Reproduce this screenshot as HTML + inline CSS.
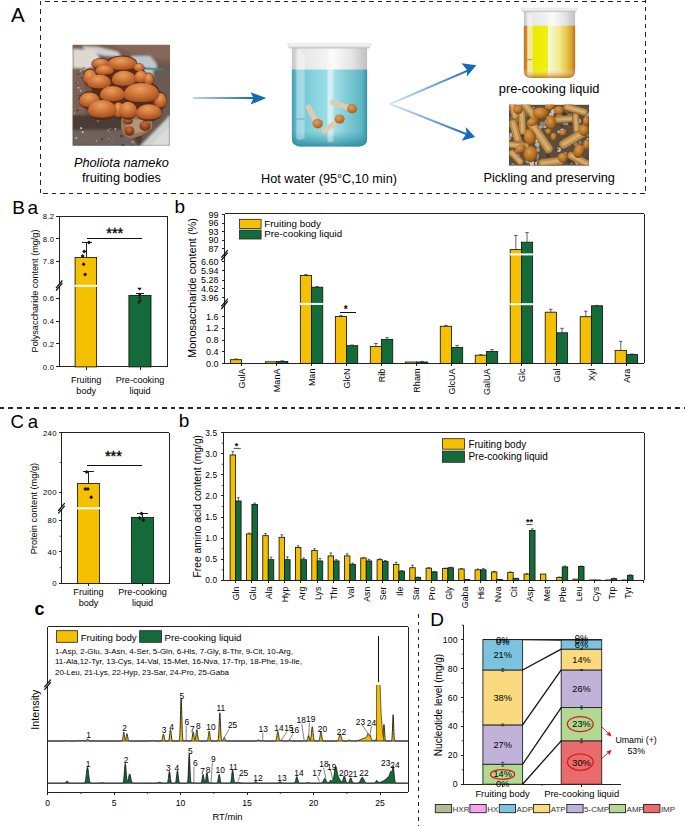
<!DOCTYPE html>
<html><head><meta charset="utf-8"><style>
html,body{margin:0;padding:0;background:#fff;}
svg{display:block;font-family:"Liberation Sans", sans-serif;}
</style></head><body>
<svg width="685" height="826" viewBox="0 0 685 826">
<rect width="685" height="826" fill="#fff"/>
<text x="11.00" y="21.70" font-size="20.5">A</text>
<line x1="45.10" y1="1.50" x2="646.00" y2="1.50" stroke="#222" stroke-width="1.2" stroke-dasharray="4.5 4.03" shape-rendering="crispEdges"/>
<line x1="40.50" y1="0.90" x2="40.50" y2="193.60" stroke="#222" stroke-width="1.2" stroke-dasharray="4.5 4.03" shape-rendering="crispEdges"/>
<line x1="43.30" y1="193.30" x2="646.00" y2="193.30" stroke="#222" stroke-width="1.2" stroke-dasharray="4.5 4.03" shape-rendering="crispEdges"/>
<line x1="645.50" y1="-1.65" x2="645.50" y2="193.60" stroke="#222" stroke-width="1.2" stroke-dasharray="4.5 4.03" shape-rendering="crispEdges"/>
<defs>
<clipPath id="cpM"><rect x="72.5" y="44.8" width="97.5" height="101"/></clipPath>
<clipPath id="cpP"><rect x="509" y="104.6" width="80" height="61.2"/></clipPath>
<linearGradient id="gArr" x1="0" x2="1" y1="0" y2="0"><stop offset="0" stop-color="#b8d6f0"/><stop offset="1" stop-color="#1668b8"/></linearGradient>
<linearGradient id="gArrU" gradientUnits="userSpaceOnUse" x1="390" y1="103" x2="470" y2="68"><stop offset="0" stop-color="#d6e8f7"/><stop offset="1" stop-color="#1668b8"/></linearGradient>
<linearGradient id="gArrD" gradientUnits="userSpaceOnUse" x1="390" y1="103" x2="470" y2="135"><stop offset="0" stop-color="#d6e8f7"/><stop offset="1" stop-color="#1668b8"/></linearGradient>
<linearGradient id="gWater" x1="0" x2="1" y1="0" y2="0"><stop offset="0" stop-color="#3f9cae"/><stop offset="0.07" stop-color="#6cc2d0"/><stop offset="0.3" stop-color="#88d4de"/><stop offset="0.46" stop-color="#98dde6"/><stop offset="0.5" stop-color="#c4ecf2"/><stop offset="0.56" stop-color="#a4e0e8"/><stop offset="0.75" stop-color="#7ccad6"/><stop offset="0.93" stop-color="#5fb6c4"/><stop offset="1" stop-color="#3a92a4"/></linearGradient>
<linearGradient id="gWaterV" x1="0" x2="0" y1="0" y2="1"><stop offset="0" stop-color="#3a98aa" stop-opacity="0"/><stop offset="0.8" stop-color="#3a98aa" stop-opacity="0"/><stop offset="1" stop-color="#24889a" stop-opacity="0.85"/></linearGradient>
<linearGradient id="gGlass" x1="0" x2="1" y1="0" y2="0"><stop offset="0" stop-color="#c4c4c4"/><stop offset="0.1" stop-color="#e6e6e6"/><stop offset="0.45" stop-color="#f2f2f2"/><stop offset="0.55" stop-color="#fbfbfb"/><stop offset="0.8" stop-color="#e4e4e4"/><stop offset="1" stop-color="#c0c0c0"/></linearGradient>
<linearGradient id="gRim" x1="0" x2="0" y1="0" y2="1"><stop offset="0" stop-color="#fafafa"/><stop offset="0.6" stop-color="#e8e8e8"/><stop offset="1" stop-color="#b8b8b8"/></linearGradient>
<linearGradient id="gYel" x1="0" x2="1" y1="0" y2="0"><stop offset="0" stop-color="#c46a1e"/><stop offset="0.05" stop-color="#d88a28"/><stop offset="0.08" stop-color="#efe6a0"/><stop offset="0.16" stop-color="#f2eca8"/><stop offset="0.18" stop-color="#eaea00"/><stop offset="0.46" stop-color="#f2f010"/><stop offset="0.48" stop-color="#ffffe8"/><stop offset="0.52" stop-color="#f8f6c8"/><stop offset="0.68" stop-color="#f2ec90"/><stop offset="0.82" stop-color="#e6cc48"/><stop offset="0.93" stop-color="#d8a030"/><stop offset="1" stop-color="#c46a1e"/></linearGradient>
<linearGradient id="gYelV" x1="0" x2="0" y1="0" y2="1"><stop offset="0" stop-color="#fff" stop-opacity="0"/><stop offset="0.82" stop-color="#fff" stop-opacity="0"/><stop offset="1" stop-color="#b85a10" stop-opacity="0.75"/></linearGradient>
<radialGradient id="gCap" cx="0.45" cy="0.3" r="0.78"><stop offset="0" stop-color="#e8a060"/><stop offset="0.5" stop-color="#cc7036"/><stop offset="0.82" stop-color="#aa5626"/><stop offset="1" stop-color="#7e3a16"/></radialGradient>
<radialGradient id="gCapD" cx="0.45" cy="0.3" r="0.75"><stop offset="0" stop-color="#c07040"/><stop offset="0.5" stop-color="#9a4a22"/><stop offset="1" stop-color="#5a2810"/></radialGradient>
<radialGradient id="gPk" cx="0.4" cy="0.35" r="0.75"><stop offset="0" stop-color="#dc9c4c"/><stop offset="0.6" stop-color="#b06a1e"/><stop offset="1" stop-color="#643810"/></radialGradient>
<linearGradient id="gStem" x1="0" x2="0" y1="0" y2="1"><stop offset="0" stop-color="#f0d8a8"/><stop offset="0.5" stop-color="#dcb878"/><stop offset="1" stop-color="#a8824a"/></linearGradient>
<linearGradient id="gMstem" x1="0" x2="0" y1="0" y2="1"><stop offset="0" stop-color="#f2e6d4"/><stop offset="1" stop-color="#d8c2a2"/></linearGradient>
<radialGradient id="gMcap" cx="0.4" cy="0.35" r="0.7"><stop offset="0" stop-color="#e0a060"/><stop offset="0.7" stop-color="#c07030"/><stop offset="1" stop-color="#9a5420"/></radialGradient>
<filter id="fb" x="-0.1" y="-0.1" width="1.2" height="1.2"><feGaussianBlur stdDeviation="0.55"/></filter>
<filter id="fb2" x="-0.2" y="-0.2" width="1.4" height="1.4"><feGaussianBlur stdDeviation="1.2"/></filter>
</defs>
<g clip-path="url(#cpM)">
<rect x="72.50" y="44.80" width="97.50" height="101.00" fill="#6a5850"/>
<g filter="url(#fb2)">
<path d="M72 44H172V64L150 60 118 52 95 54 72 58Z" fill="#7a5e50"/>
<path d="M110 44H172V60L150 58 125 50Z" fill="#86685a"/>
<path d="M82 46 L98 47 L118 52 L122 57 L104 56 L86 51Z" fill="#cfcfd2"/>
<path d="M73 49 94 50 100 58 95 67 82 70 73 68Z" fill="#ddd8d0"/>
<path d="M131 56 H150 L157 64 L156 78 L131 78Z" fill="#bcc6cc"/>
<path d="M153 70 172 66 172 117 158 117 153 100Z" fill="#6a5a52"/>
<path d="M72 68 83 68 86 100 84 117 72 117Z" fill="#7a6254"/>
<path d="M72 115 H142 L142 146 H72Z" fill="#4c3e36"/>
<path d="M72 130 H130 L138 146 H72Z" fill="#6e625a"/>
<path d="M140 146 L170 115 L170 146Z" fill="#cfd0d0"/>
<path d="M150 146 L170 125 L170 146Z" fill="#dcdcdc"/>
</g>
<circle cx="76.6" cy="106.6" r="0.4" fill="#3e3028" opacity="0.8"/>
<circle cx="112.1" cy="141.8" r="0.9" fill="#8a7a6c" opacity="0.8"/>
<circle cx="100.3" cy="144.1" r="0.4" fill="#c4bab0" opacity="0.8"/>
<circle cx="80.7" cy="90.7" r="1.0" fill="#c4bab0" opacity="0.8"/>
<circle cx="79.7" cy="111.7" r="0.5" fill="#a89888" opacity="0.8"/>
<circle cx="76.7" cy="82.5" r="0.9" fill="#3e3028" opacity="0.8"/>
<circle cx="96.4" cy="140.7" r="0.7" fill="#d8d0c8" opacity="0.8"/>
<circle cx="77.9" cy="110.6" r="1.0" fill="#2e2420" opacity="0.8"/>
<circle cx="107.3" cy="129.8" r="0.4" fill="#a89888" opacity="0.8"/>
<circle cx="121.6" cy="117.8" r="1.1" fill="#3e3028" opacity="0.8"/>
<circle cx="80.7" cy="70.7" r="1.0" fill="#c4bab0" opacity="0.8"/>
<circle cx="121.9" cy="144.9" r="0.9" fill="#3e3028" opacity="0.8"/>
<circle cx="72.8" cy="99.5" r="0.6" fill="#8a7a6c" opacity="0.8"/>
<circle cx="132.6" cy="142.0" r="0.9" fill="#d8d0c8" opacity="0.8"/>
<circle cx="76.3" cy="138.0" r="1.0" fill="#d8d0c8" opacity="0.8"/>
<circle cx="77.2" cy="82.7" r="0.5" fill="#2e2420" opacity="0.8"/>
<circle cx="77.4" cy="82.6" r="0.7" fill="#d8d0c8" opacity="0.8"/>
<circle cx="131.9" cy="145.4" r="0.7" fill="#3e3028" opacity="0.8"/>
<circle cx="125.0" cy="125.2" r="0.7" fill="#d8d0c8" opacity="0.8"/>
<circle cx="83.8" cy="67.8" r="1.1" fill="#8a7a6c" opacity="0.8"/>
<circle cx="97.8" cy="121.2" r="1.1" fill="#8a7a6c" opacity="0.8"/>
<circle cx="93.4" cy="117.4" r="0.4" fill="#2e2420" opacity="0.8"/>
<circle cx="108.8" cy="138.7" r="0.6" fill="#c4bab0" opacity="0.8"/>
<circle cx="109.8" cy="128.3" r="0.6" fill="#c4bab0" opacity="0.8"/>
<circle cx="115.4" cy="129.1" r="1.0" fill="#c4bab0" opacity="0.8"/>
<circle cx="128.9" cy="131.5" r="0.9" fill="#c4bab0" opacity="0.8"/>
<circle cx="123.7" cy="145.2" r="1.0" fill="#3e3028" opacity="0.8"/>
<circle cx="90.6" cy="121.4" r="1.1" fill="#3e3028" opacity="0.8"/>
<circle cx="129.1" cy="123.9" r="0.6" fill="#2e2420" opacity="0.8"/>
<circle cx="78.1" cy="74.2" r="0.7" fill="#2e2420" opacity="0.8"/>
<circle cx="135.5" cy="133.2" r="0.7" fill="#d8d0c8" opacity="0.8"/>
<circle cx="96.6" cy="117.5" r="1.0" fill="#a89888" opacity="0.8"/>
<circle cx="136.2" cy="128.6" r="1.0" fill="#3e3028" opacity="0.8"/>
<circle cx="138.7" cy="123.7" r="0.7" fill="#d8d0c8" opacity="0.8"/>
<circle cx="138.8" cy="124.0" r="0.5" fill="#c4bab0" opacity="0.8"/>
<circle cx="74.4" cy="113.3" r="0.7" fill="#d8d0c8" opacity="0.8"/>
<circle cx="82.7" cy="132.1" r="1.1" fill="#d8d0c8" opacity="0.8"/>
<circle cx="128.5" cy="124.1" r="0.4" fill="#d8d0c8" opacity="0.8"/>
<circle cx="133.5" cy="132.1" r="0.5" fill="#2e2420" opacity="0.8"/>
<circle cx="110.6" cy="132.7" r="0.4" fill="#d8d0c8" opacity="0.8"/>
<circle cx="113.3" cy="138.3" r="0.7" fill="#8a7a6c" opacity="0.8"/>
<circle cx="81.7" cy="78.1" r="0.8" fill="#3e3028" opacity="0.8"/>
<circle cx="82.4" cy="115.5" r="0.4" fill="#a89888" opacity="0.8"/>
<circle cx="111.4" cy="128.7" r="0.4" fill="#8a7a6c" opacity="0.8"/>
<circle cx="76.5" cy="81.3" r="0.4" fill="#a89888" opacity="0.8"/>
<circle cx="125.7" cy="139.0" r="0.7" fill="#8a7a6c" opacity="0.8"/>
<circle cx="108.1" cy="130.6" r="0.8" fill="#c4bab0" opacity="0.8"/>
<circle cx="121.4" cy="136.1" r="1.1" fill="#2e2420" opacity="0.8"/>
<circle cx="137.1" cy="137.4" r="0.5" fill="#3e3028" opacity="0.8"/>
<circle cx="82.1" cy="75.7" r="0.7" fill="#a89888" opacity="0.8"/>
<circle cx="81.1" cy="128.2" r="1.1" fill="#d8d0c8" opacity="0.8"/>
<circle cx="134.3" cy="143.4" r="0.5" fill="#a89888" opacity="0.8"/>
<circle cx="141.8" cy="132.6" r="0.5" fill="#3e3028" opacity="0.8"/>
<circle cx="79.0" cy="95.3" r="0.6" fill="#3e3028" opacity="0.8"/>
<circle cx="141.5" cy="129.1" r="1.1" fill="#a89888" opacity="0.8"/>
<circle cx="78.4" cy="87.8" r="1.1" fill="#c4bab0" opacity="0.8"/>
<circle cx="102.1" cy="138.9" r="1.0" fill="#2e2420" opacity="0.8"/>
<circle cx="73.7" cy="73.1" r="0.6" fill="#8a7a6c" opacity="0.8"/>
<circle cx="81.5" cy="108.2" r="0.5" fill="#a89888" opacity="0.8"/>
<circle cx="85.2" cy="140.6" r="0.9" fill="#8a7a6c" opacity="0.8"/>
<path d="M142 67 164 68.5 164 70.5 142 69.5Z" fill="#3a8a6a" opacity="0.75"/>
<path d="M96 72 Q106 64 124 64 Q144 66 150 80 Q156 96 152 108 Q142 114 130 114 Q112 114 100 108 Q90 98 92 84Z" fill="#5a2e18"/>
<path d="M122 116 Q136 113 152 118 L152 128 Q142 138 128 138 Q120 132 121 124Z" fill="#9c7658"/>
<path d="M126 120 Q136 118 146 121 L144 131 Q134 135 127 131Z" fill="#b4947a"/>
<ellipse cx="129.5" cy="131" rx="5" ry="4.8" fill="url(#gCapD)"/>
<ellipse cx="145" cy="126" rx="5.5" ry="5" fill="url(#gCapD)"/>
<ellipse cx="128" cy="121" rx="5" ry="3.5" fill="url(#gCapD)"/>
<ellipse cx="149" cy="121.3" rx="2.4" ry="1.5" fill="#d08040"/>
<ellipse cx="100.5" cy="64.0" rx="9.192" ry="5.9" fill="#55280f" opacity="0.9"/>
<ellipse cx="122" cy="63.7" rx="15.34" ry="8.276" fill="#55280f" opacity="0.9"/>
<ellipse cx="139" cy="68.2" rx="5.588" ry="5.0360000000000005" fill="#55280f" opacity="0.9"/>
<ellipse cx="104.5" cy="70.7" rx="9.616" ry="6.1160000000000005" fill="#55280f" opacity="0.9"/>
<ellipse cx="90" cy="77.2" rx="7.284000000000001" ry="8.924" fill="#55280f" opacity="0.9"/>
<ellipse cx="124" cy="78.7" rx="12.690000000000001" ry="9.356" fill="#55280f" opacity="0.9"/>
<ellipse cx="141" cy="77.2" rx="7.072000000000001" ry="7.412000000000001" fill="#55280f" opacity="0.9"/>
<ellipse cx="148.8" cy="79.7" rx="5.164000000000001" ry="7.196000000000001" fill="#55280f" opacity="0.9"/>
<ellipse cx="99" cy="82.0" rx="12.372" ry="8.600000000000001" fill="#55280f" opacity="0.9"/>
<ellipse cx="160.5" cy="100.7" rx="6.436" ry="8.924" fill="#55280f" opacity="0.9"/>
<ellipse cx="89.5" cy="100.2" rx="10.888000000000002" ry="8.924" fill="#55280f" opacity="0.9"/>
<ellipse cx="112.4" cy="94.10000000000001" rx="13.008000000000001" ry="9.356" fill="#55280f" opacity="0.9"/>
<ellipse cx="141.5" cy="92.7" rx="18.308000000000003" ry="11.516" fill="#55280f" opacity="0.9"/>
<ellipse cx="118.5" cy="110.2" rx="5.800000000000001" ry="9.14" fill="#55280f" opacity="0.9"/>
<ellipse cx="102.3" cy="109.2" rx="14.916" ry="10.868" fill="#55280f" opacity="0.9"/>
<ellipse cx="128" cy="110.2" rx="9.616" ry="9.788" fill="#55280f" opacity="0.9"/>
<ellipse cx="149" cy="112.2" rx="13.432" ry="9.356" fill="#55280f" opacity="0.9"/>
<path d="M91.8 64.7 C91.8 56.6 109.2 56.6 109.2 64.7 Q108.3 67.9 100.5 67.9 Q92.7 67.9 91.8 64.7Z" fill="url(#gCap)"/>
<path d="M107.2 65.2 C107.2 53.6 136.8 53.6 136.8 65.2 Q135.4 69.9 122.0 69.9 Q108.6 69.9 107.2 65.2Z" fill="url(#gCap)"/>
<path d="M133.9 68.6 C133.9 61.8 144.1 61.8 144.1 68.6 Q143.6 71.3 139.0 71.3 Q134.4 71.3 133.9 68.6Z" fill="url(#gCap)"/>
<path d="M95.4 71.5 C95.4 63.0 113.6 63.0 113.6 71.5 Q112.7 74.8 104.5 74.8 Q96.3 74.8 95.4 71.5Z" fill="url(#gCap)"/>
<path d="M83.2 78.9 C83.2 66.3 96.8 66.3 96.8 78.9 Q96.1 84.0 90.0 84.0 Q83.9 84.0 83.2 78.9Z" fill="url(#gCap)"/>
<path d="M111.8 80.6 C111.8 67.3 136.2 67.3 136.2 80.6 Q135.0 85.9 124.0 85.9 Q113.0 85.9 111.8 80.6Z" fill="url(#gCap)"/>
<path d="M134.4 78.4 C134.4 68.1 147.6 68.1 147.6 78.4 Q146.9 82.6 141.0 82.6 Q135.1 82.6 134.4 78.4Z" fill="url(#gCap)"/>
<path d="M144.1 80.8 C144.1 70.8 153.5 70.8 153.5 80.8 Q153.0 84.9 148.8 84.9 Q144.6 84.9 144.1 80.8Z" fill="url(#gCap)"/>
<path d="M87.1 83.6 C87.1 71.5 110.9 71.5 110.9 83.6 Q109.7 88.5 99.0 88.5 Q88.3 88.5 87.1 83.6Z" fill="url(#gCap)"/>
<path d="M154.6 102.4 C154.6 89.8 166.4 89.8 166.4 102.4 Q165.8 107.5 160.5 107.5 Q155.2 107.5 154.6 102.4Z" fill="url(#gCap)"/>
<path d="M79.1 101.9 C79.1 89.3 99.9 89.3 99.9 101.9 Q98.8 107.0 89.5 107.0 Q80.2 107.0 79.1 101.9Z" fill="url(#gCap)"/>
<path d="M99.9 96.0 C99.9 82.7 124.9 82.7 124.9 96.0 Q123.7 101.3 112.4 101.3 Q101.1 101.3 99.9 96.0Z" fill="url(#gCap)"/>
<path d="M123.7 95.4 C123.7 78.8 159.3 78.8 159.3 95.4 Q157.5 102.0 141.5 102.0 Q125.5 102.0 123.7 95.4Z" fill="url(#gCap)"/>
<path d="M113.2 112.0 C113.2 99.1 123.8 99.1 123.8 112.0 Q123.3 117.2 118.5 117.2 Q113.7 117.2 113.2 112.0Z" fill="url(#gCap)"/>
<path d="M87.9 111.6 C87.9 96.1 116.7 96.1 116.7 111.6 Q115.3 117.8 102.3 117.8 Q89.3 117.8 87.9 111.6Z" fill="url(#gCap)"/>
<path d="M118.9 112.3 C118.9 98.3 137.1 98.3 137.1 112.3 Q136.2 117.8 128.0 117.8 Q119.8 117.8 118.9 112.3Z" fill="url(#gCap)"/>
<path d="M136.1 114.1 C136.1 100.8 161.9 100.8 161.9 114.1 Q160.6 119.4 149.0 119.4 Q137.4 119.4 136.1 114.1Z" fill="url(#gCap)"/>
</g>
<text x="121.40" y="167.30" font-size="12.75" text-anchor="middle" font-style="italic">Pholiota nameko</text>
<text x="121.40" y="182.20" font-size="12.7" text-anchor="middle">fruiting bodies</text>
<path d="M193 97.1H254V98.9H193Z" fill="url(#gArr)"/>
<path d="M250.5 92.2 266.3 98 250.5 104.6 253.6 98Z" fill="#1668b8"/>
<path d="M291.9 48 V138 Q291.9 146.4 300 146.4 H359 Q367.1 146.4 367.1 138 V48Z" fill="url(#gGlass)"/>
<path d="M291.9 69.6 V138 Q291.9 146.4 300 146.4 H359 Q367.1 146.4 367.1 138 V69.6Z" fill="url(#gWater)"/>
<path d="M291.9 69.6 V138 Q291.9 146.4 300 146.4 H359 Q367.1 146.4 367.1 138 V69.6Z" fill="url(#gWaterV)"/>
<path d="M296.4 52 Q296.4 50 300 50 L304.6 56 V138 Q300 142 296.4 138Z" fill="#fff" opacity="0.35"/>
<rect x="296.4" y="118.6" width="8" height="0.8" fill="#5aa8b6"/>
<rect x="327.5" y="50" width="6" height="92" fill="#fff" opacity="0.35"/>
<path d="M287.8 43.5 H370.5 Q371 46 369 48.3 H289.5 Q287.3 46 287.8 43.5Z" fill="url(#gRim)" stroke="#c4c4c4" stroke-width="0.4"/>
<line x1="307.4" y1="105.2" x2="315.5" y2="120.5" stroke="#e6d6bc" stroke-width="5.2" stroke-linecap="butt"/>
<line x1="307.4" y1="105.2" x2="315.5" y2="120.5" stroke="#c8ae8a" stroke-width="5.2" stroke-dasharray="0.8 1.2" opacity="0.6"/>
<ellipse cx="317.7" cy="123.6" rx="5.2" ry="4.784000000000001" fill="url(#gMcap)"/>
<line x1="330.7" y1="101.8" x2="348.5" y2="107.8" stroke="#e6d6bc" stroke-width="5.2" stroke-linecap="butt"/>
<line x1="330.7" y1="101.8" x2="348.5" y2="107.8" stroke="#c8ae8a" stroke-width="5.2" stroke-dasharray="0.8 1.2" opacity="0.6"/>
<ellipse cx="352" cy="108.7" rx="5.0" ry="4.6000000000000005" fill="url(#gMcap)"/>
<line x1="322.5" y1="132.7" x2="337.5" y2="121" stroke="#e6d6bc" stroke-width="5.2" stroke-linecap="butt"/>
<line x1="322.5" y1="132.7" x2="337.5" y2="121" stroke="#c8ae8a" stroke-width="5.2" stroke-dasharray="0.8 1.2" opacity="0.6"/>
<ellipse cx="339.6" cy="119" rx="5.0" ry="4.6000000000000005" fill="url(#gMcap)"/>
<text x="329.00" y="182.50" font-size="12.67" text-anchor="middle">Hot water (95°C,10 min)</text>
<path d="M389.5 103.2 L468.5 69.2 L469.3 71 L390.3 105Z" fill="url(#gArrU)"/>
<path d="M461.5 63.3 476.3 65.3 466.8 76.6 467.3 70.3Z" fill="#1668b8"/>
<path d="M389.7 102.8 L467.8 133.6 L467.1 135.4 L389.1 104.6Z" fill="url(#gArrD)"/>
<path d="M461.6 140.8 475 137.1 465.8 126.9 466.6 133.6Z" fill="#1668b8"/>
<path d="M523.9 11 V70.5 Q523.9 78 531.5 78 H567.5 Q575.1 78 575.1 70.5 V11Z" fill="url(#gGlass)"/>
<path d="M523.9 25.8 V70.5 Q523.9 78 531.5 78 H567.5 Q575.1 78 575.1 70.5 V25.8Z" fill="url(#gYel)"/>
<path d="M523.9 25.8 V70.5 Q523.9 78 531.5 78 H567.5 Q575.1 78 575.1 70.5 V25.8Z" fill="url(#gYelV)"/>
<path d="M527 14 Q528 13 532 14.5 V26 H527Z" fill="#fff" opacity="0.4"/>
<rect x="527" y="59.3" width="5" height="0.8" fill="#c08020"/>
<path d="M521.2 8.2 H577.1 Q577.6 10.2 575.6 11.7 H522.7 Q520.7 10.2 521.2 8.2Z" fill="url(#gRim)" stroke="#c8c8c8" stroke-width="0.4"/>
<text x="549.10" y="93.20" font-size="12.85" text-anchor="middle">pre-cooking liquid</text>
<g clip-path="url(#cpP)">
<rect x="509.00" y="104.60" width="80.00" height="61.20" fill="#5c4c3e"/>
<g filter="url(#fb)">
<circle cx="558.8" cy="149.8" r="2.2" fill="#c8c2ba"/>
<circle cx="568.2" cy="160.9" r="0.9" fill="#8c8278"/>
<circle cx="571.1" cy="119.8" r="0.9" fill="#b8b2aa"/>
<circle cx="518.1" cy="133.2" r="1.2" fill="#3e3024"/>
<circle cx="517.2" cy="119.8" r="2.1" fill="#8c8278"/>
<circle cx="531.4" cy="160.5" r="2.2" fill="#b8b2aa"/>
<circle cx="570.0" cy="109.0" r="1.9" fill="#8c8278"/>
<circle cx="519.1" cy="104.7" r="2.4" fill="#b8b2aa"/>
<circle cx="570.9" cy="163.2" r="1.1" fill="#b8b2aa"/>
<circle cx="532.1" cy="163.3" r="1.8" fill="#968c82"/>
<circle cx="559.1" cy="115.7" r="2.5" fill="#b8b2aa"/>
<circle cx="586.3" cy="159.1" r="1.3" fill="#4a3a2c"/>
<circle cx="542.2" cy="161.7" r="1.3" fill="#4a3a2c"/>
<circle cx="533.1" cy="141.4" r="0.8" fill="#968c82"/>
<circle cx="565.6" cy="108.6" r="1.4" fill="#4a3a2c"/>
<circle cx="547.5" cy="123.9" r="1.7" fill="#968c82"/>
<circle cx="523.1" cy="120.2" r="2.5" fill="#968c82"/>
<circle cx="537.6" cy="129.3" r="1.8" fill="#8c8278"/>
<circle cx="538.3" cy="139.9" r="0.8" fill="#a49c94"/>
<circle cx="565.6" cy="142.6" r="2.5" fill="#a49c94"/>
<circle cx="569.5" cy="161.3" r="2.5" fill="#4a3a2c"/>
<circle cx="550.0" cy="159.1" r="1.3" fill="#8c8278"/>
<circle cx="517.6" cy="150.3" r="2.2" fill="#c8c2ba"/>
<circle cx="532.7" cy="131.0" r="2.6" fill="#b8b2aa"/>
<circle cx="536.3" cy="141.9" r="2.5" fill="#4a3a2c"/>
<circle cx="531.1" cy="147.5" r="1.0" fill="#968c82"/>
<circle cx="534.3" cy="115.4" r="0.9" fill="#b8b2aa"/>
<circle cx="566.7" cy="123.5" r="1.7" fill="#968c82"/>
<circle cx="512.9" cy="164.8" r="1.8" fill="#8c8278"/>
<circle cx="511.5" cy="149.8" r="1.4" fill="#4a3a2c"/>
<circle cx="545.5" cy="130.3" r="0.9" fill="#968c82"/>
<circle cx="511.6" cy="134.7" r="2.3" fill="#b8b2aa"/>
<circle cx="587.5" cy="139.0" r="1.0" fill="#c8c2ba"/>
<circle cx="542.1" cy="114.9" r="1.5" fill="#a49c94"/>
<circle cx="576.6" cy="122.6" r="1.6" fill="#3e3024"/>
<circle cx="577.2" cy="164.1" r="1.6" fill="#8c8278"/>
<circle cx="564.1" cy="124.0" r="1.3" fill="#8c8278"/>
<circle cx="541.3" cy="113.5" r="1.5" fill="#3e3024"/>
<circle cx="585.8" cy="142.8" r="1.7" fill="#4a3a2c"/>
<circle cx="523.4" cy="134.6" r="1.7" fill="#3e3024"/>
<circle cx="578.4" cy="126.6" r="2.2" fill="#c8c2ba"/>
<circle cx="537.5" cy="140.4" r="0.9" fill="#4a3a2c"/>
<circle cx="538.1" cy="147.6" r="1.3" fill="#8c8278"/>
<circle cx="530.2" cy="164.4" r="2.1" fill="#4a3a2c"/>
<circle cx="561.0" cy="140.0" r="0.8" fill="#3e3024"/>
<circle cx="570.9" cy="124.5" r="1.3" fill="#4a3a2c"/>
<circle cx="574.3" cy="144.1" r="2.2" fill="#4a3a2c"/>
<circle cx="530.9" cy="125.7" r="2.5" fill="#8c8278"/>
<circle cx="537.0" cy="156.0" r="2.4" fill="#968c82"/>
<circle cx="545.0" cy="126.8" r="1.4" fill="#b8b2aa"/>
<circle cx="551.3" cy="114.7" r="2.3" fill="#c8c2ba"/>
<circle cx="547.2" cy="146.8" r="2.1" fill="#968c82"/>
<circle cx="542.3" cy="142.2" r="2.5" fill="#3e3024"/>
<circle cx="562.2" cy="130.3" r="1.9" fill="#c8c2ba"/>
<circle cx="578.4" cy="121.1" r="2.6" fill="#b8b2aa"/>
<circle cx="521.8" cy="131.5" r="2.0" fill="#b8b2aa"/>
<circle cx="569.7" cy="115.6" r="2.1" fill="#8c8278"/>
<circle cx="587.4" cy="114.7" r="2.4" fill="#a49c94"/>
<circle cx="534.4" cy="115.7" r="1.1" fill="#a49c94"/>
<circle cx="542.2" cy="126.0" r="2.0" fill="#a49c94"/>
<circle cx="556.2" cy="119.1" r="2.4" fill="#a49c94"/>
<circle cx="537.0" cy="162.7" r="2.3" fill="#c8c2ba"/>
<circle cx="518.2" cy="155.3" r="1.5" fill="#a49c94"/>
<circle cx="553.0" cy="123.0" r="1.3" fill="#3e3024"/>
<circle cx="536.1" cy="140.0" r="2.5" fill="#c8c2ba"/>
<circle cx="519.3" cy="129.6" r="1.8" fill="#3e3024"/>
<circle cx="538.6" cy="113.3" r="1.9" fill="#3e3024"/>
<circle cx="547.2" cy="116.7" r="1.0" fill="#a49c94"/>
<circle cx="537.1" cy="159.1" r="0.8" fill="#a49c94"/>
<circle cx="535.1" cy="160.5" r="1.8" fill="#4a3a2c"/>
<circle cx="559.4" cy="159.0" r="1.5" fill="#8c8278"/>
<circle cx="587.1" cy="134.7" r="1.7" fill="#968c82"/>
<circle cx="539.4" cy="163.2" r="2.4" fill="#3e3024"/>
<circle cx="556.5" cy="149.8" r="1.3" fill="#4a3a2c"/>
<circle cx="542.2" cy="124.1" r="2.6" fill="#8c8278"/>
<circle cx="583.4" cy="113.3" r="0.8" fill="#968c82"/>
<circle cx="558.7" cy="131.7" r="1.3" fill="#c8c2ba"/>
<circle cx="519.9" cy="128.5" r="1.7" fill="#3e3024"/>
<circle cx="530.9" cy="161.7" r="2.2" fill="#b8b2aa"/>
<circle cx="548.2" cy="156.1" r="2.1" fill="#4a3a2c"/>
<circle cx="532.5" cy="141.7" r="1.7" fill="#968c82"/>
<circle cx="578.1" cy="158.3" r="2.4" fill="#a49c94"/>
<circle cx="569.8" cy="122.9" r="1.8" fill="#4a3a2c"/>
<circle cx="558.1" cy="149.2" r="0.8" fill="#4a3a2c"/>
<circle cx="537.9" cy="150.0" r="1.9" fill="#a49c94"/>
<circle cx="509.2" cy="138.3" r="2.0" fill="#a49c94"/>
<circle cx="580.0" cy="137.9" r="0.8" fill="#c8c2ba"/>
<circle cx="573.6" cy="140.9" r="2.0" fill="#968c82"/>
<circle cx="560.9" cy="157.0" r="2.3" fill="#8c8278"/>
<circle cx="540.3" cy="156.6" r="1.2" fill="#4a3a2c"/>
<circle cx="546.2" cy="150.9" r="1.3" fill="#a49c94"/>
<circle cx="564.6" cy="131.0" r="1.3" fill="#c8c2ba"/>
<circle cx="546.8" cy="123.6" r="1.1" fill="#968c82"/>
<circle cx="552.9" cy="135.0" r="1.4" fill="#b8b2aa"/>
<circle cx="543.0" cy="137.6" r="0.9" fill="#968c82"/>
<circle cx="527.4" cy="154.6" r="2.2" fill="#968c82"/>
<circle cx="584.4" cy="124.9" r="1.6" fill="#a49c94"/>
<circle cx="588.9" cy="147.4" r="0.9" fill="#c8c2ba"/>
<circle cx="518.8" cy="142.1" r="2.3" fill="#a49c94"/>
<circle cx="566.0" cy="112.8" r="1.3" fill="#8c8278"/>
<circle cx="521.0" cy="141.8" r="1.5" fill="#b8b2aa"/>
<circle cx="514.4" cy="117.6" r="1.8" fill="#968c82"/>
<circle cx="539.3" cy="109.0" r="0.9" fill="#3e3024"/>
<circle cx="518.5" cy="128.9" r="1.9" fill="#a49c94"/>
<circle cx="543.5" cy="123.8" r="1.9" fill="#8c8278"/>
<circle cx="537.3" cy="144.6" r="2.4" fill="#b8b2aa"/>
<circle cx="564.8" cy="113.8" r="1.9" fill="#3e3024"/>
<circle cx="532.2" cy="162.1" r="1.8" fill="#b8b2aa"/>
<circle cx="530.1" cy="138.3" r="1.3" fill="#c8c2ba"/>
<circle cx="531.7" cy="164.1" r="2.3" fill="#c8c2ba"/>
<circle cx="538.7" cy="149.5" r="1.1" fill="#968c82"/>
<circle cx="510.5" cy="125.4" r="1.8" fill="#a49c94"/>
<circle cx="516.3" cy="112.2" r="1.9" fill="#b8b2aa"/>
<circle cx="540.2" cy="132.8" r="2.5" fill="#a49c94"/>
<circle cx="572.7" cy="106.4" r="2.1" fill="#a49c94"/>
<circle cx="576.9" cy="162.2" r="1.6" fill="#c8c2ba"/>
<circle cx="526.8" cy="111.7" r="2.6" fill="#968c82"/>
<circle cx="548.3" cy="117.5" r="2.1" fill="#8c8278"/>
<circle cx="537.3" cy="118.9" r="1.4" fill="#3e3024"/>
<circle cx="565.4" cy="153.2" r="1.5" fill="#968c82"/>
<circle cx="575.5" cy="144.1" r="2.2" fill="#8c8278"/>
<circle cx="585.9" cy="126.7" r="0.9" fill="#3e3024"/>
<circle cx="526.2" cy="115.6" r="0.9" fill="#a49c94"/>
<circle cx="511.7" cy="116.9" r="0.9" fill="#8c8278"/>
<circle cx="561.9" cy="125.9" r="1.6" fill="#4a3a2c"/>
<circle cx="580.2" cy="142.4" r="1.6" fill="#8c8278"/>
<circle cx="546.0" cy="116.3" r="2.0" fill="#a49c94"/>
<circle cx="539.0" cy="128.1" r="2.4" fill="#b8b2aa"/>
<circle cx="553.2" cy="111.3" r="2.3" fill="#c8c2ba"/>
<circle cx="532.0" cy="118.9" r="1.7" fill="#a49c94"/>
<circle cx="536.5" cy="150.5" r="1.4" fill="#a49c94"/>
<circle cx="564.0" cy="145.7" r="1.6" fill="#b8b2aa"/>
<circle cx="518.4" cy="145.4" r="1.3" fill="#968c82"/>
<circle cx="528.2" cy="165.2" r="0.9" fill="#968c82"/>
<circle cx="511.0" cy="118.7" r="0.9" fill="#8c8278"/>
<circle cx="581.9" cy="147.7" r="2.0" fill="#b8b2aa"/>
<circle cx="546.4" cy="121.9" r="2.1" fill="#968c82"/>
<circle cx="546.4" cy="151.9" r="1.1" fill="#b8b2aa"/>
<circle cx="584.2" cy="144.0" r="1.6" fill="#4a3a2c"/>
<circle cx="509.5" cy="108.3" r="2.2" fill="#8c8278"/>
<circle cx="522.6" cy="106.6" r="2.3" fill="#c8c2ba"/>
<circle cx="550.5" cy="126.0" r="1.0" fill="#a49c94"/>
<circle cx="528.0" cy="153.6" r="1.0" fill="#8c8278"/>
<circle cx="513.3" cy="119.5" r="0.9" fill="#8c8278"/>
<circle cx="571.5" cy="107.5" r="2.3" fill="#8c8278"/>
<circle cx="533.5" cy="107.7" r="0.9" fill="#b8b2aa"/>
<circle cx="523.4" cy="135.6" r="1.5" fill="#3e3024"/>
<circle cx="527.7" cy="161.1" r="2.2" fill="#a49c94"/>
<circle cx="552.4" cy="160.8" r="1.9" fill="#c8c2ba"/>
<circle cx="567.4" cy="142.7" r="1.6" fill="#4a3a2c"/>
<line x1="512" y1="104" x2="515" y2="116" stroke="#8a5a22" stroke-width="7.4" stroke-linecap="round"/>
<line x1="512" y1="104" x2="515" y2="116" stroke="#bc8c4c" stroke-width="6" stroke-linecap="round"/>
<line x1="512" y1="104" x2="515" y2="116" stroke="#d6b276" stroke-width="2.7" stroke-linecap="round" opacity="0.85"/>
<line x1="521.5" y1="112" x2="522.5" y2="131" stroke="#8a5a22" stroke-width="7.9" stroke-linecap="round"/>
<line x1="521.5" y1="112" x2="522.5" y2="131" stroke="#bc8c4c" stroke-width="6.5" stroke-linecap="round"/>
<line x1="521.5" y1="112" x2="522.5" y2="131" stroke="#d6b276" stroke-width="2.9" stroke-linecap="round" opacity="0.85"/>
<line x1="525" y1="105" x2="535" y2="117" stroke="#8a5a22" stroke-width="8.4" stroke-linecap="round"/>
<line x1="525" y1="105" x2="535" y2="117" stroke="#bc8c4c" stroke-width="7" stroke-linecap="round"/>
<line x1="525" y1="105" x2="535" y2="117" stroke="#d6b276" stroke-width="3.1" stroke-linecap="round" opacity="0.85"/>
<line x1="557.6" y1="119.5" x2="573.3" y2="118.5" stroke="#8a5a22" stroke-width="7.4" stroke-linecap="round"/>
<line x1="557.6" y1="119.5" x2="573.3" y2="118.5" stroke="#bc8c4c" stroke-width="6" stroke-linecap="round"/>
<line x1="557.6" y1="119.5" x2="573.3" y2="118.5" stroke="#d6b276" stroke-width="2.7" stroke-linecap="round" opacity="0.85"/>
<line x1="567" y1="107" x2="584" y2="112" stroke="#8a5a22" stroke-width="7.9" stroke-linecap="round"/>
<line x1="567" y1="107" x2="584" y2="112" stroke="#bc8c4c" stroke-width="6.5" stroke-linecap="round"/>
<line x1="567" y1="107" x2="584" y2="112" stroke="#d6b276" stroke-width="2.9" stroke-linecap="round" opacity="0.85"/>
<line x1="575.5" y1="116" x2="576.5" y2="130" stroke="#8a5a22" stroke-width="6.9" stroke-linecap="round"/>
<line x1="575.5" y1="116" x2="576.5" y2="130" stroke="#bc8c4c" stroke-width="5.5" stroke-linecap="round"/>
<line x1="575.5" y1="116" x2="576.5" y2="130" stroke="#d6b276" stroke-width="2.5" stroke-linecap="round" opacity="0.85"/>
<line x1="513" y1="123" x2="517.5" y2="139" stroke="#8a5a22" stroke-width="8.4" stroke-linecap="round"/>
<line x1="513" y1="123" x2="517.5" y2="139" stroke="#bc8c4c" stroke-width="7" stroke-linecap="round"/>
<line x1="513" y1="123" x2="517.5" y2="139" stroke="#d6b276" stroke-width="3.1" stroke-linecap="round" opacity="0.85"/>
<line x1="510.3" y1="144.6" x2="525.5" y2="146" stroke="#8a5a22" stroke-width="7.4" stroke-linecap="round"/>
<line x1="510.3" y1="144.6" x2="525.5" y2="146" stroke="#bc8c4c" stroke-width="6" stroke-linecap="round"/>
<line x1="510.3" y1="144.6" x2="525.5" y2="146" stroke="#d6b276" stroke-width="2.7" stroke-linecap="round" opacity="0.85"/>
<line x1="512" y1="153" x2="520" y2="161.5" stroke="#8a5a22" stroke-width="7.4" stroke-linecap="round"/>
<line x1="512" y1="153" x2="520" y2="161.5" stroke="#bc8c4c" stroke-width="6" stroke-linecap="round"/>
<line x1="512" y1="153" x2="520" y2="161.5" stroke="#d6b276" stroke-width="2.7" stroke-linecap="round" opacity="0.85"/>
<line x1="542" y1="163" x2="560" y2="160.8" stroke="#8a5a22" stroke-width="8.4" stroke-linecap="round"/>
<line x1="542" y1="163" x2="560" y2="160.8" stroke="#bc8c4c" stroke-width="7" stroke-linecap="round"/>
<line x1="542" y1="163" x2="560" y2="160.8" stroke="#d6b276" stroke-width="3.1" stroke-linecap="round" opacity="0.85"/>
<line x1="571" y1="155.5" x2="586.5" y2="163.5" stroke="#8a5a22" stroke-width="7.9" stroke-linecap="round"/>
<line x1="571" y1="155.5" x2="586.5" y2="163.5" stroke="#bc8c4c" stroke-width="6.5" stroke-linecap="round"/>
<line x1="571" y1="155.5" x2="586.5" y2="163.5" stroke="#d6b276" stroke-width="2.9" stroke-linecap="round" opacity="0.85"/>
<line x1="531.3" y1="123.6" x2="548.4" y2="148.6" stroke="#8a5a22" stroke-width="9.4" stroke-linecap="round"/>
<line x1="531.3" y1="123.6" x2="548.4" y2="148.6" stroke="#bc8c4c" stroke-width="8" stroke-linecap="round"/>
<line x1="531.3" y1="123.6" x2="548.4" y2="148.6" stroke="#d6b276" stroke-width="3.6" stroke-linecap="round" opacity="0.85"/>
<line x1="563.5" y1="144.2" x2="583.5" y2="132.5" stroke="#8a5a22" stroke-width="9.4" stroke-linecap="round"/>
<line x1="563.5" y1="144.2" x2="583.5" y2="132.5" stroke="#bc8c4c" stroke-width="8" stroke-linecap="round"/>
<line x1="563.5" y1="144.2" x2="583.5" y2="132.5" stroke="#d6b276" stroke-width="3.6" stroke-linecap="round" opacity="0.85"/>
<ellipse cx="518" cy="109.5" rx="5" ry="4.5" transform="rotate(0 518 109.5)" fill="url(#gPk)"/>
<ellipse cx="540.5" cy="113.2" rx="8" ry="6" transform="rotate(0 540.5 113.2)" fill="url(#gPk)"/>
<ellipse cx="549.7" cy="106.6" rx="5" ry="3.5" transform="rotate(0 549.7 106.6)" fill="url(#gPk)"/>
<ellipse cx="558.9" cy="110.5" rx="5" ry="4.5" transform="rotate(0 558.9 110.5)" fill="url(#gPk)"/>
<ellipse cx="551" cy="122.3" rx="5" ry="7" transform="rotate(-10 551 122.3)" fill="url(#gPk)"/>
<ellipse cx="583.8" cy="130.2" rx="5" ry="6" transform="rotate(0 583.8 130.2)" fill="url(#gPk)"/>
<ellipse cx="532.6" cy="121.7" rx="6" ry="4" transform="rotate(-20 532.6 121.7)" fill="url(#gPk)"/>
<ellipse cx="530" cy="136.8" rx="6" ry="8" transform="rotate(-15 530 136.8)" fill="url(#gPk)"/>
<ellipse cx="520.8" cy="148.6" rx="5.5" ry="4" transform="rotate(-20 520.8 148.6)" fill="url(#gPk)"/>
<ellipse cx="530.6" cy="154.2" rx="7" ry="8" transform="rotate(0 530.6 154.2)" fill="url(#gPk)"/>
<ellipse cx="562.8" cy="157.8" rx="5" ry="5" transform="rotate(0 562.8 157.8)" fill="url(#gPk)"/>
<ellipse cx="578.6" cy="151.2" rx="5" ry="7" transform="rotate(15 578.6 151.2)" fill="url(#gPk)"/>
<ellipse cx="586.5" cy="144.7" rx="3.5" ry="5" transform="rotate(0 586.5 144.7)" fill="url(#gPk)"/>
<ellipse cx="548.4" cy="131.5" rx="3" ry="3" transform="rotate(0 548.4 131.5)" fill="url(#gPk)"/>
<ellipse cx="562.8" cy="132.8" rx="3.5" ry="3" transform="rotate(0 562.8 132.8)" fill="url(#gPk)"/>
<ellipse cx="553.6" cy="136.8" rx="3" ry="4" transform="rotate(0 553.6 136.8)" fill="url(#gPk)"/>
<ellipse cx="586" cy="121" rx="3" ry="5" transform="rotate(0 586 121)" fill="url(#gPk)"/>
</g>
</g>
<text x="549.20" y="182.30" font-size="12.73" text-anchor="middle">Pickling and preserving</text>
<text x="12.20" y="213.70" font-size="19">B</text>
<text x="27.60" y="213.70" font-size="19">a</text>
<line x1="59.20" y1="216.20" x2="167.30" y2="216.20" stroke="#222" stroke-width="1" shape-rendering="crispEdges"/>
<line x1="167.30" y1="216.20" x2="167.30" y2="366.90" stroke="#222" stroke-width="1" shape-rendering="crispEdges"/>
<line x1="59.20" y1="366.90" x2="167.30" y2="366.90" stroke="#222" stroke-width="1.1" shape-rendering="crispEdges"/>
<line x1="59.20" y1="216.20" x2="59.20" y2="284.30" stroke="#222" stroke-width="1.1" shape-rendering="crispEdges"/>
<line x1="59.20" y1="286.90" x2="59.20" y2="366.90" stroke="#222" stroke-width="1.1" shape-rendering="crispEdges"/>
<path d="M56.00 290.70L62.40 283.10M56.00 288.10L62.40 280.50" stroke="#111" stroke-width="1.25" fill="none"/>
<line x1="56.20" y1="216.20" x2="59.20" y2="216.20" stroke="#222" stroke-width="1" shape-rendering="crispEdges"/>
<text x="54.40" y="218.90" font-size="7.6" text-anchor="end" letter-spacing="0.35">8.2</text>
<line x1="56.20" y1="238.80" x2="59.20" y2="238.80" stroke="#222" stroke-width="1" shape-rendering="crispEdges"/>
<text x="54.40" y="241.50" font-size="7.6" text-anchor="end" letter-spacing="0.35">8.0</text>
<line x1="56.20" y1="261.70" x2="59.20" y2="261.70" stroke="#222" stroke-width="1" shape-rendering="crispEdges"/>
<text x="54.40" y="264.40" font-size="7.6" text-anchor="end" letter-spacing="0.35">7.8</text>
<line x1="56.20" y1="298.70" x2="59.20" y2="298.70" stroke="#222" stroke-width="1" shape-rendering="crispEdges"/>
<text x="54.40" y="301.40" font-size="7.6" text-anchor="end" letter-spacing="0.35">0.6</text>
<line x1="56.20" y1="321.30" x2="59.20" y2="321.30" stroke="#222" stroke-width="1" shape-rendering="crispEdges"/>
<text x="54.40" y="324.00" font-size="7.6" text-anchor="end" letter-spacing="0.35">0.4</text>
<line x1="56.20" y1="343.80" x2="59.20" y2="343.80" stroke="#222" stroke-width="1" shape-rendering="crispEdges"/>
<text x="54.40" y="346.50" font-size="7.6" text-anchor="end" letter-spacing="0.35">0.2</text>
<line x1="56.20" y1="366.90" x2="59.20" y2="366.90" stroke="#222" stroke-width="1" shape-rendering="crispEdges"/>
<text x="54.40" y="369.60" font-size="7.6" text-anchor="end" letter-spacing="0.35">0.0</text>
<text x="38.00" y="291.00" font-size="9.1" text-anchor="middle" transform="rotate(-90 38.00 291.00)">Polysaccharide content (mg/g)</text>
<rect x="75.10" y="257.50" width="21.50" height="109.40" fill="#f5c000" stroke="#151515" stroke-width="0.85"/>
<rect x="74.50" y="284.80" width="22.70" height="2.00" fill="#fff"/>
<rect x="128.90" y="295.40" width="22.10" height="71.50" fill="#126b39" stroke="#151515" stroke-width="0.85"/>
<line x1="86.50" y1="257.50" x2="86.50" y2="242.30" stroke="#222" stroke-width="1.0" shape-rendering="crispEdges"/>
<line x1="81.50" y1="242.30" x2="91.50" y2="242.30" stroke="#222" stroke-width="1.0" shape-rendering="crispEdges"/>
<line x1="140.00" y1="295.40" x2="140.00" y2="293.00" stroke="#222" stroke-width="1.0" shape-rendering="crispEdges"/>
<line x1="136.00" y1="293.00" x2="144.00" y2="293.00" stroke="#222" stroke-width="1.0" shape-rendering="crispEdges"/>
<path d="M89.00 240.40L91.00 242.40L89.00 244.40L87.00 242.40Z" fill="#111"/>
<path d="M84.20 249.50L86.20 251.50L84.20 253.50L82.20 251.50Z" fill="#111"/>
<path d="M82.60 254.00L84.60 256.00L82.60 258.00L80.60 256.00Z" fill="#111"/>
<path d="M83.60 262.30L85.60 264.30L83.60 266.30L81.60 264.30Z" fill="#111"/>
<path d="M85.10 272.60L87.10 274.60L85.10 276.60L83.10 274.60Z" fill="#111"/>
<path d="M139.60 293.20L141.00 294.60L139.60 296.00L138.20 294.60Z" fill="#111"/>
<path d="M139.80 296.10L141.20 297.50L139.80 298.90L138.40 297.50Z" fill="#111"/>
<path d="M140.30 299.10L141.70 300.50L140.30 301.90L138.90 300.50Z" fill="#111"/>
<path d="M138.90 301.10L140.30 302.50L138.90 303.90L137.50 302.50Z" fill="#111"/>
<path d="M137.2 287.8H141.8L139.5 290.6Z" fill="#111"/>
<line x1="86.70" y1="238.10" x2="141.90" y2="238.10" stroke="#111" stroke-width="1.0" shape-rendering="crispEdges"/>
<text x="114.80" y="237.60" font-size="14.6" text-anchor="middle" stroke="#000" stroke-width="0.35">***</text>
<line x1="86.20" y1="366.90" x2="86.20" y2="369.50" stroke="#222" stroke-width="1" shape-rendering="crispEdges"/>
<line x1="140.00" y1="366.90" x2="140.00" y2="369.50" stroke="#222" stroke-width="1" shape-rendering="crispEdges"/>
<text x="86.20" y="382.80" font-size="9.1" text-anchor="middle">Fruiting</text>
<text x="86.20" y="393.80" font-size="9.1" text-anchor="middle">body</text>
<text x="140.00" y="382.80" font-size="9.1" text-anchor="middle">Pre-cooking</text>
<text x="140.00" y="393.80" font-size="9.1" text-anchor="middle">liquid</text>
<text x="174.40" y="213.00" font-size="19">b</text>
<line x1="224.50" y1="213.50" x2="644.00" y2="213.50" stroke="#222" stroke-width="1" shape-rendering="crispEdges"/>
<line x1="644.00" y1="213.50" x2="644.00" y2="363.40" stroke="#222" stroke-width="1" shape-rendering="crispEdges"/>
<line x1="224.50" y1="363.40" x2="644.00" y2="363.40" stroke="#222" stroke-width="1.2" shape-rendering="crispEdges"/>
<line x1="224.50" y1="213.50" x2="224.50" y2="363.40" stroke="#222" stroke-width="1.2" shape-rendering="crispEdges"/>
<path d="M221.30 260.30L227.70 252.70M221.30 257.70L227.70 250.10" stroke="#111" stroke-width="1.25" fill="none"/>
<path d="M221.30 309.00L227.70 301.40M221.30 306.40L227.70 298.80" stroke="#111" stroke-width="1.25" fill="none"/>
<line x1="221.50" y1="214.50" x2="224.50" y2="214.50" stroke="#222" stroke-width="1" shape-rendering="crispEdges"/>
<text x="218.60" y="217.70" font-size="9.0" text-anchor="end">99</text>
<line x1="221.50" y1="223.10" x2="224.50" y2="223.10" stroke="#222" stroke-width="1" shape-rendering="crispEdges"/>
<text x="218.60" y="226.30" font-size="9.0" text-anchor="end">96</text>
<line x1="221.50" y1="231.60" x2="224.50" y2="231.60" stroke="#222" stroke-width="1" shape-rendering="crispEdges"/>
<text x="218.60" y="234.80" font-size="9.0" text-anchor="end">93</text>
<line x1="221.50" y1="240.00" x2="224.50" y2="240.00" stroke="#222" stroke-width="1" shape-rendering="crispEdges"/>
<text x="218.60" y="243.20" font-size="9.0" text-anchor="end">90</text>
<line x1="221.50" y1="248.30" x2="224.50" y2="248.30" stroke="#222" stroke-width="1" shape-rendering="crispEdges"/>
<text x="218.60" y="251.50" font-size="9.0" text-anchor="end">87</text>
<line x1="221.50" y1="261.80" x2="224.50" y2="261.80" stroke="#222" stroke-width="1" shape-rendering="crispEdges"/>
<text x="218.60" y="265.00" font-size="9.0" text-anchor="end">6.60</text>
<line x1="221.50" y1="270.90" x2="224.50" y2="270.90" stroke="#222" stroke-width="1" shape-rendering="crispEdges"/>
<text x="218.60" y="274.10" font-size="9.0" text-anchor="end">5.94</text>
<line x1="221.50" y1="280.00" x2="224.50" y2="280.00" stroke="#222" stroke-width="1" shape-rendering="crispEdges"/>
<text x="218.60" y="283.20" font-size="9.0" text-anchor="end">5.28</text>
<line x1="221.50" y1="288.80" x2="224.50" y2="288.80" stroke="#222" stroke-width="1" shape-rendering="crispEdges"/>
<text x="218.60" y="292.00" font-size="9.0" text-anchor="end">4.62</text>
<line x1="221.50" y1="297.50" x2="224.50" y2="297.50" stroke="#222" stroke-width="1" shape-rendering="crispEdges"/>
<text x="218.60" y="300.70" font-size="9.0" text-anchor="end">3.96</text>
<line x1="221.50" y1="316.40" x2="224.50" y2="316.40" stroke="#222" stroke-width="1" shape-rendering="crispEdges"/>
<text x="218.60" y="319.60" font-size="9.0" text-anchor="end">1.6</text>
<line x1="221.50" y1="328.20" x2="224.50" y2="328.20" stroke="#222" stroke-width="1" shape-rendering="crispEdges"/>
<text x="218.60" y="331.40" font-size="9.0" text-anchor="end">1.2</text>
<line x1="221.50" y1="340.20" x2="224.50" y2="340.20" stroke="#222" stroke-width="1" shape-rendering="crispEdges"/>
<text x="218.60" y="343.40" font-size="9.0" text-anchor="end">0.8</text>
<line x1="221.50" y1="351.70" x2="224.50" y2="351.70" stroke="#222" stroke-width="1" shape-rendering="crispEdges"/>
<text x="218.60" y="354.90" font-size="9.0" text-anchor="end">0.4</text>
<line x1="221.50" y1="363.30" x2="224.50" y2="363.30" stroke="#222" stroke-width="1" shape-rendering="crispEdges"/>
<text x="218.60" y="366.50" font-size="9.0" text-anchor="end">0.0</text>
<text x="196.20" y="288.00" font-size="11" text-anchor="middle" transform="rotate(-90 196.20 288.00)">Monosaccharide content (%)</text>
<rect x="239.50" y="219.30" width="21.60" height="9.10" fill="#f5c000" stroke="#222" stroke-width="0.8"/>
<rect x="239.50" y="230.10" width="21.60" height="8.90" fill="#126b39" stroke="#222" stroke-width="0.8"/>
<text x="264.30" y="226.60" font-size="9.8">Fruiting body</text>
<text x="264.30" y="237.20" font-size="9.8">Pre-cooking liquid</text>
<rect x="230.40" y="359.70" width="11.20" height="3.70" fill="#f5c000" stroke="#151515" stroke-width="0.85"/>
<line x1="236.00" y1="359.70" x2="236.00" y2="359.00" stroke="#222" stroke-width="0.7"/>
<line x1="234.25" y1="359.00" x2="237.75" y2="359.00" stroke="#222" stroke-width="0.7"/>
<line x1="241.60" y1="363.40" x2="241.60" y2="366.40" stroke="#222" stroke-width="1" shape-rendering="crispEdges"/>
<text x="245.00" y="368.60" font-size="9.0" text-anchor="end" transform="rotate(-90 245.00 368.60)">GulA</text>
<rect x="265.38" y="361.80" width="11.20" height="1.60" fill="#f5c000" stroke="#151515" stroke-width="0.85"/>
<rect x="276.58" y="361.40" width="11.20" height="2.00" fill="#126b39" stroke="#151515" stroke-width="0.85"/>
<line x1="282.18" y1="361.40" x2="282.18" y2="360.80" stroke="#222" stroke-width="0.7"/>
<line x1="280.43" y1="360.80" x2="283.93" y2="360.80" stroke="#222" stroke-width="0.7"/>
<line x1="276.58" y1="363.40" x2="276.58" y2="366.40" stroke="#222" stroke-width="1" shape-rendering="crispEdges"/>
<text x="279.98" y="368.60" font-size="9.0" text-anchor="end" transform="rotate(-90 279.98 368.60)">ManA</text>
<rect x="300.36" y="275.50" width="11.20" height="87.90" fill="#f5c000" stroke="#151515" stroke-width="0.85"/>
<rect x="311.56" y="287.20" width="11.20" height="76.20" fill="#126b39" stroke="#151515" stroke-width="0.85"/>
<line x1="305.96" y1="275.50" x2="305.96" y2="274.60" stroke="#222" stroke-width="0.7"/>
<line x1="304.21" y1="274.60" x2="307.71" y2="274.60" stroke="#222" stroke-width="0.7"/>
<line x1="317.16" y1="287.20" x2="317.16" y2="286.60" stroke="#222" stroke-width="0.7"/>
<line x1="315.41" y1="286.60" x2="318.91" y2="286.60" stroke="#222" stroke-width="0.7"/>
<line x1="311.56" y1="363.40" x2="311.56" y2="366.40" stroke="#222" stroke-width="1" shape-rendering="crispEdges"/>
<text x="314.96" y="368.60" font-size="9.0" text-anchor="end" transform="rotate(-90 314.96 368.60)">Man</text>
<rect x="335.34" y="316.50" width="11.20" height="46.90" fill="#f5c000" stroke="#151515" stroke-width="0.85"/>
<rect x="346.54" y="345.70" width="11.20" height="17.70" fill="#126b39" stroke="#151515" stroke-width="0.85"/>
<line x1="340.94" y1="316.50" x2="340.94" y2="315.60" stroke="#222" stroke-width="0.7"/>
<line x1="339.19" y1="315.60" x2="342.69" y2="315.60" stroke="#222" stroke-width="0.7"/>
<line x1="352.14" y1="345.70" x2="352.14" y2="345.00" stroke="#222" stroke-width="0.7"/>
<line x1="350.39" y1="345.00" x2="353.89" y2="345.00" stroke="#222" stroke-width="0.7"/>
<line x1="346.54" y1="363.40" x2="346.54" y2="366.40" stroke="#222" stroke-width="1" shape-rendering="crispEdges"/>
<text x="349.94" y="368.60" font-size="9.0" text-anchor="end" transform="rotate(-90 349.94 368.60)">GlcN</text>
<rect x="370.32" y="346.50" width="11.20" height="16.90" fill="#f5c000" stroke="#151515" stroke-width="0.85"/>
<rect x="381.52" y="339.40" width="11.20" height="24.00" fill="#126b39" stroke="#151515" stroke-width="0.85"/>
<line x1="375.92" y1="346.50" x2="375.92" y2="343.50" stroke="#222" stroke-width="0.7"/>
<line x1="374.17" y1="343.50" x2="377.67" y2="343.50" stroke="#222" stroke-width="0.7"/>
<line x1="387.12" y1="339.40" x2="387.12" y2="337.60" stroke="#222" stroke-width="0.7"/>
<line x1="385.37" y1="337.60" x2="388.87" y2="337.60" stroke="#222" stroke-width="0.7"/>
<line x1="381.52" y1="363.40" x2="381.52" y2="366.40" stroke="#222" stroke-width="1" shape-rendering="crispEdges"/>
<text x="384.92" y="368.60" font-size="9.0" text-anchor="end" transform="rotate(-90 384.92 368.60)">Rib</text>
<rect x="405.30" y="362.00" width="11.20" height="1.40" fill="#f5c000" stroke="#151515" stroke-width="0.85"/>
<rect x="416.50" y="362.00" width="11.20" height="1.40" fill="#126b39" stroke="#151515" stroke-width="0.85"/>
<line x1="422.10" y1="362.00" x2="422.10" y2="361.40" stroke="#222" stroke-width="0.7"/>
<line x1="420.35" y1="361.40" x2="423.85" y2="361.40" stroke="#222" stroke-width="0.7"/>
<line x1="416.50" y1="363.40" x2="416.50" y2="366.40" stroke="#222" stroke-width="1" shape-rendering="crispEdges"/>
<text x="419.90" y="368.60" font-size="9.0" text-anchor="end" transform="rotate(-90 419.90 368.60)">Rham</text>
<rect x="440.28" y="326.30" width="11.20" height="37.10" fill="#f5c000" stroke="#151515" stroke-width="0.85"/>
<rect x="451.48" y="347.50" width="11.20" height="15.90" fill="#126b39" stroke="#151515" stroke-width="0.85"/>
<line x1="445.88" y1="326.30" x2="445.88" y2="325.40" stroke="#222" stroke-width="0.7"/>
<line x1="444.13" y1="325.40" x2="447.63" y2="325.40" stroke="#222" stroke-width="0.7"/>
<line x1="457.08" y1="347.50" x2="457.08" y2="345.40" stroke="#222" stroke-width="0.7"/>
<line x1="455.33" y1="345.40" x2="458.83" y2="345.40" stroke="#222" stroke-width="0.7"/>
<line x1="451.48" y1="363.40" x2="451.48" y2="366.40" stroke="#222" stroke-width="1" shape-rendering="crispEdges"/>
<text x="454.88" y="368.60" font-size="9.0" text-anchor="end" transform="rotate(-90 454.88 368.60)">GlcUA</text>
<rect x="475.26" y="355.20" width="11.20" height="8.20" fill="#f5c000" stroke="#151515" stroke-width="0.85"/>
<rect x="486.46" y="351.40" width="11.20" height="12.00" fill="#126b39" stroke="#151515" stroke-width="0.85"/>
<line x1="480.86" y1="355.20" x2="480.86" y2="354.60" stroke="#222" stroke-width="0.7"/>
<line x1="479.11" y1="354.60" x2="482.61" y2="354.60" stroke="#222" stroke-width="0.7"/>
<line x1="492.06" y1="351.40" x2="492.06" y2="349.60" stroke="#222" stroke-width="0.7"/>
<line x1="490.31" y1="349.60" x2="493.81" y2="349.60" stroke="#222" stroke-width="0.7"/>
<line x1="486.46" y1="363.40" x2="486.46" y2="366.40" stroke="#222" stroke-width="1" shape-rendering="crispEdges"/>
<text x="489.86" y="368.60" font-size="9.0" text-anchor="end" transform="rotate(-90 489.86 368.60)">GalUA</text>
<rect x="510.24" y="249.60" width="11.20" height="113.80" fill="#f5c000" stroke="#151515" stroke-width="0.85"/>
<rect x="521.44" y="242.20" width="11.20" height="121.20" fill="#126b39" stroke="#151515" stroke-width="0.85"/>
<line x1="515.84" y1="249.60" x2="515.84" y2="235.50" stroke="#222" stroke-width="0.7"/>
<line x1="514.09" y1="235.50" x2="517.59" y2="235.50" stroke="#222" stroke-width="0.7"/>
<line x1="527.04" y1="242.20" x2="527.04" y2="232.60" stroke="#222" stroke-width="0.7"/>
<line x1="525.29" y1="232.60" x2="528.79" y2="232.60" stroke="#222" stroke-width="0.7"/>
<line x1="521.44" y1="363.40" x2="521.44" y2="366.40" stroke="#222" stroke-width="1" shape-rendering="crispEdges"/>
<text x="524.84" y="368.60" font-size="9.0" text-anchor="end" transform="rotate(-90 524.84 368.60)">Glc</text>
<rect x="545.22" y="312.20" width="11.20" height="51.20" fill="#f5c000" stroke="#151515" stroke-width="0.85"/>
<rect x="556.42" y="332.80" width="11.20" height="30.60" fill="#126b39" stroke="#151515" stroke-width="0.85"/>
<line x1="550.82" y1="312.20" x2="550.82" y2="309.30" stroke="#222" stroke-width="0.7"/>
<line x1="549.07" y1="309.30" x2="552.57" y2="309.30" stroke="#222" stroke-width="0.7"/>
<line x1="562.02" y1="332.80" x2="562.02" y2="328.30" stroke="#222" stroke-width="0.7"/>
<line x1="560.27" y1="328.30" x2="563.77" y2="328.30" stroke="#222" stroke-width="0.7"/>
<line x1="556.42" y1="363.40" x2="556.42" y2="366.40" stroke="#222" stroke-width="1" shape-rendering="crispEdges"/>
<text x="559.82" y="368.60" font-size="9.0" text-anchor="end" transform="rotate(-90 559.82 368.60)">Gal</text>
<rect x="580.20" y="316.70" width="11.20" height="46.70" fill="#f5c000" stroke="#151515" stroke-width="0.85"/>
<rect x="591.40" y="305.80" width="11.20" height="57.60" fill="#126b39" stroke="#151515" stroke-width="0.85"/>
<line x1="585.80" y1="316.70" x2="585.80" y2="311.20" stroke="#222" stroke-width="0.7"/>
<line x1="584.05" y1="311.20" x2="587.55" y2="311.20" stroke="#222" stroke-width="0.7"/>
<line x1="597.00" y1="305.80" x2="597.00" y2="305.40" stroke="#222" stroke-width="0.7"/>
<line x1="595.25" y1="305.40" x2="598.75" y2="305.40" stroke="#222" stroke-width="0.7"/>
<line x1="591.40" y1="363.40" x2="591.40" y2="366.40" stroke="#222" stroke-width="1" shape-rendering="crispEdges"/>
<text x="594.80" y="368.60" font-size="9.0" text-anchor="end" transform="rotate(-90 594.80 368.60)">Xyl</text>
<rect x="615.18" y="350.40" width="11.20" height="13.00" fill="#f5c000" stroke="#151515" stroke-width="0.85"/>
<rect x="626.38" y="354.60" width="11.20" height="8.80" fill="#126b39" stroke="#151515" stroke-width="0.85"/>
<line x1="620.78" y1="350.40" x2="620.78" y2="341.40" stroke="#222" stroke-width="0.7"/>
<line x1="619.03" y1="341.40" x2="622.53" y2="341.40" stroke="#222" stroke-width="0.7"/>
<line x1="631.98" y1="354.60" x2="631.98" y2="354.00" stroke="#222" stroke-width="0.7"/>
<line x1="630.23" y1="354.00" x2="633.73" y2="354.00" stroke="#222" stroke-width="0.7"/>
<line x1="626.38" y1="363.40" x2="626.38" y2="366.40" stroke="#222" stroke-width="1" shape-rendering="crispEdges"/>
<text x="629.78" y="368.60" font-size="9.0" text-anchor="end" transform="rotate(-90 629.78 368.60)">Ara</text>
<rect x="299.80" y="302.90" width="23.60" height="2.00" fill="#fff"/>
<rect x="509.80" y="253.40" width="23.60" height="2.00" fill="#fff"/>
<rect x="509.80" y="303.20" width="23.60" height="2.00" fill="#fff"/>
<line x1="340.00" y1="312.30" x2="356.20" y2="312.30" stroke="#111" stroke-width="1.0" shape-rendering="crispEdges"/>
<text x="345.60" y="313.20" font-size="10" text-anchor="middle" font-weight="bold">*</text>
<line x1="-0.10" y1="407.90" x2="685.00" y2="407.90" stroke="#2a2a2a" stroke-width="1.4" stroke-dasharray="4.5 4.05" shape-rendering="crispEdges"/>
<line x1="418.50" y1="614.40" x2="418.50" y2="826.00" stroke="#222" stroke-width="1.15" stroke-dasharray="3.5 4.02" shape-rendering="crispEdges"/>
<text x="10.60" y="427.80" font-size="18.5">C</text>
<text x="27.80" y="427.80" font-size="18.5">a</text>
<line x1="61.50" y1="432.80" x2="169.00" y2="432.80" stroke="#222" stroke-width="1" shape-rendering="crispEdges"/>
<line x1="169.00" y1="432.80" x2="169.00" y2="583.50" stroke="#222" stroke-width="1" shape-rendering="crispEdges"/>
<line x1="61.50" y1="583.50" x2="169.00" y2="583.50" stroke="#222" stroke-width="1.1" shape-rendering="crispEdges"/>
<line x1="61.50" y1="432.80" x2="61.50" y2="506.60" stroke="#222" stroke-width="1.1" shape-rendering="crispEdges"/>
<line x1="61.50" y1="510.00" x2="61.50" y2="583.50" stroke="#222" stroke-width="1.1" shape-rendering="crispEdges"/>
<path d="M58.30 513.40L64.70 505.80M58.30 510.80L64.70 503.20" stroke="#111" stroke-width="1.25" fill="none"/>
<line x1="58.50" y1="432.80" x2="61.50" y2="432.80" stroke="#222" stroke-width="1" shape-rendering="crispEdges"/>
<text x="56.80" y="435.60" font-size="7.8" text-anchor="end" letter-spacing="0.3">240</text>
<line x1="58.50" y1="492.10" x2="61.50" y2="492.10" stroke="#222" stroke-width="1" shape-rendering="crispEdges"/>
<text x="56.80" y="494.90" font-size="7.8" text-anchor="end" letter-spacing="0.3">200</text>
<line x1="58.50" y1="520.40" x2="61.50" y2="520.40" stroke="#222" stroke-width="1" shape-rendering="crispEdges"/>
<text x="56.80" y="523.20" font-size="7.8" text-anchor="end" letter-spacing="0.3">80</text>
<line x1="58.50" y1="551.90" x2="61.50" y2="551.90" stroke="#222" stroke-width="1" shape-rendering="crispEdges"/>
<text x="56.80" y="554.70" font-size="7.8" text-anchor="end" letter-spacing="0.3">40</text>
<line x1="58.50" y1="583.50" x2="61.50" y2="583.50" stroke="#222" stroke-width="1" shape-rendering="crispEdges"/>
<text x="56.80" y="586.30" font-size="7.8" text-anchor="end" letter-spacing="0.3">0</text>
<line x1="59.70" y1="462.50" x2="61.50" y2="462.50" stroke="#222" stroke-width="0.8"/>
<line x1="59.70" y1="536.20" x2="61.50" y2="536.20" stroke="#222" stroke-width="0.8"/>
<line x1="59.70" y1="567.70" x2="61.50" y2="567.70" stroke="#222" stroke-width="0.8"/>
<text x="37.40" y="508.60" font-size="9.25" text-anchor="middle" transform="rotate(-90 37.40 508.60)">Protein content (mg/g)</text>
<rect x="77.50" y="483.50" width="21.90" height="100.00" fill="#f5c000" stroke="#151515" stroke-width="0.85"/>
<rect x="77.00" y="507.30" width="23.00" height="2.00" fill="#fff"/>
<rect x="131.40" y="517.40" width="22.20" height="66.10" fill="#126b39" stroke="#151515" stroke-width="0.85"/>
<line x1="88.50" y1="483.50" x2="88.50" y2="471.80" stroke="#222" stroke-width="1.0" shape-rendering="crispEdges"/>
<line x1="83.00" y1="471.80" x2="94.00" y2="471.80" stroke="#222" stroke-width="1.0" shape-rendering="crispEdges"/>
<line x1="142.50" y1="517.40" x2="142.50" y2="513.40" stroke="#222" stroke-width="1.0" shape-rendering="crispEdges"/>
<line x1="137.00" y1="513.40" x2="148.00" y2="513.40" stroke="#222" stroke-width="1.0" shape-rendering="crispEdges"/>
<path d="M86.60 470.00L88.60 472.00L86.60 474.00L84.60 472.00Z" fill="#111"/>
<path d="M85.40 486.90L87.40 488.90L85.40 490.90L83.40 488.90Z" fill="#111"/>
<path d="M87.90 486.90L89.90 488.90L87.90 490.90L85.90 488.90Z" fill="#111"/>
<path d="M91.20 495.30L93.20 497.30L91.20 499.30L89.20 497.30Z" fill="#111"/>
<path d="M141.50 511.40L143.50 513.40L141.50 515.40L139.50 513.40Z" fill="#111"/>
<path d="M139.60 516.00L141.60 518.00L139.60 520.00L137.60 518.00Z" fill="#111"/>
<path d="M143.30 518.00L145.30 520.00L143.30 522.00L141.30 520.00Z" fill="#111"/>
<line x1="87.30" y1="465.00" x2="142.00" y2="465.00" stroke="#111" stroke-width="1.0" shape-rendering="crispEdges"/>
<text x="113.40" y="461.20" font-size="14.6" text-anchor="middle" stroke="#000" stroke-width="0.35">***</text>
<line x1="88.50" y1="583.50" x2="88.50" y2="586.10" stroke="#222" stroke-width="1" shape-rendering="crispEdges"/>
<line x1="142.50" y1="583.50" x2="142.50" y2="586.10" stroke="#222" stroke-width="1" shape-rendering="crispEdges"/>
<text x="88.50" y="595.30" font-size="9.1" text-anchor="middle">Fruiting</text>
<text x="88.50" y="606.30" font-size="9.1" text-anchor="middle">body</text>
<text x="142.50" y="595.30" font-size="9.1" text-anchor="middle">Pre-cooking</text>
<text x="142.50" y="606.30" font-size="9.1" text-anchor="middle">liquid</text>
<text x="178.80" y="426.60" font-size="19">b</text>
<line x1="223.50" y1="432.60" x2="644.00" y2="432.60" stroke="#222" stroke-width="1" shape-rendering="crispEdges"/>
<line x1="644.00" y1="432.60" x2="644.00" y2="580.40" stroke="#222" stroke-width="1" shape-rendering="crispEdges"/>
<line x1="223.50" y1="580.40" x2="644.00" y2="580.40" stroke="#222" stroke-width="1.2" shape-rendering="crispEdges"/>
<line x1="223.50" y1="432.60" x2="223.50" y2="580.40" stroke="#222" stroke-width="1.2" shape-rendering="crispEdges"/>
<line x1="220.50" y1="580.40" x2="223.50" y2="580.40" stroke="#222" stroke-width="1" shape-rendering="crispEdges"/>
<text x="217.40" y="583.40" font-size="8.4" text-anchor="end" letter-spacing="0.2">0.0</text>
<line x1="220.50" y1="559.29" x2="223.50" y2="559.29" stroke="#222" stroke-width="1" shape-rendering="crispEdges"/>
<text x="217.40" y="562.29" font-size="8.4" text-anchor="end" letter-spacing="0.2">0.5</text>
<line x1="220.50" y1="538.17" x2="223.50" y2="538.17" stroke="#222" stroke-width="1" shape-rendering="crispEdges"/>
<text x="217.40" y="541.17" font-size="8.4" text-anchor="end" letter-spacing="0.2">1.0</text>
<line x1="220.50" y1="517.06" x2="223.50" y2="517.06" stroke="#222" stroke-width="1" shape-rendering="crispEdges"/>
<text x="217.40" y="520.06" font-size="8.4" text-anchor="end" letter-spacing="0.2">1.5</text>
<line x1="220.50" y1="495.94" x2="223.50" y2="495.94" stroke="#222" stroke-width="1" shape-rendering="crispEdges"/>
<text x="217.40" y="498.94" font-size="8.4" text-anchor="end" letter-spacing="0.2">2.0</text>
<line x1="220.50" y1="474.83" x2="223.50" y2="474.83" stroke="#222" stroke-width="1" shape-rendering="crispEdges"/>
<text x="217.40" y="477.83" font-size="8.4" text-anchor="end" letter-spacing="0.2">2.5</text>
<line x1="220.50" y1="453.71" x2="223.50" y2="453.71" stroke="#222" stroke-width="1" shape-rendering="crispEdges"/>
<text x="217.40" y="456.71" font-size="8.4" text-anchor="end" letter-spacing="0.2">3.0</text>
<line x1="220.50" y1="432.60" x2="223.50" y2="432.60" stroke="#222" stroke-width="1" shape-rendering="crispEdges"/>
<text x="217.40" y="435.60" font-size="8.4" text-anchor="end" letter-spacing="0.2">3.5</text>
<line x1="221.70" y1="569.84" x2="223.50" y2="569.84" stroke="#222" stroke-width="0.8"/>
<line x1="221.70" y1="548.73" x2="223.50" y2="548.73" stroke="#222" stroke-width="0.8"/>
<line x1="221.70" y1="527.61" x2="223.50" y2="527.61" stroke="#222" stroke-width="0.8"/>
<line x1="221.70" y1="506.50" x2="223.50" y2="506.50" stroke="#222" stroke-width="0.8"/>
<line x1="221.70" y1="485.39" x2="223.50" y2="485.39" stroke="#222" stroke-width="0.8"/>
<line x1="221.70" y1="464.27" x2="223.50" y2="464.27" stroke="#222" stroke-width="0.8"/>
<line x1="221.70" y1="443.16" x2="223.50" y2="443.16" stroke="#222" stroke-width="0.8"/>
<text x="200.70" y="506.20" font-size="10.25" text-anchor="middle" transform="rotate(-90 200.70 506.20)">Free amino acid content (mg/g)</text>
<rect x="442.40" y="438.70" width="22.10" height="10.50" fill="#f5c000" stroke="#222" stroke-width="0.8"/>
<rect x="442.40" y="451.10" width="22.10" height="11.20" fill="#126b39" stroke="#222" stroke-width="0.8"/>
<text x="468.40" y="447.60" font-size="10">Fruiting body</text>
<text x="468.40" y="460.40" font-size="10">Pre-cooking liquid</text>
<rect x="230.10" y="454.98" width="5.50" height="125.42" fill="#f5c000" stroke="#151515" stroke-width="0.85"/>
<rect x="235.60" y="501.01" width="5.50" height="79.39" fill="#126b39" stroke="#151515" stroke-width="0.85"/>
<line x1="232.85" y1="454.98" x2="232.85" y2="451.60" stroke="#222" stroke-width="0.7"/>
<line x1="231.55" y1="451.60" x2="234.15" y2="451.60" stroke="#222" stroke-width="0.7"/>
<line x1="238.35" y1="501.01" x2="238.35" y2="497.63" stroke="#222" stroke-width="0.7"/>
<line x1="237.05" y1="497.63" x2="239.65" y2="497.63" stroke="#222" stroke-width="0.7"/>
<line x1="235.60" y1="580.40" x2="235.60" y2="583.40" stroke="#222" stroke-width="1" shape-rendering="crispEdges"/>
<text x="239.50" y="586.60" font-size="8.8" text-anchor="end" transform="rotate(-90 239.50 586.60)">Gln</text>
<rect x="246.43" y="533.95" width="5.50" height="46.45" fill="#f5c000" stroke="#151515" stroke-width="0.85"/>
<rect x="251.93" y="504.39" width="5.50" height="76.01" fill="#126b39" stroke="#151515" stroke-width="0.85"/>
<line x1="249.18" y1="533.95" x2="249.18" y2="533.10" stroke="#222" stroke-width="0.7"/>
<line x1="247.88" y1="533.10" x2="250.48" y2="533.10" stroke="#222" stroke-width="0.7"/>
<line x1="254.68" y1="504.39" x2="254.68" y2="503.12" stroke="#222" stroke-width="0.7"/>
<line x1="253.38" y1="503.12" x2="255.98" y2="503.12" stroke="#222" stroke-width="0.7"/>
<line x1="251.93" y1="580.40" x2="251.93" y2="583.40" stroke="#222" stroke-width="1" shape-rendering="crispEdges"/>
<text x="255.83" y="586.60" font-size="8.8" text-anchor="end" transform="rotate(-90 255.83 586.60)">Glu</text>
<rect x="262.76" y="535.64" width="5.50" height="44.76" fill="#f5c000" stroke="#151515" stroke-width="0.85"/>
<rect x="268.26" y="559.71" width="5.50" height="20.69" fill="#126b39" stroke="#151515" stroke-width="0.85"/>
<line x1="265.51" y1="535.64" x2="265.51" y2="533.53" stroke="#222" stroke-width="0.7"/>
<line x1="264.21" y1="533.53" x2="266.81" y2="533.53" stroke="#222" stroke-width="0.7"/>
<line x1="271.01" y1="559.71" x2="271.01" y2="557.17" stroke="#222" stroke-width="0.7"/>
<line x1="269.71" y1="557.17" x2="272.31" y2="557.17" stroke="#222" stroke-width="0.7"/>
<line x1="268.26" y1="580.40" x2="268.26" y2="583.40" stroke="#222" stroke-width="1" shape-rendering="crispEdges"/>
<text x="272.16" y="586.60" font-size="8.8" text-anchor="end" transform="rotate(-90 272.16 586.60)">Ala</text>
<rect x="279.09" y="537.33" width="5.50" height="43.07" fill="#f5c000" stroke="#151515" stroke-width="0.85"/>
<rect x="284.59" y="559.71" width="5.50" height="20.69" fill="#126b39" stroke="#151515" stroke-width="0.85"/>
<line x1="281.84" y1="537.33" x2="281.84" y2="534.79" stroke="#222" stroke-width="0.7"/>
<line x1="280.54" y1="534.79" x2="283.14" y2="534.79" stroke="#222" stroke-width="0.7"/>
<line x1="287.34" y1="559.71" x2="287.34" y2="556.75" stroke="#222" stroke-width="0.7"/>
<line x1="286.04" y1="556.75" x2="288.64" y2="556.75" stroke="#222" stroke-width="0.7"/>
<line x1="284.59" y1="580.40" x2="284.59" y2="583.40" stroke="#222" stroke-width="1" shape-rendering="crispEdges"/>
<text x="288.49" y="586.60" font-size="8.8" text-anchor="end" transform="rotate(-90 288.49 586.60)">Hyp</text>
<rect x="295.42" y="547.46" width="5.50" height="32.94" fill="#f5c000" stroke="#151515" stroke-width="0.85"/>
<rect x="300.92" y="559.71" width="5.50" height="20.69" fill="#126b39" stroke="#151515" stroke-width="0.85"/>
<line x1="298.17" y1="547.46" x2="298.17" y2="545.77" stroke="#222" stroke-width="0.7"/>
<line x1="296.87" y1="545.77" x2="299.47" y2="545.77" stroke="#222" stroke-width="0.7"/>
<line x1="303.67" y1="559.71" x2="303.67" y2="558.02" stroke="#222" stroke-width="0.7"/>
<line x1="302.37" y1="558.02" x2="304.97" y2="558.02" stroke="#222" stroke-width="0.7"/>
<line x1="300.92" y1="580.40" x2="300.92" y2="583.40" stroke="#222" stroke-width="1" shape-rendering="crispEdges"/>
<text x="304.82" y="586.60" font-size="8.8" text-anchor="end" transform="rotate(-90 304.82 586.60)">Arg</text>
<rect x="311.75" y="550.42" width="5.50" height="29.98" fill="#f5c000" stroke="#151515" stroke-width="0.85"/>
<rect x="317.25" y="560.97" width="5.50" height="19.43" fill="#126b39" stroke="#151515" stroke-width="0.85"/>
<line x1="314.50" y1="550.42" x2="314.50" y2="548.73" stroke="#222" stroke-width="0.7"/>
<line x1="313.20" y1="548.73" x2="315.80" y2="548.73" stroke="#222" stroke-width="0.7"/>
<line x1="320.00" y1="560.97" x2="320.00" y2="558.44" stroke="#222" stroke-width="0.7"/>
<line x1="318.70" y1="558.44" x2="321.30" y2="558.44" stroke="#222" stroke-width="0.7"/>
<line x1="317.25" y1="580.40" x2="317.25" y2="583.40" stroke="#222" stroke-width="1" shape-rendering="crispEdges"/>
<text x="321.15" y="586.60" font-size="8.8" text-anchor="end" transform="rotate(-90 321.15 586.60)">Lys</text>
<rect x="328.08" y="555.91" width="5.50" height="24.49" fill="#f5c000" stroke="#151515" stroke-width="0.85"/>
<rect x="333.58" y="560.97" width="5.50" height="19.43" fill="#126b39" stroke="#151515" stroke-width="0.85"/>
<line x1="330.83" y1="555.91" x2="330.83" y2="552.95" stroke="#222" stroke-width="0.7"/>
<line x1="329.53" y1="552.95" x2="332.13" y2="552.95" stroke="#222" stroke-width="0.7"/>
<line x1="336.33" y1="560.97" x2="336.33" y2="559.71" stroke="#222" stroke-width="0.7"/>
<line x1="335.03" y1="559.71" x2="337.63" y2="559.71" stroke="#222" stroke-width="0.7"/>
<line x1="333.58" y1="580.40" x2="333.58" y2="583.40" stroke="#222" stroke-width="1" shape-rendering="crispEdges"/>
<text x="337.48" y="586.60" font-size="8.8" text-anchor="end" transform="rotate(-90 337.48 586.60)">Thr</text>
<rect x="344.41" y="555.91" width="5.50" height="24.49" fill="#f5c000" stroke="#151515" stroke-width="0.85"/>
<rect x="349.91" y="564.35" width="5.50" height="16.05" fill="#126b39" stroke="#151515" stroke-width="0.85"/>
<line x1="347.16" y1="555.91" x2="347.16" y2="553.80" stroke="#222" stroke-width="0.7"/>
<line x1="345.86" y1="553.80" x2="348.46" y2="553.80" stroke="#222" stroke-width="0.7"/>
<line x1="352.66" y1="564.35" x2="352.66" y2="563.09" stroke="#222" stroke-width="0.7"/>
<line x1="351.36" y1="563.09" x2="353.96" y2="563.09" stroke="#222" stroke-width="0.7"/>
<line x1="349.91" y1="580.40" x2="349.91" y2="583.40" stroke="#222" stroke-width="1" shape-rendering="crispEdges"/>
<text x="353.81" y="586.60" font-size="8.8" text-anchor="end" transform="rotate(-90 353.81 586.60)">Val</text>
<rect x="360.74" y="558.02" width="5.50" height="22.38" fill="#f5c000" stroke="#151515" stroke-width="0.85"/>
<rect x="366.24" y="560.97" width="5.50" height="19.43" fill="#126b39" stroke="#151515" stroke-width="0.85"/>
<line x1="363.49" y1="558.02" x2="363.49" y2="557.60" stroke="#222" stroke-width="0.7"/>
<line x1="362.19" y1="557.60" x2="364.79" y2="557.60" stroke="#222" stroke-width="0.7"/>
<line x1="368.99" y1="560.97" x2="368.99" y2="559.29" stroke="#222" stroke-width="0.7"/>
<line x1="367.69" y1="559.29" x2="370.29" y2="559.29" stroke="#222" stroke-width="0.7"/>
<line x1="366.24" y1="580.40" x2="366.24" y2="583.40" stroke="#222" stroke-width="1" shape-rendering="crispEdges"/>
<text x="370.14" y="586.60" font-size="8.8" text-anchor="end" transform="rotate(-90 370.14 586.60)">Asn</text>
<rect x="377.07" y="559.71" width="5.50" height="20.69" fill="#f5c000" stroke="#151515" stroke-width="0.85"/>
<rect x="382.57" y="561.40" width="5.50" height="19.00" fill="#126b39" stroke="#151515" stroke-width="0.85"/>
<line x1="379.82" y1="559.71" x2="379.82" y2="558.86" stroke="#222" stroke-width="0.7"/>
<line x1="378.52" y1="558.86" x2="381.12" y2="558.86" stroke="#222" stroke-width="0.7"/>
<line x1="385.32" y1="561.40" x2="385.32" y2="560.55" stroke="#222" stroke-width="0.7"/>
<line x1="384.02" y1="560.55" x2="386.62" y2="560.55" stroke="#222" stroke-width="0.7"/>
<line x1="382.57" y1="580.40" x2="382.57" y2="583.40" stroke="#222" stroke-width="1" shape-rendering="crispEdges"/>
<text x="386.47" y="586.60" font-size="8.8" text-anchor="end" transform="rotate(-90 386.47 586.60)">Ser</text>
<rect x="393.40" y="564.35" width="5.50" height="16.05" fill="#f5c000" stroke="#151515" stroke-width="0.85"/>
<rect x="398.90" y="571.11" width="5.50" height="9.29" fill="#126b39" stroke="#151515" stroke-width="0.85"/>
<line x1="396.15" y1="564.35" x2="396.15" y2="562.24" stroke="#222" stroke-width="0.7"/>
<line x1="394.85" y1="562.24" x2="397.45" y2="562.24" stroke="#222" stroke-width="0.7"/>
<line x1="401.65" y1="571.11" x2="401.65" y2="570.69" stroke="#222" stroke-width="0.7"/>
<line x1="400.35" y1="570.69" x2="402.95" y2="570.69" stroke="#222" stroke-width="0.7"/>
<line x1="398.90" y1="580.40" x2="398.90" y2="583.40" stroke="#222" stroke-width="1" shape-rendering="crispEdges"/>
<text x="402.80" y="586.60" font-size="8.8" text-anchor="end" transform="rotate(-90 402.80 586.60)">Ile</text>
<rect x="409.73" y="567.73" width="5.50" height="12.67" fill="#f5c000" stroke="#151515" stroke-width="0.85"/>
<rect x="415.23" y="577.44" width="5.50" height="2.96" fill="#126b39" stroke="#151515" stroke-width="0.85"/>
<line x1="412.48" y1="567.73" x2="412.48" y2="565.20" stroke="#222" stroke-width="0.7"/>
<line x1="411.18" y1="565.20" x2="413.78" y2="565.20" stroke="#222" stroke-width="0.7"/>
<line x1="417.98" y1="577.44" x2="417.98" y2="577.02" stroke="#222" stroke-width="0.7"/>
<line x1="416.68" y1="577.02" x2="419.28" y2="577.02" stroke="#222" stroke-width="0.7"/>
<line x1="415.23" y1="580.40" x2="415.23" y2="583.40" stroke="#222" stroke-width="1" shape-rendering="crispEdges"/>
<text x="419.13" y="586.60" font-size="8.8" text-anchor="end" transform="rotate(-90 419.13 586.60)">Sar</text>
<rect x="426.06" y="568.15" width="5.50" height="12.25" fill="#f5c000" stroke="#151515" stroke-width="0.85"/>
<rect x="431.56" y="571.95" width="5.50" height="8.45" fill="#126b39" stroke="#151515" stroke-width="0.85"/>
<line x1="428.81" y1="568.15" x2="428.81" y2="567.73" stroke="#222" stroke-width="0.7"/>
<line x1="427.51" y1="567.73" x2="430.11" y2="567.73" stroke="#222" stroke-width="0.7"/>
<line x1="434.31" y1="571.95" x2="434.31" y2="571.53" stroke="#222" stroke-width="0.7"/>
<line x1="433.01" y1="571.53" x2="435.61" y2="571.53" stroke="#222" stroke-width="0.7"/>
<line x1="431.56" y1="580.40" x2="431.56" y2="583.40" stroke="#222" stroke-width="1" shape-rendering="crispEdges"/>
<text x="435.46" y="586.60" font-size="8.8" text-anchor="end" transform="rotate(-90 435.46 586.60)">Pro</text>
<rect x="442.39" y="568.58" width="5.50" height="11.82" fill="#f5c000" stroke="#151515" stroke-width="0.85"/>
<rect x="447.89" y="567.73" width="5.50" height="12.67" fill="#126b39" stroke="#151515" stroke-width="0.85"/>
<line x1="445.14" y1="568.58" x2="445.14" y2="568.15" stroke="#222" stroke-width="0.7"/>
<line x1="443.84" y1="568.15" x2="446.44" y2="568.15" stroke="#222" stroke-width="0.7"/>
<line x1="450.64" y1="567.73" x2="450.64" y2="567.31" stroke="#222" stroke-width="0.7"/>
<line x1="449.34" y1="567.31" x2="451.94" y2="567.31" stroke="#222" stroke-width="0.7"/>
<line x1="447.89" y1="580.40" x2="447.89" y2="583.40" stroke="#222" stroke-width="1" shape-rendering="crispEdges"/>
<text x="451.79" y="586.60" font-size="8.8" text-anchor="end" transform="rotate(-90 451.79 586.60)">Gly</text>
<rect x="458.72" y="569.00" width="5.50" height="11.40" fill="#f5c000" stroke="#151515" stroke-width="0.85"/>
<rect x="464.22" y="579.56" width="5.50" height="0.84" fill="#126b39" stroke="#151515" stroke-width="0.85"/>
<line x1="461.47" y1="569.00" x2="461.47" y2="568.58" stroke="#222" stroke-width="0.7"/>
<line x1="460.17" y1="568.58" x2="462.77" y2="568.58" stroke="#222" stroke-width="0.7"/>
<line x1="464.22" y1="580.40" x2="464.22" y2="583.40" stroke="#222" stroke-width="1" shape-rendering="crispEdges"/>
<text x="468.12" y="586.60" font-size="8.8" text-anchor="end" transform="rotate(-90 468.12 586.60)">Gaba</text>
<rect x="475.05" y="569.84" width="5.50" height="10.56" fill="#f5c000" stroke="#151515" stroke-width="0.85"/>
<rect x="480.55" y="569.84" width="5.50" height="10.56" fill="#126b39" stroke="#151515" stroke-width="0.85"/>
<line x1="477.80" y1="569.84" x2="477.80" y2="569.00" stroke="#222" stroke-width="0.7"/>
<line x1="476.50" y1="569.00" x2="479.10" y2="569.00" stroke="#222" stroke-width="0.7"/>
<line x1="483.30" y1="569.84" x2="483.30" y2="568.58" stroke="#222" stroke-width="0.7"/>
<line x1="482.00" y1="568.58" x2="484.60" y2="568.58" stroke="#222" stroke-width="0.7"/>
<line x1="480.55" y1="580.40" x2="480.55" y2="583.40" stroke="#222" stroke-width="1" shape-rendering="crispEdges"/>
<text x="484.45" y="586.60" font-size="8.8" text-anchor="end" transform="rotate(-90 484.45 586.60)">His</text>
<rect x="491.38" y="571.95" width="5.50" height="8.45" fill="#f5c000" stroke="#151515" stroke-width="0.85"/>
<rect x="496.88" y="579.56" width="5.50" height="0.84" fill="#126b39" stroke="#151515" stroke-width="0.85"/>
<line x1="494.13" y1="571.95" x2="494.13" y2="571.53" stroke="#222" stroke-width="0.7"/>
<line x1="492.83" y1="571.53" x2="495.43" y2="571.53" stroke="#222" stroke-width="0.7"/>
<line x1="496.88" y1="580.40" x2="496.88" y2="583.40" stroke="#222" stroke-width="1" shape-rendering="crispEdges"/>
<text x="500.78" y="586.60" font-size="8.8" text-anchor="end" transform="rotate(-90 500.78 586.60)">Nva</text>
<rect x="507.71" y="572.38" width="5.50" height="8.02" fill="#f5c000" stroke="#151515" stroke-width="0.85"/>
<rect x="513.21" y="578.29" width="5.50" height="2.11" fill="#126b39" stroke="#151515" stroke-width="0.85"/>
<line x1="510.46" y1="572.38" x2="510.46" y2="571.95" stroke="#222" stroke-width="0.7"/>
<line x1="509.16" y1="571.95" x2="511.76" y2="571.95" stroke="#222" stroke-width="0.7"/>
<line x1="513.21" y1="580.40" x2="513.21" y2="583.40" stroke="#222" stroke-width="1" shape-rendering="crispEdges"/>
<text x="517.11" y="586.60" font-size="8.8" text-anchor="end" transform="rotate(-90 517.11 586.60)">Cit</text>
<rect x="524.04" y="574.07" width="5.50" height="6.33" fill="#f5c000" stroke="#151515" stroke-width="0.85"/>
<rect x="529.54" y="530.57" width="5.50" height="49.83" fill="#126b39" stroke="#151515" stroke-width="0.85"/>
<line x1="526.79" y1="574.07" x2="526.79" y2="573.64" stroke="#222" stroke-width="0.7"/>
<line x1="525.49" y1="573.64" x2="528.09" y2="573.64" stroke="#222" stroke-width="0.7"/>
<line x1="532.29" y1="530.57" x2="532.29" y2="528.88" stroke="#222" stroke-width="0.7"/>
<line x1="530.99" y1="528.88" x2="533.59" y2="528.88" stroke="#222" stroke-width="0.7"/>
<line x1="529.54" y1="580.40" x2="529.54" y2="583.40" stroke="#222" stroke-width="1" shape-rendering="crispEdges"/>
<text x="533.44" y="586.60" font-size="8.8" text-anchor="end" transform="rotate(-90 533.44 586.60)">Asp</text>
<rect x="540.37" y="574.07" width="5.50" height="6.33" fill="#f5c000" stroke="#151515" stroke-width="0.85"/>
<line x1="545.87" y1="580.40" x2="545.87" y2="583.40" stroke="#222" stroke-width="1" shape-rendering="crispEdges"/>
<text x="549.77" y="586.60" font-size="8.8" text-anchor="end" transform="rotate(-90 549.77 586.60)">Met</text>
<rect x="556.70" y="577.44" width="5.50" height="2.96" fill="#f5c000" stroke="#151515" stroke-width="0.85"/>
<rect x="562.20" y="566.89" width="5.50" height="13.51" fill="#126b39" stroke="#151515" stroke-width="0.85"/>
<line x1="559.45" y1="577.44" x2="559.45" y2="577.02" stroke="#222" stroke-width="0.7"/>
<line x1="558.15" y1="577.02" x2="560.75" y2="577.02" stroke="#222" stroke-width="0.7"/>
<line x1="564.95" y1="566.89" x2="564.95" y2="566.04" stroke="#222" stroke-width="0.7"/>
<line x1="563.65" y1="566.04" x2="566.25" y2="566.04" stroke="#222" stroke-width="0.7"/>
<line x1="562.20" y1="580.40" x2="562.20" y2="583.40" stroke="#222" stroke-width="1" shape-rendering="crispEdges"/>
<text x="566.10" y="586.60" font-size="8.8" text-anchor="end" transform="rotate(-90 566.10 586.60)">Phe</text>
<rect x="573.03" y="579.13" width="5.50" height="1.27" fill="#f5c000" stroke="#151515" stroke-width="0.85"/>
<rect x="578.53" y="566.46" width="5.50" height="13.94" fill="#126b39" stroke="#151515" stroke-width="0.85"/>
<line x1="581.28" y1="566.46" x2="581.28" y2="566.04" stroke="#222" stroke-width="0.7"/>
<line x1="579.98" y1="566.04" x2="582.58" y2="566.04" stroke="#222" stroke-width="0.7"/>
<line x1="578.53" y1="580.40" x2="578.53" y2="583.40" stroke="#222" stroke-width="1" shape-rendering="crispEdges"/>
<text x="582.43" y="586.60" font-size="8.8" text-anchor="end" transform="rotate(-90 582.43 586.60)">Leu</text>
<rect x="589.36" y="579.98" width="5.50" height="0.42" fill="#f5c000" stroke="#151515" stroke-width="0.85"/>
<rect x="594.86" y="579.98" width="5.50" height="0.42" fill="#126b39" stroke="#151515" stroke-width="0.85"/>
<line x1="594.86" y1="580.40" x2="594.86" y2="583.40" stroke="#222" stroke-width="1" shape-rendering="crispEdges"/>
<text x="598.76" y="586.60" font-size="8.8" text-anchor="end" transform="rotate(-90 598.76 586.60)">Cys</text>
<rect x="605.69" y="579.98" width="5.50" height="0.42" fill="#f5c000" stroke="#151515" stroke-width="0.85"/>
<rect x="611.19" y="578.71" width="5.50" height="1.69" fill="#126b39" stroke="#151515" stroke-width="0.85"/>
<line x1="613.94" y1="578.71" x2="613.94" y2="578.29" stroke="#222" stroke-width="0.7"/>
<line x1="612.64" y1="578.29" x2="615.24" y2="578.29" stroke="#222" stroke-width="0.7"/>
<line x1="611.19" y1="580.40" x2="611.19" y2="583.40" stroke="#222" stroke-width="1" shape-rendering="crispEdges"/>
<text x="615.09" y="586.60" font-size="8.8" text-anchor="end" transform="rotate(-90 615.09 586.60)">Trp</text>
<rect x="622.02" y="579.98" width="5.50" height="0.42" fill="#f5c000" stroke="#151515" stroke-width="0.85"/>
<rect x="627.52" y="575.33" width="5.50" height="5.07" fill="#126b39" stroke="#151515" stroke-width="0.85"/>
<line x1="630.27" y1="575.33" x2="630.27" y2="574.91" stroke="#222" stroke-width="0.7"/>
<line x1="628.97" y1="574.91" x2="631.57" y2="574.91" stroke="#222" stroke-width="0.7"/>
<line x1="627.52" y1="580.40" x2="627.52" y2="583.40" stroke="#222" stroke-width="1" shape-rendering="crispEdges"/>
<text x="631.42" y="586.60" font-size="8.8" text-anchor="end" transform="rotate(-90 631.42 586.60)">Tyr</text>
<line x1="643.90" y1="580.40" x2="643.90" y2="583.40" stroke="#222" stroke-width="1" shape-rendering="crispEdges"/>
<line x1="233.60" y1="448.40" x2="240.80" y2="448.40" stroke="#222" stroke-width="0.8"/>
<text x="236.50" y="449.30" font-size="9" text-anchor="middle" font-weight="bold">*</text>
<line x1="526.50" y1="524.60" x2="532.50" y2="524.60" stroke="#222" stroke-width="0.8"/>
<text x="529.50" y="525.00" font-size="9" text-anchor="middle" font-weight="bold">**</text>
<text x="34.60" y="615.20" font-size="18" font-weight="bold">c</text>
<line x1="47.60" y1="626.50" x2="408.30" y2="626.50" stroke="#222" stroke-width="1" shape-rendering="crispEdges"/>
<line x1="408.30" y1="626.50" x2="408.30" y2="792.30" stroke="#222" stroke-width="1" shape-rendering="crispEdges"/>
<line x1="47.60" y1="792.30" x2="408.30" y2="792.30" stroke="#222" stroke-width="1.2" shape-rendering="crispEdges"/>
<line x1="47.60" y1="626.50" x2="47.60" y2="683.00" stroke="#222" stroke-width="1.1" shape-rendering="crispEdges"/>
<line x1="47.60" y1="686.40" x2="47.60" y2="792.30" stroke="#222" stroke-width="1.1" shape-rendering="crispEdges"/>
<path d="M44.40 689.80L50.80 682.20M44.40 687.20L50.80 679.60" stroke="#111" stroke-width="1.25" fill="none"/>
<text x="38.60" y="709.60" font-size="10.8" text-anchor="middle" transform="rotate(-90 38.60 709.60)">Intensity</text>
<rect x="56.50" y="630.70" width="21.00" height="11.60" fill="#f5c000" stroke="#222" stroke-width="0.8"/>
<text x="80.70" y="640.90" font-size="9.7">Fruiting body</text>
<rect x="139.70" y="630.70" width="21.90" height="11.60" fill="#126b39" stroke="#222" stroke-width="0.8"/>
<text x="164.50" y="640.90" font-size="9.7">Pre-cooking liquid</text>
<text x="55.00" y="653.50" font-size="8.0" textLength="238" lengthAdjust="spacingAndGlyphs">1-Asp, 2-Glu, 3-Asn, 4-Ser, 5-Gln, 6-His, 7-Gly, 8-Thr, 9-Cit, 10-Arg,</text>
<text x="55.00" y="664.30" font-size="8.0" textLength="247" lengthAdjust="spacingAndGlyphs">11-Ala,12-Tyr, 13-Cys, 14-Val, 15-Met, 16-Nva, 17-Trp, 18-Phe, 19-Ile,</text>
<text x="55.00" y="675.10" font-size="8.0" textLength="174" lengthAdjust="spacingAndGlyphs">20-Leu, 21-Lys, 22-Hyp, 23-Sar, 24-Pro, 25-Gaba</text>
<line x1="47.60" y1="792.30" x2="47.60" y2="795.30" stroke="#222" stroke-width="1" shape-rendering="crispEdges"/>
<text x="47.60" y="806.30" font-size="8.6" text-anchor="middle">0</text>
<line x1="114.10" y1="792.30" x2="114.10" y2="795.30" stroke="#222" stroke-width="1" shape-rendering="crispEdges"/>
<text x="114.10" y="806.30" font-size="8.6" text-anchor="middle">5</text>
<line x1="180.60" y1="792.30" x2="180.60" y2="795.30" stroke="#222" stroke-width="1" shape-rendering="crispEdges"/>
<text x="180.60" y="806.30" font-size="8.6" text-anchor="middle">10</text>
<line x1="247.10" y1="792.30" x2="247.10" y2="795.30" stroke="#222" stroke-width="1" shape-rendering="crispEdges"/>
<text x="247.10" y="806.30" font-size="8.6" text-anchor="middle">15</text>
<line x1="313.60" y1="792.30" x2="313.60" y2="795.30" stroke="#222" stroke-width="1" shape-rendering="crispEdges"/>
<text x="313.60" y="806.30" font-size="8.6" text-anchor="middle">20</text>
<line x1="380.10" y1="792.30" x2="380.10" y2="795.30" stroke="#222" stroke-width="1" shape-rendering="crispEdges"/>
<text x="380.10" y="806.30" font-size="8.6" text-anchor="middle">25</text>
<line x1="80.85" y1="792.30" x2="80.85" y2="794.10" stroke="#222" stroke-width="0.8"/>
<line x1="147.35" y1="792.30" x2="147.35" y2="794.10" stroke="#222" stroke-width="0.8"/>
<line x1="213.85" y1="792.30" x2="213.85" y2="794.10" stroke="#222" stroke-width="0.8"/>
<line x1="280.35" y1="792.30" x2="280.35" y2="794.10" stroke="#222" stroke-width="0.8"/>
<line x1="346.85" y1="792.30" x2="346.85" y2="794.10" stroke="#222" stroke-width="0.8"/>
<text x="227.50" y="820.40" font-size="9.4" text-anchor="middle">RT/min</text>
<path d="M47.60 741.00 L47.73 741.00 L47.87 741.00 L48.00 741.00 L48.13 741.00 L48.27 741.00 L48.40 741.00 L48.53 741.00 L48.66 741.00 L48.80 741.00 L48.93 741.00 L49.06 741.00 L49.20 741.00 L49.33 741.00 L49.46 741.00 L49.59 741.00 L49.73 741.00 L49.86 741.00 L49.99 741.00 L50.13 741.00 L50.26 741.00 L50.39 741.00 L50.53 741.00 L50.66 741.00 L50.79 741.00 L50.93 741.00 L51.06 741.00 L51.19 741.00 L51.32 741.00 L51.46 741.00 L51.59 741.00 L51.72 741.00 L51.86 741.00 L51.99 741.00 L52.12 741.00 L52.26 741.00 L52.39 741.00 L52.52 741.00 L52.65 741.00 L52.79 741.00 L52.92 741.00 L53.05 741.00 L53.19 741.00 L53.32 741.00 L53.45 741.00 L53.59 741.00 L53.72 741.00 L53.85 741.00 L53.98 741.00 L54.12 741.00 L54.25 741.00 L54.38 741.00 L54.52 741.00 L54.65 741.00 L54.78 741.00 L54.92 741.00 L55.05 741.00 L55.18 741.00 L55.31 741.00 L55.45 741.00 L55.58 741.00 L55.71 741.00 L55.85 741.00 L55.98 741.00 L56.11 741.00 L56.25 741.00 L56.38 741.00 L56.51 741.00 L56.64 741.00 L56.78 741.00 L56.91 741.00 L57.04 741.00 L57.18 741.00 L57.31 741.00 L57.44 741.00 L57.58 741.00 L57.71 741.00 L57.84 741.00 L57.97 741.00 L58.11 741.00 L58.24 741.00 L58.37 741.00 L58.51 741.00 L58.64 741.00 L58.77 741.00 L58.91 741.00 L59.04 741.00 L59.17 741.00 L59.30 741.00 L59.44 741.00 L59.57 741.00 L59.70 741.00 L59.84 741.00 L59.97 741.00 L60.10 741.00 L60.24 741.00 L60.37 741.00 L60.50 741.00 L60.63 741.00 L60.77 741.00 L60.90 741.00 L61.03 741.00 L61.17 741.00 L61.30 741.00 L61.43 741.00 L61.57 741.00 L61.70 741.00 L61.83 741.00 L61.96 741.00 L62.10 741.00 L62.23 741.00 L62.36 741.00 L62.50 741.00 L62.63 741.00 L62.76 741.00 L62.90 741.00 L63.03 741.00 L63.16 741.00 L63.29 741.00 L63.43 741.00 L63.56 741.00 L63.69 741.00 L63.83 741.00 L63.96 741.00 L64.09 741.00 L64.23 741.00 L64.36 741.00 L64.49 741.00 L64.62 741.00 L64.76 741.00 L64.89 740.99 L65.02 740.99 L65.16 740.98 L65.29 740.97 L65.42 740.95 L65.56 740.92 L65.69 740.88 L65.82 740.83 L65.95 740.77 L66.09 740.71 L66.22 740.64 L66.35 740.56 L66.49 740.50 L66.62 740.45 L66.75 740.41 L66.89 740.40 L67.02 740.41 L67.15 740.45 L67.28 740.50 L67.42 740.56 L67.55 740.64 L67.68 740.71 L67.82 740.77 L67.95 740.83 L68.08 740.88 L68.22 740.92 L68.35 740.95 L68.48 740.97 L68.61 740.98 L68.75 740.99 L68.88 740.99 L69.01 741.00 L69.15 741.00 L69.28 741.00 L69.41 741.00 L69.55 741.00 L69.68 741.00 L69.81 741.00 L69.94 741.00 L70.08 741.00 L70.21 741.00 L70.34 741.00 L70.48 741.00 L70.61 741.00 L70.74 741.00 L70.88 741.00 L71.01 741.00 L71.14 741.00 L71.27 741.00 L71.41 741.00 L71.54 741.00 L71.67 741.00 L71.81 741.00 L71.94 741.00 L72.07 741.00 L72.21 741.00 L72.34 741.00 L72.47 741.00 L72.60 741.00 L72.74 741.00 L72.87 741.00 L73.00 741.00 L73.14 741.00 L73.27 741.00 L73.40 741.00 L73.54 741.00 L73.67 741.00 L73.80 741.00 L73.93 741.00 L74.07 741.00 L74.20 741.00 L74.33 740.99 L74.47 740.99 L74.60 740.99 L74.73 740.99 L74.87 740.98 L75.00 740.98 L75.13 740.97 L75.26 740.96 L75.40 740.96 L75.53 740.95 L75.66 740.93 L75.80 740.92 L75.93 740.91 L76.06 740.89 L76.19 740.87 L76.33 740.85 L76.46 740.83 L76.59 740.81 L76.73 740.78 L76.86 740.76 L76.99 740.73 L77.13 740.71 L77.26 740.69 L77.39 740.67 L77.52 740.65 L77.66 740.63 L77.79 740.62 L77.92 740.61 L78.06 740.60 L78.19 740.60 L78.32 740.60 L78.46 740.61 L78.59 740.62 L78.72 740.63 L78.85 740.64 L78.99 740.66 L79.12 740.68 L79.25 740.70 L79.39 740.72 L79.52 740.74 L79.65 740.75 L79.79 740.77 L79.92 740.78 L80.05 740.78 L80.18 740.78 L80.32 740.78 L80.45 740.77 L80.58 740.76 L80.72 740.74 L80.85 740.72 L80.98 740.69 L81.12 740.66 L81.25 740.63 L81.38 740.60 L81.51 740.57 L81.65 740.55 L81.78 740.52 L81.91 740.51 L82.05 740.50 L82.18 740.50 L82.31 740.50 L82.45 740.51 L82.58 740.53 L82.71 740.56 L82.84 740.59 L82.98 740.62 L83.11 740.66 L83.24 740.70 L83.38 740.73 L83.51 740.77 L83.64 740.81 L83.78 740.84 L83.91 740.87 L84.04 740.89 L84.17 740.91 L84.31 740.93 L84.44 740.95 L84.57 740.96 L84.71 740.97 L84.84 740.97 L84.97 740.97 L85.11 740.97 L85.24 740.96 L85.37 740.94 L85.50 740.91 L85.64 740.87 L85.77 740.81 L85.90 740.73 L86.04 740.63 L86.17 740.50 L86.30 740.35 L86.44 740.18 L86.57 739.99 L86.70 739.79 L86.83 739.59 L86.97 739.40 L87.10 739.23 L87.23 739.11 L87.37 739.03 L87.50 739.00 L87.63 739.03 L87.77 739.11 L87.90 739.24 L88.03 739.40 L88.16 739.59 L88.30 739.79 L88.43 739.99 L88.56 740.18 L88.70 740.35 L88.83 740.50 L88.96 740.63 L89.10 740.73 L89.23 740.81 L89.36 740.87 L89.49 740.91 L89.63 740.94 L89.76 740.96 L89.89 740.98 L90.03 740.99 L90.16 740.99 L90.29 741.00 L90.43 741.00 L90.56 741.00 L90.69 741.00 L90.82 741.00 L90.96 741.00 L91.09 741.00 L91.22 741.00 L91.36 741.00 L91.49 741.00 L91.62 741.00 L91.76 741.00 L91.89 741.00 L92.02 741.00 L92.15 741.00 L92.29 741.00 L92.42 741.00 L92.55 741.00 L92.69 741.00 L92.82 741.00 L92.95 741.00 L93.09 741.00 L93.22 741.00 L93.35 741.00 L93.48 741.00 L93.62 741.00 L93.75 741.00 L93.88 741.00 L94.02 741.00 L94.15 741.00 L94.28 741.00 L94.42 741.00 L94.55 741.00 L94.68 741.00 L94.81 741.00 L94.95 741.00 L95.08 741.00 L95.21 741.00 L95.35 741.00 L95.48 741.00 L95.61 741.00 L95.75 741.00 L95.88 741.00 L96.01 741.00 L96.14 741.00 L96.28 741.00 L96.41 741.00 L96.54 741.00 L96.68 741.00 L96.81 741.00 L96.94 741.00 L97.08 741.00 L97.21 741.00 L97.34 741.00 L97.47 741.00 L97.61 741.00 L97.74 741.00 L97.87 741.00 L98.01 741.00 L98.14 741.00 L98.27 741.00 L98.41 741.00 L98.54 741.00 L98.67 741.00 L98.80 741.00 L98.94 741.00 L99.07 741.00 L99.20 741.00 L99.34 741.00 L99.47 741.00 L99.60 741.00 L99.74 741.00 L99.87 741.00 L100.00 741.00 L100.13 741.00 L100.27 741.00 L100.40 741.00 L100.53 741.00 L100.67 741.00 L100.80 741.00 L100.93 741.00 L101.07 741.00 L101.20 741.00 L101.33 741.00 L101.46 741.00 L101.60 741.00 L101.73 741.00 L101.86 741.00 L102.00 741.00 L102.13 741.00 L102.26 741.00 L102.40 741.00 L102.53 741.00 L102.66 741.00 L102.79 741.00 L102.93 741.00 L103.06 741.00 L103.19 741.00 L103.33 741.00 L103.46 741.00 L103.59 741.00 L103.73 741.00 L103.86 741.00 L103.99 741.00 L104.12 741.00 L104.26 741.00 L104.39 741.00 L104.52 741.00 L104.66 741.00 L104.79 741.00 L104.92 741.00 L105.06 741.00 L105.19 741.00 L105.32 741.00 L105.45 741.00 L105.59 741.00 L105.72 741.00 L105.85 741.00 L105.99 741.00 L106.12 741.00 L106.25 741.00 L106.39 741.00 L106.52 741.00 L106.65 741.00 L106.78 741.00 L106.92 741.00 L107.05 741.00 L107.18 741.00 L107.32 741.00 L107.45 741.00 L107.58 741.00 L107.72 741.00 L107.85 741.00 L107.98 741.00 L108.11 741.00 L108.25 741.00 L108.38 741.00 L108.51 741.00 L108.65 741.00 L108.78 741.00 L108.91 741.00 L109.05 741.00 L109.18 741.00 L109.31 741.00 L109.44 741.00 L109.58 741.00 L109.71 741.00 L109.84 741.00 L109.98 741.00 L110.11 741.00 L110.24 741.00 L110.38 741.00 L110.51 741.00 L110.64 741.00 L110.77 741.00 L110.91 741.00 L111.04 741.00 L111.17 741.00 L111.31 741.00 L111.44 741.00 L111.57 741.00 L111.71 741.00 L111.84 741.00 L111.97 741.00 L112.10 741.00 L112.24 741.00 L112.37 741.00 L112.50 741.00 L112.64 741.00 L112.77 741.00 L112.90 741.00 L113.04 741.00 L113.17 741.00 L113.30 741.00 L113.43 741.00 L113.57 741.00 L113.70 741.00 L113.83 741.00 L113.97 741.00 L114.10 741.00 L114.23 741.00 L114.37 741.00 L114.50 741.00 L114.63 741.00 L114.76 741.00 L114.90 741.00 L115.03 741.00 L115.16 741.00 L115.30 741.00 L115.43 741.00 L115.56 741.00 L115.70 741.00 L115.83 741.00 L115.96 741.00 L116.09 741.00 L116.23 741.00 L116.36 741.00 L116.49 741.00 L116.63 741.00 L116.76 741.00 L116.89 741.00 L117.03 741.00 L117.16 741.00 L117.29 741.00 L117.42 741.00 L117.56 741.00 L117.69 741.00 L117.82 741.00 L117.96 741.00 L118.09 741.00 L118.22 741.00 L118.36 741.00 L118.49 741.00 L118.62 741.00 L118.75 741.00 L118.89 741.00 L119.02 741.00 L119.15 741.00 L119.29 741.00 L119.42 741.00 L119.55 741.00 L119.69 741.00 L119.82 741.00 L119.95 741.00 L120.08 741.00 L120.22 741.00 L120.35 741.00 L120.48 741.00 L120.62 741.00 L120.75 741.00 L120.88 741.00 L121.02 741.00 L121.15 741.00 L121.28 740.99 L121.41 740.99 L121.55 740.97 L121.68 740.95 L121.81 740.90 L121.95 740.83 L122.08 740.70 L122.21 740.51 L122.35 740.22 L122.48 739.81 L122.61 739.26 L122.74 738.55 L122.88 737.70 L123.01 736.72 L123.14 735.66 L123.28 734.61 L123.41 733.65 L123.54 732.88 L123.68 732.37 L123.81 732.20 L123.94 732.37 L124.07 732.88 L124.21 733.65 L124.34 734.61 L124.47 735.66 L124.61 736.71 L124.74 737.67 L124.87 738.51 L125.01 739.18 L125.14 739.66 L125.27 739.97 L125.40 740.10 L125.54 740.05 L125.67 739.84 L125.80 739.46 L125.94 738.92 L126.07 738.23 L126.20 737.43 L126.34 736.57 L126.47 735.70 L126.60 734.90 L126.73 734.26 L126.87 733.84 L127.00 733.70 L127.13 733.84 L127.27 734.26 L127.40 734.90 L127.53 735.70 L127.67 736.57 L127.80 737.45 L127.93 738.26 L128.06 738.97 L128.20 739.56 L128.33 740.01 L128.46 740.35 L128.60 740.59 L128.73 740.75 L128.86 740.86 L129.00 740.92 L129.13 740.96 L129.26 740.98 L129.39 740.99 L129.53 740.99 L129.66 741.00 L129.79 741.00 L129.93 741.00 L130.06 741.00 L130.19 741.00 L130.33 741.00 L130.46 741.00 L130.59 741.00 L130.72 741.00 L130.86 741.00 L130.99 741.00 L131.12 741.00 L131.26 741.00 L131.39 741.00 L131.52 741.00 L131.66 741.00 L131.79 741.00 L131.92 741.00 L132.05 741.00 L132.19 741.00 L132.32 741.00 L132.45 741.00 L132.59 741.00 L132.72 741.00 L132.85 741.00 L132.99 741.00 L133.12 741.00 L133.25 741.00 L133.38 741.00 L133.52 741.00 L133.65 741.00 L133.78 741.00 L133.92 741.00 L134.05 741.00 L134.18 741.00 L134.32 741.00 L134.45 741.00 L134.58 741.00 L134.71 741.00 L134.85 741.00 L134.98 741.00 L135.11 741.00 L135.25 741.00 L135.38 741.00 L135.51 741.00 L135.65 741.00 L135.78 741.00 L135.91 741.00 L136.04 741.00 L136.18 741.00 L136.31 741.00 L136.44 741.00 L136.58 741.00 L136.71 741.00 L136.84 741.00 L136.98 741.00 L137.11 741.00 L137.24 741.00 L137.37 741.00 L137.51 741.00 L137.64 741.00 L137.77 741.00 L137.91 741.00 L138.04 741.00 L138.17 741.00 L138.31 741.00 L138.44 741.00 L138.57 741.00 L138.70 741.00 L138.84 741.00 L138.97 741.00 L139.10 741.00 L139.24 741.00 L139.37 741.00 L139.50 741.00 L139.64 741.00 L139.77 741.00 L139.90 741.00 L140.03 741.00 L140.17 741.00 L140.30 741.00 L140.43 741.00 L140.57 741.00 L140.70 741.00 L140.83 741.00 L140.97 741.00 L141.10 741.00 L141.23 741.00 L141.36 741.00 L141.50 741.00 L141.63 741.00 L141.76 741.00 L141.90 741.00 L142.03 741.00 L142.16 741.00 L142.30 741.00 L142.43 741.00 L142.56 741.00 L142.69 741.00 L142.83 741.00 L142.96 741.00 L143.09 741.00 L143.23 741.00 L143.36 741.00 L143.49 741.00 L143.63 741.00 L143.76 741.00 L143.89 741.00 L144.02 741.00 L144.16 741.00 L144.29 741.00 L144.42 741.00 L144.56 741.00 L144.69 741.00 L144.82 741.00 L144.96 741.00 L145.09 741.00 L145.22 741.00 L145.35 741.00 L145.49 741.00 L145.62 741.00 L145.75 741.00 L145.89 741.00 L146.02 741.00 L146.15 741.00 L146.29 741.00 L146.42 741.00 L146.55 741.00 L146.68 741.00 L146.82 741.00 L146.95 741.00 L147.08 741.00 L147.22 741.00 L147.35 741.00 L147.48 741.00 L147.62 741.00 L147.75 741.00 L147.88 741.00 L148.01 741.00 L148.15 741.00 L148.28 741.00 L148.41 741.00 L148.55 741.00 L148.68 740.99 L148.81 740.99 L148.95 740.99 L149.08 740.99 L149.21 740.98 L149.34 740.98 L149.48 740.97 L149.61 740.96 L149.74 740.96 L149.88 740.94 L150.01 740.93 L150.14 740.92 L150.28 740.90 L150.41 740.88 L150.54 740.86 L150.67 740.84 L150.81 740.81 L150.94 740.79 L151.07 740.76 L151.21 740.73 L151.34 740.70 L151.47 740.67 L151.61 740.64 L151.74 740.61 L151.87 740.58 L152.00 740.56 L152.14 740.54 L152.27 740.52 L152.40 740.51 L152.54 740.50 L152.67 740.50 L152.80 740.50 L152.94 740.51 L153.07 740.52 L153.20 740.54 L153.33 740.56 L153.47 740.58 L153.60 740.61 L153.73 740.64 L153.87 740.67 L154.00 740.70 L154.13 740.73 L154.27 740.76 L154.40 740.79 L154.53 740.81 L154.66 740.84 L154.80 740.86 L154.93 740.88 L155.06 740.90 L155.20 740.92 L155.33 740.93 L155.46 740.94 L155.60 740.96 L155.73 740.96 L155.86 740.97 L155.99 740.98 L156.13 740.98 L156.26 740.99 L156.39 740.99 L156.53 740.99 L156.66 740.99 L156.79 741.00 L156.93 741.00 L157.06 741.00 L157.19 741.00 L157.32 741.00 L157.46 741.00 L157.59 741.00 L157.72 741.00 L157.86 741.00 L157.99 741.00 L158.12 741.00 L158.26 741.00 L158.39 741.00 L158.52 741.00 L158.65 741.00 L158.79 741.00 L158.92 741.00 L159.05 741.00 L159.19 741.00 L159.32 741.00 L159.45 741.00 L159.59 741.00 L159.72 741.00 L159.85 741.00 L159.98 741.00 L160.12 741.00 L160.25 741.00 L160.38 741.00 L160.52 741.00 L160.65 741.00 L160.78 740.99 L160.92 740.98 L161.05 740.97 L161.18 740.94 L161.31 740.90 L161.45 740.83 L161.58 740.73 L161.71 740.57 L161.85 740.35 L161.98 740.05 L162.11 739.66 L162.25 739.16 L162.38 738.57 L162.51 737.89 L162.64 737.14 L162.78 736.37 L162.91 735.63 L163.04 734.97 L163.18 734.45 L163.31 734.11 L163.44 734.00 L163.58 734.11 L163.71 734.45 L163.84 734.97 L163.97 735.63 L164.11 736.37 L164.24 737.14 L164.37 737.89 L164.51 738.57 L164.64 739.16 L164.77 739.66 L164.91 740.05 L165.04 740.35 L165.17 740.57 L165.30 740.73 L165.44 740.83 L165.57 740.90 L165.70 740.94 L165.84 740.97 L165.97 740.98 L166.10 740.99 L166.24 741.00 L166.37 741.00 L166.50 741.00 L166.63 741.00 L166.77 741.00 L166.90 741.00 L167.03 741.00 L167.17 741.00 L167.30 741.00 L167.43 741.00 L167.57 741.00 L167.70 740.99 L167.83 740.98 L167.96 740.97 L168.10 740.95 L168.23 740.90 L168.36 740.83 L168.50 740.72 L168.63 740.55 L168.76 740.30 L168.90 739.95 L169.03 739.46 L169.16 738.82 L169.29 738.01 L169.43 737.04 L169.56 735.93 L169.69 734.71 L169.83 733.46 L169.96 732.25 L170.09 731.18 L170.23 730.33 L170.36 729.79 L170.49 729.60 L170.62 729.79 L170.76 730.33 L170.89 731.18 L171.02 732.25 L171.16 733.46 L171.29 734.71 L171.42 735.93 L171.56 737.04 L171.69 738.01 L171.82 738.82 L171.95 739.46 L172.09 739.95 L172.22 740.30 L172.35 740.55 L172.49 740.72 L172.62 740.83 L172.75 740.90 L172.89 740.95 L173.02 740.97 L173.15 740.98 L173.28 740.99 L173.42 741.00 L173.55 741.00 L173.68 741.00 L173.82 741.00 L173.95 741.00 L174.08 741.00 L174.22 741.00 L174.35 741.00 L174.48 741.00 L174.61 741.00 L174.75 741.00 L174.88 741.00 L175.01 741.00 L175.15 741.00 L175.28 741.00 L175.41 741.00 L175.55 741.00 L175.68 741.00 L175.81 741.00 L175.94 741.00 L176.08 741.00 L176.21 741.00 L176.34 741.00 L176.48 741.00 L176.61 741.00 L176.74 741.00 L176.88 741.00 L177.01 741.00 L177.14 741.00 L177.27 741.00 L177.41 741.00 L177.54 741.00 L177.67 741.00 L177.81 741.00 L177.94 741.00 L178.07 741.00 L178.21 741.00 L178.34 740.99 L178.47 740.99 L178.60 740.97 L178.74 740.94 L178.87 740.87 L179.00 740.75 L179.14 740.53 L179.27 740.17 L179.40 739.57 L179.54 738.64 L179.67 737.27 L179.80 735.32 L179.93 732.69 L180.07 729.32 L180.20 725.24 L180.33 720.56 L180.47 715.53 L180.60 710.50 L180.73 705.92 L180.87 702.23 L181.00 699.83 L181.13 699.00 L181.26 699.83 L181.40 702.23 L181.53 705.92 L181.66 710.50 L181.80 715.53 L181.93 720.56 L182.06 725.24 L182.20 729.32 L182.33 732.69 L182.46 735.32 L182.59 737.27 L182.73 738.64 L182.86 739.57 L182.99 740.17 L183.13 740.53 L183.26 740.75 L183.39 740.87 L183.53 740.94 L183.66 740.97 L183.79 740.98 L183.92 740.99 L184.06 740.99 L184.19 740.99 L184.32 740.98 L184.46 740.97 L184.59 740.96 L184.72 740.93 L184.86 740.89 L184.99 740.84 L185.12 740.78 L185.25 740.70 L185.39 740.61 L185.52 740.51 L185.65 740.42 L185.79 740.33 L185.92 740.26 L186.05 740.22 L186.19 740.20 L186.32 740.22 L186.45 740.26 L186.58 740.33 L186.72 740.42 L186.85 740.51 L186.98 740.61 L187.12 740.70 L187.25 740.78 L187.38 740.84 L187.52 740.89 L187.65 740.93 L187.78 740.96 L187.91 740.97 L188.05 740.98 L188.18 740.99 L188.31 741.00 L188.45 741.00 L188.58 741.00 L188.71 741.00 L188.85 741.00 L188.98 741.00 L189.11 741.00 L189.24 741.00 L189.38 741.00 L189.51 741.00 L189.64 741.00 L189.78 741.00 L189.91 741.00 L190.04 741.00 L190.18 741.00 L190.31 741.00 L190.44 740.99 L190.57 740.99 L190.71 740.98 L190.84 740.96 L190.97 740.92 L191.11 740.87 L191.24 740.78 L191.37 740.64 L191.51 740.44 L191.64 740.15 L191.77 739.75 L191.90 739.24 L192.04 738.59 L192.17 737.81 L192.30 736.91 L192.44 735.93 L192.57 734.91 L192.70 733.94 L192.84 733.07 L192.97 732.39 L193.10 731.95 L193.23 731.80 L193.37 731.95 L193.50 732.39 L193.63 733.07 L193.77 733.94 L193.90 734.91 L194.03 735.92 L194.17 736.89 L194.30 737.78 L194.43 738.53 L194.56 739.14 L194.70 739.59 L194.83 739.87 L194.96 739.99 L195.10 739.94 L195.23 739.72 L195.36 739.32 L195.50 738.74 L195.63 737.97 L195.76 737.02 L195.89 735.92 L196.03 734.71 L196.16 733.46 L196.29 732.25 L196.43 731.18 L196.56 730.33 L196.69 729.79 L196.83 729.60 L196.96 729.79 L197.09 730.33 L197.22 731.18 L197.36 732.25 L197.49 733.46 L197.62 734.71 L197.76 735.93 L197.89 737.04 L198.02 738.01 L198.16 738.82 L198.29 739.46 L198.42 739.95 L198.55 740.30 L198.69 740.55 L198.82 740.72 L198.95 740.83 L199.09 740.90 L199.22 740.95 L199.35 740.97 L199.49 740.98 L199.62 740.99 L199.75 741.00 L199.88 741.00 L200.02 741.00 L200.15 741.00 L200.28 741.00 L200.42 741.00 L200.55 741.00 L200.68 741.00 L200.82 741.00 L200.95 741.00 L201.08 741.00 L201.21 741.00 L201.35 741.00 L201.48 741.00 L201.61 741.00 L201.75 741.00 L201.88 741.00 L202.01 741.00 L202.15 741.00 L202.28 741.00 L202.41 741.00 L202.54 741.00 L202.68 741.00 L202.81 741.00 L202.94 741.00 L203.08 741.00 L203.21 741.00 L203.34 741.00 L203.48 741.00 L203.61 741.00 L203.74 741.00 L203.87 741.00 L204.01 741.00 L204.14 741.00 L204.27 741.00 L204.41 741.00 L204.54 741.00 L204.67 741.00 L204.81 741.00 L204.94 741.00 L205.07 741.00 L205.20 741.00 L205.34 741.00 L205.47 741.00 L205.60 741.00 L205.74 741.00 L205.87 741.00 L206.00 741.00 L206.14 741.00 L206.27 741.00 L206.40 740.99 L206.53 740.99 L206.67 740.97 L206.80 740.95 L206.93 740.92 L207.07 740.85 L207.20 740.76 L207.33 740.61 L207.47 740.39 L207.60 740.07 L207.73 739.65 L207.86 739.09 L208.00 738.38 L208.13 737.53 L208.26 736.55 L208.40 735.48 L208.53 734.38 L208.66 733.32 L208.80 732.38 L208.93 731.64 L209.06 731.16 L209.19 731.00 L209.33 731.16 L209.46 731.64 L209.59 732.38 L209.73 733.32 L209.86 734.38 L209.99 735.48 L210.13 736.55 L210.26 737.53 L210.39 738.38 L210.52 739.09 L210.66 739.65 L210.79 740.07 L210.92 740.39 L211.06 740.61 L211.19 740.76 L211.32 740.85 L211.46 740.92 L211.59 740.95 L211.72 740.97 L211.85 740.99 L211.99 740.99 L212.12 741.00 L212.25 741.00 L212.39 741.00 L212.52 741.00 L212.65 741.00 L212.79 741.00 L212.92 741.00 L213.05 741.00 L213.18 741.00 L213.32 741.00 L213.45 741.00 L213.58 741.00 L213.72 741.00 L213.85 741.00 L213.98 741.00 L214.12 741.00 L214.25 741.00 L214.38 741.00 L214.51 741.00 L214.65 741.00 L214.78 741.00 L214.91 741.00 L215.05 741.00 L215.18 741.00 L215.31 741.00 L215.45 741.00 L215.58 741.00 L215.71 741.00 L215.84 741.00 L215.98 741.00 L216.11 741.00 L216.24 741.00 L216.38 741.00 L216.51 741.00 L216.64 741.00 L216.78 741.00 L216.91 741.00 L217.04 741.00 L217.17 740.99 L217.31 740.98 L217.44 740.96 L217.57 740.91 L217.71 740.83 L217.84 740.69 L217.97 740.44 L218.11 740.04 L218.24 739.42 L218.37 738.49 L218.50 737.18 L218.64 735.42 L218.77 733.16 L218.90 730.42 L219.04 727.27 L219.17 723.90 L219.30 720.52 L219.44 717.45 L219.57 714.97 L219.70 713.36 L219.83 712.80 L219.97 713.36 L220.10 714.97 L220.23 717.45 L220.37 720.52 L220.50 723.90 L220.63 727.27 L220.77 730.42 L220.90 733.16 L221.03 735.42 L221.16 737.18 L221.30 738.49 L221.43 739.41 L221.56 740.03 L221.70 740.42 L221.83 740.65 L221.96 740.77 L222.10 740.82 L222.23 740.81 L222.36 740.76 L222.49 740.67 L222.63 740.54 L222.76 740.36 L222.89 740.15 L223.03 739.90 L223.16 739.60 L223.29 739.28 L223.43 738.94 L223.56 738.60 L223.69 738.28 L223.82 738.00 L223.96 737.78 L224.09 737.65 L224.22 737.60 L224.36 737.65 L224.49 737.78 L224.62 738.00 L224.76 738.28 L224.89 738.60 L225.02 738.94 L225.15 739.28 L225.29 739.60 L225.42 739.90 L225.55 740.15 L225.69 740.37 L225.82 740.54 L225.95 740.67 L226.09 740.78 L226.22 740.85 L226.35 740.90 L226.48 740.94 L226.62 740.96 L226.75 740.98 L226.88 740.99 L227.02 740.99 L227.15 741.00 L227.28 741.00 L227.42 741.00 L227.55 741.00 L227.68 741.00 L227.81 741.00 L227.95 741.00 L228.08 741.00 L228.21 741.00 L228.35 741.00 L228.48 741.00 L228.61 741.00 L228.75 741.00 L228.88 741.00 L229.01 741.00 L229.14 741.00 L229.28 741.00 L229.41 741.00 L229.54 741.00 L229.68 741.00 L229.81 741.00 L229.94 741.00 L230.08 741.00 L230.21 741.00 L230.34 741.00 L230.47 741.00 L230.61 741.00 L230.74 741.00 L230.87 741.00 L231.01 741.00 L231.14 741.00 L231.27 741.00 L231.41 741.00 L231.54 741.00 L231.67 741.00 L231.80 741.00 L231.94 741.00 L232.07 741.00 L232.20 741.00 L232.34 741.00 L232.47 741.00 L232.60 741.00 L232.74 741.00 L232.87 741.00 L233.00 741.00 L233.13 741.00 L233.27 741.00 L233.40 741.00 L233.53 741.00 L233.67 741.00 L233.80 741.00 L233.93 741.00 L234.07 741.00 L234.20 741.00 L234.33 741.00 L234.46 741.00 L234.60 741.00 L234.73 741.00 L234.86 741.00 L235.00 741.00 L235.13 741.00 L235.26 741.00 L235.40 741.00 L235.53 741.00 L235.66 741.00 L235.79 741.00 L235.93 741.00 L236.06 741.00 L236.19 741.00 L236.33 741.00 L236.46 741.00 L236.59 741.00 L236.73 741.00 L236.86 741.00 L236.99 741.00 L237.12 741.00 L237.26 741.00 L237.39 741.00 L237.52 741.00 L237.66 741.00 L237.79 741.00 L237.92 741.00 L238.06 741.00 L238.19 741.00 L238.32 741.00 L238.45 741.00 L238.59 741.00 L238.72 741.00 L238.85 741.00 L238.99 741.00 L239.12 741.00 L239.25 741.00 L239.39 741.00 L239.52 741.00 L239.65 741.00 L239.78 741.00 L239.92 741.00 L240.05 741.00 L240.18 741.00 L240.32 741.00 L240.45 741.00 L240.58 741.00 L240.72 741.00 L240.85 741.00 L240.98 741.00 L241.11 741.00 L241.25 741.00 L241.38 741.00 L241.51 741.00 L241.65 741.00 L241.78 741.00 L241.91 741.00 L242.05 741.00 L242.18 741.00 L242.31 741.00 L242.44 741.00 L242.58 741.00 L242.71 741.00 L242.84 741.00 L242.98 741.00 L243.11 741.00 L243.24 741.00 L243.38 741.00 L243.51 741.00 L243.64 741.00 L243.77 741.00 L243.91 741.00 L244.04 741.00 L244.17 741.00 L244.31 741.00 L244.44 741.00 L244.57 741.00 L244.71 741.00 L244.84 741.00 L244.97 741.00 L245.10 741.00 L245.24 741.00 L245.37 741.00 L245.50 741.00 L245.64 741.00 L245.77 741.00 L245.90 741.00 L246.04 741.00 L246.17 741.00 L246.30 741.00 L246.43 741.00 L246.57 741.00 L246.70 741.00 L246.83 741.00 L246.97 741.00 L247.10 741.00 L247.23 741.00 L247.37 741.00 L247.50 741.00 L247.63 741.00 L247.76 741.00 L247.90 741.00 L248.03 741.00 L248.16 741.00 L248.30 741.00 L248.43 741.00 L248.56 741.00 L248.70 741.00 L248.83 741.00 L248.96 741.00 L249.09 741.00 L249.23 741.00 L249.36 741.00 L249.49 741.00 L249.63 741.00 L249.76 741.00 L249.89 741.00 L250.03 741.00 L250.16 741.00 L250.29 741.00 L250.42 741.00 L250.56 741.00 L250.69 741.00 L250.82 741.00 L250.96 741.00 L251.09 741.00 L251.22 741.00 L251.36 741.00 L251.49 741.00 L251.62 741.00 L251.75 741.00 L251.89 741.00 L252.02 741.00 L252.15 741.00 L252.29 741.00 L252.42 741.00 L252.55 741.00 L252.69 741.00 L252.82 741.00 L252.95 741.00 L253.08 741.00 L253.22 741.00 L253.35 741.00 L253.48 741.00 L253.62 741.00 L253.75 741.00 L253.88 741.00 L254.02 741.00 L254.15 741.00 L254.28 741.00 L254.41 741.00 L254.55 741.00 L254.68 741.00 L254.81 741.00 L254.95 741.00 L255.08 741.00 L255.21 741.00 L255.35 741.00 L255.48 741.00 L255.61 740.99 L255.74 740.99 L255.88 740.98 L256.01 740.97 L256.14 740.96 L256.28 740.93 L256.41 740.90 L256.54 740.86 L256.68 740.81 L256.81 740.75 L256.94 740.68 L257.07 740.59 L257.21 740.49 L257.34 740.39 L257.47 740.29 L257.61 740.20 L257.74 740.12 L257.87 740.05 L258.01 740.01 L258.14 740.00 L258.27 740.01 L258.40 740.05 L258.54 740.12 L258.67 740.20 L258.80 740.29 L258.94 740.39 L259.07 740.49 L259.20 740.59 L259.34 740.68 L259.47 740.75 L259.60 740.81 L259.73 740.86 L259.87 740.90 L260.00 740.93 L260.13 740.96 L260.27 740.97 L260.40 740.98 L260.53 740.99 L260.67 740.99 L260.80 740.99 L260.93 740.99 L261.06 740.98 L261.20 740.97 L261.33 740.96 L261.46 740.93 L261.60 740.90 L261.73 740.86 L261.86 740.81 L262.00 740.76 L262.13 740.70 L262.26 740.64 L262.39 740.58 L262.53 740.54 L262.66 740.51 L262.79 740.50 L262.93 740.51 L263.06 740.54 L263.19 740.58 L263.33 740.64 L263.46 740.70 L263.59 740.76 L263.72 740.81 L263.86 740.86 L263.99 740.90 L264.12 740.93 L264.26 740.96 L264.39 740.97 L264.52 740.98 L264.66 740.99 L264.79 740.99 L264.92 741.00 L265.05 741.00 L265.19 741.00 L265.32 741.00 L265.45 741.00 L265.59 741.00 L265.72 741.00 L265.85 741.00 L265.99 741.00 L266.12 741.00 L266.25 741.00 L266.38 741.00 L266.52 741.00 L266.65 741.00 L266.78 741.00 L266.92 741.00 L267.05 741.00 L267.18 741.00 L267.32 741.00 L267.45 741.00 L267.58 741.00 L267.71 741.00 L267.85 741.00 L267.98 741.00 L268.11 741.00 L268.25 741.00 L268.38 741.00 L268.51 741.00 L268.65 741.00 L268.78 741.00 L268.91 741.00 L269.04 741.00 L269.18 741.00 L269.31 741.00 L269.44 741.00 L269.58 741.00 L269.71 741.00 L269.84 741.00 L269.98 741.00 L270.11 741.00 L270.24 741.00 L270.37 741.00 L270.51 741.00 L270.64 741.00 L270.77 741.00 L270.91 741.00 L271.04 741.00 L271.17 741.00 L271.31 741.00 L271.44 741.00 L271.57 741.00 L271.70 741.00 L271.84 741.00 L271.97 741.00 L272.10 741.00 L272.24 741.00 L272.37 741.00 L272.50 741.00 L272.64 741.00 L272.77 741.00 L272.90 741.00 L273.03 741.00 L273.17 741.00 L273.30 741.00 L273.43 741.00 L273.57 741.00 L273.70 741.00 L273.83 741.00 L273.97 741.00 L274.10 741.00 L274.23 741.00 L274.36 741.00 L274.50 741.00 L274.63 741.00 L274.76 740.99 L274.90 740.99 L275.03 740.98 L275.16 740.96 L275.30 740.94 L275.43 740.89 L275.56 740.83 L275.69 740.73 L275.83 740.58 L275.96 740.37 L276.09 740.08 L276.23 739.70 L276.36 739.21 L276.49 738.61 L276.63 737.88 L276.76 737.05 L276.89 736.14 L277.02 735.18 L277.16 734.22 L277.29 733.31 L277.42 732.53 L277.56 731.92 L277.69 731.53 L277.82 731.40 L277.96 731.53 L278.09 731.92 L278.22 732.53 L278.35 733.31 L278.49 734.22 L278.62 735.18 L278.75 736.14 L278.89 737.05 L279.02 737.88 L279.15 738.60 L279.29 739.21 L279.42 739.69 L279.55 740.07 L279.68 740.35 L279.82 740.54 L279.95 740.67 L280.08 740.74 L280.22 740.76 L280.35 740.74 L280.48 740.68 L280.62 740.60 L280.75 740.50 L280.88 740.39 L281.01 740.27 L281.15 740.16 L281.28 740.08 L281.41 740.02 L281.55 740.00 L281.68 740.02 L281.81 740.08 L281.95 740.16 L282.08 740.27 L282.21 740.39 L282.34 740.51 L282.48 740.62 L282.61 740.72 L282.74 740.80 L282.88 740.86 L283.01 740.91 L283.14 740.94 L283.28 740.97 L283.41 740.98 L283.54 740.99 L283.67 740.99 L283.81 741.00 L283.94 741.00 L284.07 741.00 L284.21 741.00 L284.34 741.00 L284.47 741.00 L284.61 741.00 L284.74 741.00 L284.87 741.00 L285.00 741.00 L285.14 741.00 L285.27 741.00 L285.40 741.00 L285.54 741.00 L285.67 741.00 L285.80 741.00 L285.94 741.00 L286.07 741.00 L286.20 741.00 L286.34 741.00 L286.47 741.00 L286.60 741.00 L286.73 741.00 L286.87 741.00 L287.00 741.00 L287.13 741.00 L287.27 741.00 L287.40 740.99 L287.53 740.99 L287.67 740.98 L287.80 740.97 L287.93 740.94 L288.06 740.91 L288.20 740.86 L288.33 740.80 L288.46 740.72 L288.60 740.62 L288.73 740.51 L288.86 740.39 L289.00 740.27 L289.13 740.16 L289.26 740.08 L289.39 740.02 L289.53 740.00 L289.66 740.02 L289.79 740.08 L289.93 740.16 L290.06 740.27 L290.19 740.39 L290.33 740.51 L290.46 740.62 L290.59 740.72 L290.72 740.80 L290.86 740.86 L290.99 740.91 L291.12 740.94 L291.26 740.97 L291.39 740.98 L291.52 740.99 L291.66 740.99 L291.79 741.00 L291.92 741.00 L292.05 741.00 L292.19 741.00 L292.32 741.00 L292.45 741.00 L292.59 741.00 L292.72 741.00 L292.85 741.00 L292.99 741.00 L293.12 741.00 L293.25 741.00 L293.38 741.00 L293.52 741.00 L293.65 741.00 L293.78 741.00 L293.92 741.00 L294.05 741.00 L294.18 741.00 L294.32 741.00 L294.45 741.00 L294.58 741.00 L294.71 741.00 L294.85 741.00 L294.98 741.00 L295.11 741.00 L295.25 741.00 L295.38 741.00 L295.51 741.00 L295.65 741.00 L295.78 741.00 L295.91 741.00 L296.04 741.00 L296.18 741.00 L296.31 741.00 L296.44 741.00 L296.58 741.00 L296.71 741.00 L296.84 741.00 L296.98 741.00 L297.11 741.00 L297.24 741.00 L297.37 741.00 L297.51 741.00 L297.64 741.00 L297.77 741.00 L297.91 741.00 L298.04 741.00 L298.17 741.00 L298.31 741.00 L298.44 741.00 L298.57 741.00 L298.70 741.00 L298.84 741.00 L298.97 741.00 L299.10 741.00 L299.24 741.00 L299.37 741.00 L299.50 741.00 L299.64 741.00 L299.77 741.00 L299.90 741.00 L300.03 741.00 L300.17 741.00 L300.30 741.00 L300.43 741.00 L300.57 741.00 L300.70 741.00 L300.83 741.00 L300.97 741.00 L301.10 741.00 L301.23 741.00 L301.36 741.00 L301.50 741.00 L301.63 741.00 L301.76 741.00 L301.90 741.00 L302.03 741.00 L302.16 740.99 L302.30 740.99 L302.43 740.98 L302.56 740.97 L302.69 740.96 L302.83 740.93 L302.96 740.90 L303.09 740.86 L303.23 740.81 L303.36 740.76 L303.49 740.70 L303.63 740.64 L303.76 740.58 L303.89 740.54 L304.02 740.51 L304.16 740.50 L304.29 740.51 L304.42 740.54 L304.56 740.58 L304.69 740.64 L304.82 740.70 L304.96 740.76 L305.09 740.81 L305.22 740.86 L305.35 740.90 L305.49 740.93 L305.62 740.96 L305.75 740.97 L305.89 740.98 L306.02 740.99 L306.15 740.99 L306.29 740.98 L306.42 740.97 L306.55 740.94 L306.68 740.89 L306.82 740.81 L306.95 740.69 L307.08 740.51 L307.22 740.26 L307.35 739.91 L307.48 739.47 L307.62 738.94 L307.75 738.32 L307.88 737.66 L308.01 737.01 L308.15 736.41 L308.28 735.92 L308.41 735.61 L308.55 735.50 L308.68 735.61 L308.81 735.92 L308.95 736.40 L309.08 737.00 L309.21 737.65 L309.34 738.31 L309.48 738.90 L309.61 739.42 L309.74 739.82 L309.88 740.10 L310.01 740.25 L310.14 740.28 L310.28 740.18 L310.41 739.95 L310.54 739.57 L310.67 739.03 L310.81 738.32 L310.94 737.43 L311.07 736.35 L311.21 735.12 L311.34 733.76 L311.47 732.33 L311.61 730.89 L311.74 729.55 L311.87 728.38 L312.00 727.47 L312.14 726.90 L312.27 726.70 L312.40 726.90 L312.54 727.47 L312.67 728.38 L312.80 729.55 L312.94 730.89 L313.07 732.33 L313.20 733.76 L313.33 735.12 L313.47 736.36 L313.60 737.43 L313.73 738.34 L313.87 739.06 L314.00 739.63 L314.13 740.06 L314.27 740.37 L314.40 740.59 L314.53 740.74 L314.66 740.84 L314.80 740.90 L314.93 740.94 L315.06 740.97 L315.20 740.98 L315.33 740.99 L315.46 741.00 L315.60 741.00 L315.73 741.00 L315.86 741.00 L315.99 741.00 L316.13 741.00 L316.26 741.00 L316.39 741.00 L316.53 741.00 L316.66 741.00 L316.79 741.00 L316.93 741.00 L317.06 741.00 L317.19 741.00 L317.32 741.00 L317.46 741.00 L317.59 741.00 L317.72 741.00 L317.86 740.99 L317.99 740.99 L318.12 740.98 L318.26 740.96 L318.39 740.94 L318.52 740.90 L318.65 740.83 L318.79 740.74 L318.92 740.60 L319.05 740.40 L319.19 740.12 L319.32 739.75 L319.45 739.29 L319.59 738.71 L319.72 738.01 L319.85 737.22 L319.98 736.34 L320.12 735.42 L320.25 734.50 L320.38 733.63 L320.52 732.88 L320.65 732.30 L320.78 731.93 L320.92 731.80 L321.05 731.93 L321.18 732.30 L321.31 732.88 L321.45 733.63 L321.58 734.50 L321.71 735.42 L321.85 736.34 L321.98 737.22 L322.11 738.01 L322.25 738.71 L322.38 739.29 L322.51 739.75 L322.64 740.12 L322.78 740.40 L322.91 740.60 L323.04 740.74 L323.18 740.83 L323.31 740.90 L323.44 740.94 L323.58 740.96 L323.71 740.98 L323.84 740.99 L323.97 740.99 L324.11 741.00 L324.24 741.00 L324.37 741.00 L324.51 741.00 L324.64 741.00 L324.77 741.00 L324.91 741.00 L325.04 741.00 L325.17 741.00 L325.30 741.00 L325.44 741.00 L325.57 741.00 L325.70 741.00 L325.84 741.00 L325.97 741.00 L326.10 741.00 L326.24 741.00 L326.37 741.00 L326.50 741.00 L326.63 741.00 L326.77 741.00 L326.90 741.00 L327.03 741.00 L327.17 741.00 L327.30 741.00 L327.43 741.00 L327.57 741.00 L327.70 741.00 L327.83 741.00 L327.96 741.00 L328.10 741.00 L328.23 741.00 L328.36 741.00 L328.50 741.00 L328.63 741.00 L328.76 741.00 L328.90 741.00 L329.03 741.00 L329.16 741.00 L329.29 741.00 L329.43 741.00 L329.56 741.00 L329.69 741.00 L329.83 741.00 L329.96 741.00 L330.09 741.00 L330.23 741.00 L330.36 741.00 L330.49 741.00 L330.62 741.00 L330.76 741.00 L330.89 741.00 L331.02 741.00 L331.16 741.00 L331.29 741.00 L331.42 741.00 L331.56 741.00 L331.69 741.00 L331.82 741.00 L331.95 741.00 L332.09 741.00 L332.22 741.00 L332.35 741.00 L332.49 741.00 L332.62 741.00 L332.75 741.00 L332.89 741.00 L333.02 741.00 L333.15 741.00 L333.28 741.00 L333.42 741.00 L333.55 741.00 L333.68 741.00 L333.82 741.00 L333.95 741.00 L334.08 741.00 L334.22 741.00 L334.35 741.00 L334.48 741.00 L334.61 741.00 L334.75 741.00 L334.88 741.00 L335.01 741.00 L335.15 741.00 L335.28 741.00 L335.41 741.00 L335.55 741.00 L335.68 741.00 L335.81 741.00 L335.94 741.00 L336.08 741.00 L336.21 740.99 L336.34 740.99 L336.48 740.98 L336.61 740.98 L336.74 740.96 L336.88 740.95 L337.01 740.92 L337.14 740.89 L337.27 740.84 L337.41 740.78 L337.54 740.69 L337.67 740.58 L337.81 740.44 L337.94 740.27 L338.07 740.05 L338.21 739.79 L338.34 739.49 L338.47 739.13 L338.60 738.73 L338.74 738.28 L338.87 737.80 L339.00 737.28 L339.14 736.75 L339.27 736.23 L339.40 735.72 L339.54 735.24 L339.67 734.82 L339.80 734.48 L339.93 734.22 L340.07 734.05 L340.20 734.00 L340.33 734.05 L340.47 734.22 L340.60 734.48 L340.73 734.82 L340.87 735.24 L341.00 735.72 L341.13 736.23 L341.26 736.75 L341.40 737.28 L341.53 737.80 L341.66 738.28 L341.80 738.73 L341.93 739.13 L342.06 739.49 L342.20 739.79 L342.33 740.05 L342.46 740.27 L342.59 740.44 L342.73 740.58 L342.86 740.69 L342.99 740.78 L343.13 740.84 L343.26 740.89 L343.39 740.92 L343.53 740.95 L343.66 740.96 L343.79 740.98 L343.92 740.98 L344.06 740.99 L344.19 740.99 L344.32 741.00 L344.46 741.00 L344.59 741.00 L344.72 741.00 L344.86 741.00 L344.99 741.00 L345.12 741.00 L345.25 741.00 L345.39 741.00 L345.52 741.00 L345.65 741.00 L345.79 741.00 L345.92 741.00 L346.05 741.00 L346.19 741.00 L346.32 741.00 L346.45 741.00 L346.58 741.00 L346.72 741.00 L346.85 741.00 L346.98 740.99 L347.12 740.99 L347.25 740.98 L347.38 740.97 L347.52 740.95 L347.65 740.92 L347.78 740.89 L347.91 740.84 L348.05 740.78 L348.18 740.70 L348.31 740.61 L348.45 740.51 L348.58 740.39 L348.71 740.27 L348.85 740.15 L348.98 740.04 L349.11 739.94 L349.24 739.86 L349.38 739.82 L349.51 739.80 L349.64 739.82 L349.78 739.86 L349.91 739.94 L350.04 740.04 L350.18 740.15 L350.31 740.27 L350.44 740.39 L350.57 740.50 L350.71 740.61 L350.84 740.70 L350.97 740.77 L351.11 740.83 L351.24 740.88 L351.37 740.92 L351.51 740.94 L351.64 740.96 L351.77 740.97 L351.90 740.98 L352.04 740.98 L352.17 740.98 L352.30 740.98 L352.44 740.98 L352.57 740.98 L352.70 740.98 L352.84 740.98 L352.97 740.98 L353.10 740.98 L353.23 740.97 L353.37 740.97 L353.50 740.97 L353.63 740.96 L353.77 740.96 L353.90 740.96 L354.03 740.95 L354.17 740.95 L354.30 740.94 L354.43 740.93 L354.56 740.93 L354.70 740.92 L354.83 740.91 L354.96 740.91 L355.10 740.90 L355.23 740.89 L355.36 740.88 L355.50 740.87 L355.63 740.86 L355.76 740.84 L355.89 740.83 L356.03 740.82 L356.16 740.80 L356.29 740.79 L356.43 740.77 L356.56 740.75 L356.69 740.73 L356.83 740.71 L356.96 740.69 L357.09 740.67 L357.22 740.65 L357.36 740.62 L357.49 740.59 L357.62 740.57 L357.76 740.54 L357.89 740.51 L358.02 740.47 L358.16 740.44 L358.29 740.41 L358.42 740.37 L358.55 740.33 L358.69 740.29 L358.82 740.25 L358.95 740.21 L359.09 740.17 L359.22 740.12 L359.35 740.07 L359.49 740.03 L359.62 739.98 L359.75 739.93 L359.88 739.87 L360.02 739.82 L360.15 739.77 L360.28 739.71 L360.42 739.66 L360.55 739.60 L360.68 739.54 L360.82 739.48 L360.95 739.42 L361.08 739.36 L361.21 739.30 L361.35 739.24 L361.48 739.18 L361.61 739.12 L361.75 739.06 L361.88 739.00 L362.01 738.94 L362.15 738.88 L362.28 738.82 L362.41 738.76 L362.54 738.71 L362.68 738.65 L362.81 738.60 L362.94 738.55 L363.08 738.49 L363.21 738.44 L363.34 738.40 L363.48 738.35 L363.61 738.31 L363.74 738.27 L363.87 738.23 L364.01 738.20 L364.14 738.16 L364.27 738.13 L364.41 738.10 L364.54 738.08 L364.67 738.06 L364.81 738.04 L364.94 738.02 L365.07 738.01 L365.20 738.00 L365.34 737.98 L365.47 737.97 L365.60 737.95 L365.74 737.92 L365.87 737.87 L366.00 737.81 L366.14 737.71 L366.27 737.58 L366.40 737.40 L366.53 737.17 L366.67 736.88 L366.80 736.54 L366.93 736.14 L367.07 735.70 L367.20 735.23 L367.33 734.77 L367.47 734.33 L367.60 733.96 L367.73 733.67 L367.86 733.49 L368.00 733.43 L368.13 733.49 L368.26 733.66 L368.40 733.91 L368.53 734.22 L368.66 734.54 L368.80 734.85 L368.93 735.11 L369.06 735.30 L369.19 735.41 L369.33 735.45 L369.46 735.42 L369.59 735.36 L369.73 735.29 L369.86 735.25 L369.99 735.26 L370.13 735.34 L370.26 735.50 L370.39 735.76 L370.52 736.09 L370.66 736.49 L370.79 736.93 L370.92 737.39 L371.06 737.85 L371.19 738.28 L371.32 738.68 L371.46 739.03 L371.59 739.33 L371.72 739.58 L371.85 739.78 L371.99 739.95 L372.12 740.08 L372.25 740.18 L372.39 740.26 L372.52 740.32 L372.65 740.38 L372.79 740.42 L372.92 740.46 L373.05 740.50 L373.18 740.53 L373.32 740.56 L373.45 740.58 L373.58 740.61 L373.72 740.63 L373.85 740.64 L373.98 740.66 L374.12 740.67 L374.25 740.67 L374.38 740.67 L374.51 740.67 L374.65 740.65 L374.78 740.63 L374.91 740.60 L375.05 740.56 L375.18 740.50 L375.31 740.43 L375.45 740.34 L375.58 740.23 L375.71 740.10 L375.84 739.94 L375.98 739.76 L376.11 739.54 L376.24 739.30 L376.38 739.02 L376.51 738.70 L376.64 738.35 L376.78 737.95 L376.91 737.52 L377.04 737.06 L377.17 736.56 L377.31 736.03 L377.44 735.47 L377.57 734.89 L377.71 734.30 L377.84 733.70 L377.97 733.09 L378.11 732.50 L378.24 731.92 L378.37 731.38 L378.50 730.86 L378.64 730.40 L378.77 729.99 L378.90 729.64 L379.04 729.36 L379.17 729.16 L379.30 729.03 L379.44 728.99 L379.57 729.04 L379.70 729.16 L379.83 729.36 L379.97 729.64 L380.10 729.99 L380.23 730.41 L380.37 730.87 L380.50 731.39 L380.63 731.94 L380.77 732.52 L380.90 733.11 L381.03 733.72 L381.16 734.33 L381.30 734.92 L381.43 735.50 L381.56 736.06 L381.70 736.59 L381.83 737.07 L381.96 737.51 L382.10 737.88 L382.23 738.15 L382.36 738.30 L382.49 738.27 L382.63 738.00 L382.76 737.42 L382.89 736.50 L383.03 735.18 L383.16 733.51 L383.29 731.56 L383.43 729.49 L383.56 727.52 L383.69 725.89 L383.82 724.82 L383.96 724.48 L384.09 724.93 L384.22 726.10 L384.36 727.84 L384.49 729.94 L384.62 732.15 L384.76 734.25 L384.89 736.10 L385.02 737.62 L385.15 738.77 L385.29 739.61 L385.42 740.17 L385.55 740.53 L385.69 740.74 L385.82 740.87 L385.95 740.93 L386.09 740.97 L386.22 740.99 L386.35 740.99 L386.48 741.00 L386.62 741.00 L386.75 741.00 L386.88 741.00 L387.02 741.00 L387.15 741.00 L387.28 741.00 L387.42 741.00 L387.55 741.00 L387.68 741.00 L387.81 741.00 L387.95 741.00 L388.08 741.00 L388.21 741.00 L388.35 741.00 L388.48 741.00 L388.61 741.00 L388.75 741.00 L388.88 741.00 L389.01 741.00 L389.14 741.00 L389.28 741.00 L389.41 741.00 L389.54 741.00 L389.68 741.00 L389.81 741.00 L389.94 741.00 L390.08 741.00 L390.21 741.00 L390.34 741.00 L390.47 741.00 L390.61 741.00 L390.74 741.00 L390.87 741.00 L391.01 740.99 L391.14 740.98 L391.27 740.94 L391.41 740.87 L391.54 740.71 L391.67 740.40 L391.80 739.84 L391.94 738.91 L392.07 737.44 L392.20 735.31 L392.34 732.46 L392.47 728.96 L392.60 725.05 L392.74 721.15 L392.87 717.79 L393.00 715.51 L393.13 714.70 L393.27 715.51 L393.40 717.79 L393.53 721.15 L393.67 725.05 L393.80 728.96 L393.93 732.46 L394.07 735.31 L394.20 737.44 L394.33 738.91 L394.46 739.84 L394.60 740.40 L394.73 740.71 L394.86 740.87 L395.00 740.94 L395.13 740.98 L395.26 740.99 L395.40 741.00 L395.53 741.00 L395.66 741.00 L395.79 741.00 L395.93 741.00 L396.06 741.00 L396.19 741.00 L396.33 741.00 L396.46 741.00 L396.59 741.00 L396.73 741.00 L396.86 741.00 L396.99 741.00 L397.12 741.00 L397.26 741.00 L397.39 741.00 L397.52 741.00 L397.66 741.00 L397.79 741.00 L397.92 741.00 L398.06 741.00 L398.19 741.00 L398.32 741.00 L398.45 741.00 L398.59 741.00 L398.72 741.00 L398.85 741.00 L398.99 741.00 L399.12 741.00 L399.25 741.00 L399.39 741.00 L399.52 741.00 L399.65 741.00 L399.78 741.00 L399.92 741.00 L400.05 741.00 L400.18 741.00 L400.32 741.00 L400.45 741.00 L400.58 741.00 L400.72 741.00 L400.85 741.00 L400.98 741.00 L401.11 741.00 L401.25 741.00 L401.38 741.00 L401.51 741.00 L401.65 741.00 L401.78 741.00 L401.91 741.00 L402.05 741.00 L402.18 741.00 L402.31 741.00 L402.44 741.00 L402.58 741.00 L402.71 741.00 L402.84 741.00 L402.98 741.00 L403.11 741.00 L403.24 741.00 L403.38 741.00 L403.51 741.00 L403.64 741.00 L403.77 741.00 L403.91 741.00 L404.04 741.00 L404.17 741.00 L404.31 741.00 L404.44 741.00 L404.57 741.00 L404.71 741.00 L404.84 741.00 L404.97 741.00 L405.10 741.00 L405.24 741.00 L405.37 741.00 L405.50 741.00 L405.64 741.00 L405.77 741.00 L405.90 741.00 L406.04 741.00 L406.17 741.00 L406.30 741.00 L406.43 741.00 L406.57 741.00 L406.70 741.00 L406.83 741.00 L406.97 741.00 L407.10 741.00 L407.23 741.00 L407.37 741.00 L407.50 741.00 L407.63 741.00 L407.76 741.0 L47.60 741.0 Z" fill="#f5c000" stroke="none"/>
<path d="M47.60 741.00 L47.73 741.00 L47.87 741.00 L48.00 741.00 L48.13 741.00 L48.27 741.00 L48.40 741.00 L48.53 741.00 L48.66 741.00 L48.80 741.00 L48.93 741.00 L49.06 741.00 L49.20 741.00 L49.33 741.00 L49.46 741.00 L49.59 741.00 L49.73 741.00 L49.86 741.00 L49.99 741.00 L50.13 741.00 L50.26 741.00 L50.39 741.00 L50.53 741.00 L50.66 741.00 L50.79 741.00 L50.93 741.00 L51.06 741.00 L51.19 741.00 L51.32 741.00 L51.46 741.00 L51.59 741.00 L51.72 741.00 L51.86 741.00 L51.99 741.00 L52.12 741.00 L52.26 741.00 L52.39 741.00 L52.52 741.00 L52.65 741.00 L52.79 741.00 L52.92 741.00 L53.05 741.00 L53.19 741.00 L53.32 741.00 L53.45 741.00 L53.59 741.00 L53.72 741.00 L53.85 741.00 L53.98 741.00 L54.12 741.00 L54.25 741.00 L54.38 741.00 L54.52 741.00 L54.65 741.00 L54.78 741.00 L54.92 741.00 L55.05 741.00 L55.18 741.00 L55.31 741.00 L55.45 741.00 L55.58 741.00 L55.71 741.00 L55.85 741.00 L55.98 741.00 L56.11 741.00 L56.25 741.00 L56.38 741.00 L56.51 741.00 L56.64 741.00 L56.78 741.00 L56.91 741.00 L57.04 741.00 L57.18 741.00 L57.31 741.00 L57.44 741.00 L57.58 741.00 L57.71 741.00 L57.84 741.00 L57.97 741.00 L58.11 741.00 L58.24 741.00 L58.37 741.00 L58.51 741.00 L58.64 741.00 L58.77 741.00 L58.91 741.00 L59.04 741.00 L59.17 741.00 L59.30 741.00 L59.44 741.00 L59.57 741.00 L59.70 741.00 L59.84 741.00 L59.97 741.00 L60.10 741.00 L60.24 741.00 L60.37 741.00 L60.50 741.00 L60.63 741.00 L60.77 741.00 L60.90 741.00 L61.03 741.00 L61.17 741.00 L61.30 741.00 L61.43 741.00 L61.57 741.00 L61.70 741.00 L61.83 741.00 L61.96 741.00 L62.10 741.00 L62.23 741.00 L62.36 741.00 L62.50 741.00 L62.63 741.00 L62.76 741.00 L62.90 741.00 L63.03 741.00 L63.16 741.00 L63.29 741.00 L63.43 741.00 L63.56 741.00 L63.69 741.00 L63.83 741.00 L63.96 741.00 L64.09 741.00 L64.23 741.00 L64.36 741.00 L64.49 741.00 L64.62 741.00 L64.76 741.00 L64.89 740.99 L65.02 740.99 L65.16 740.98 L65.29 740.97 L65.42 740.95 L65.56 740.92 L65.69 740.88 L65.82 740.83 L65.95 740.77 L66.09 740.71 L66.22 740.64 L66.35 740.56 L66.49 740.50 L66.62 740.45 L66.75 740.41 L66.89 740.40 L67.02 740.41 L67.15 740.45 L67.28 740.50 L67.42 740.56 L67.55 740.64 L67.68 740.71 L67.82 740.77 L67.95 740.83 L68.08 740.88 L68.22 740.92 L68.35 740.95 L68.48 740.97 L68.61 740.98 L68.75 740.99 L68.88 740.99 L69.01 741.00 L69.15 741.00 L69.28 741.00 L69.41 741.00 L69.55 741.00 L69.68 741.00 L69.81 741.00 L69.94 741.00 L70.08 741.00 L70.21 741.00 L70.34 741.00 L70.48 741.00 L70.61 741.00 L70.74 741.00 L70.88 741.00 L71.01 741.00 L71.14 741.00 L71.27 741.00 L71.41 741.00 L71.54 741.00 L71.67 741.00 L71.81 741.00 L71.94 741.00 L72.07 741.00 L72.21 741.00 L72.34 741.00 L72.47 741.00 L72.60 741.00 L72.74 741.00 L72.87 741.00 L73.00 741.00 L73.14 741.00 L73.27 741.00 L73.40 741.00 L73.54 741.00 L73.67 741.00 L73.80 741.00 L73.93 741.00 L74.07 741.00 L74.20 741.00 L74.33 740.99 L74.47 740.99 L74.60 740.99 L74.73 740.99 L74.87 740.98 L75.00 740.98 L75.13 740.97 L75.26 740.96 L75.40 740.96 L75.53 740.95 L75.66 740.93 L75.80 740.92 L75.93 740.91 L76.06 740.89 L76.19 740.87 L76.33 740.85 L76.46 740.83 L76.59 740.81 L76.73 740.78 L76.86 740.76 L76.99 740.73 L77.13 740.71 L77.26 740.69 L77.39 740.67 L77.52 740.65 L77.66 740.63 L77.79 740.62 L77.92 740.61 L78.06 740.60 L78.19 740.60 L78.32 740.60 L78.46 740.61 L78.59 740.62 L78.72 740.63 L78.85 740.64 L78.99 740.66 L79.12 740.68 L79.25 740.70 L79.39 740.72 L79.52 740.74 L79.65 740.75 L79.79 740.77 L79.92 740.78 L80.05 740.78 L80.18 740.78 L80.32 740.78 L80.45 740.77 L80.58 740.76 L80.72 740.74 L80.85 740.72 L80.98 740.69 L81.12 740.66 L81.25 740.63 L81.38 740.60 L81.51 740.57 L81.65 740.55 L81.78 740.52 L81.91 740.51 L82.05 740.50 L82.18 740.50 L82.31 740.50 L82.45 740.51 L82.58 740.53 L82.71 740.56 L82.84 740.59 L82.98 740.62 L83.11 740.66 L83.24 740.70 L83.38 740.73 L83.51 740.77 L83.64 740.81 L83.78 740.84 L83.91 740.87 L84.04 740.89 L84.17 740.91 L84.31 740.93 L84.44 740.95 L84.57 740.96 L84.71 740.97 L84.84 740.97 L84.97 740.97 L85.11 740.97 L85.24 740.96 L85.37 740.94 L85.50 740.91 L85.64 740.87 L85.77 740.81 L85.90 740.73 L86.04 740.63 L86.17 740.50 L86.30 740.35 L86.44 740.18 L86.57 739.99 L86.70 739.79 L86.83 739.59 L86.97 739.40 L87.10 739.23 L87.23 739.11 L87.37 739.03 L87.50 739.00 L87.63 739.03 L87.77 739.11 L87.90 739.24 L88.03 739.40 L88.16 739.59 L88.30 739.79 L88.43 739.99 L88.56 740.18 L88.70 740.35 L88.83 740.50 L88.96 740.63 L89.10 740.73 L89.23 740.81 L89.36 740.87 L89.49 740.91 L89.63 740.94 L89.76 740.96 L89.89 740.98 L90.03 740.99 L90.16 740.99 L90.29 741.00 L90.43 741.00 L90.56 741.00 L90.69 741.00 L90.82 741.00 L90.96 741.00 L91.09 741.00 L91.22 741.00 L91.36 741.00 L91.49 741.00 L91.62 741.00 L91.76 741.00 L91.89 741.00 L92.02 741.00 L92.15 741.00 L92.29 741.00 L92.42 741.00 L92.55 741.00 L92.69 741.00 L92.82 741.00 L92.95 741.00 L93.09 741.00 L93.22 741.00 L93.35 741.00 L93.48 741.00 L93.62 741.00 L93.75 741.00 L93.88 741.00 L94.02 741.00 L94.15 741.00 L94.28 741.00 L94.42 741.00 L94.55 741.00 L94.68 741.00 L94.81 741.00 L94.95 741.00 L95.08 741.00 L95.21 741.00 L95.35 741.00 L95.48 741.00 L95.61 741.00 L95.75 741.00 L95.88 741.00 L96.01 741.00 L96.14 741.00 L96.28 741.00 L96.41 741.00 L96.54 741.00 L96.68 741.00 L96.81 741.00 L96.94 741.00 L97.08 741.00 L97.21 741.00 L97.34 741.00 L97.47 741.00 L97.61 741.00 L97.74 741.00 L97.87 741.00 L98.01 741.00 L98.14 741.00 L98.27 741.00 L98.41 741.00 L98.54 741.00 L98.67 741.00 L98.80 741.00 L98.94 741.00 L99.07 741.00 L99.20 741.00 L99.34 741.00 L99.47 741.00 L99.60 741.00 L99.74 741.00 L99.87 741.00 L100.00 741.00 L100.13 741.00 L100.27 741.00 L100.40 741.00 L100.53 741.00 L100.67 741.00 L100.80 741.00 L100.93 741.00 L101.07 741.00 L101.20 741.00 L101.33 741.00 L101.46 741.00 L101.60 741.00 L101.73 741.00 L101.86 741.00 L102.00 741.00 L102.13 741.00 L102.26 741.00 L102.40 741.00 L102.53 741.00 L102.66 741.00 L102.79 741.00 L102.93 741.00 L103.06 741.00 L103.19 741.00 L103.33 741.00 L103.46 741.00 L103.59 741.00 L103.73 741.00 L103.86 741.00 L103.99 741.00 L104.12 741.00 L104.26 741.00 L104.39 741.00 L104.52 741.00 L104.66 741.00 L104.79 741.00 L104.92 741.00 L105.06 741.00 L105.19 741.00 L105.32 741.00 L105.45 741.00 L105.59 741.00 L105.72 741.00 L105.85 741.00 L105.99 741.00 L106.12 741.00 L106.25 741.00 L106.39 741.00 L106.52 741.00 L106.65 741.00 L106.78 741.00 L106.92 741.00 L107.05 741.00 L107.18 741.00 L107.32 741.00 L107.45 741.00 L107.58 741.00 L107.72 741.00 L107.85 741.00 L107.98 741.00 L108.11 741.00 L108.25 741.00 L108.38 741.00 L108.51 741.00 L108.65 741.00 L108.78 741.00 L108.91 741.00 L109.05 741.00 L109.18 741.00 L109.31 741.00 L109.44 741.00 L109.58 741.00 L109.71 741.00 L109.84 741.00 L109.98 741.00 L110.11 741.00 L110.24 741.00 L110.38 741.00 L110.51 741.00 L110.64 741.00 L110.77 741.00 L110.91 741.00 L111.04 741.00 L111.17 741.00 L111.31 741.00 L111.44 741.00 L111.57 741.00 L111.71 741.00 L111.84 741.00 L111.97 741.00 L112.10 741.00 L112.24 741.00 L112.37 741.00 L112.50 741.00 L112.64 741.00 L112.77 741.00 L112.90 741.00 L113.04 741.00 L113.17 741.00 L113.30 741.00 L113.43 741.00 L113.57 741.00 L113.70 741.00 L113.83 741.00 L113.97 741.00 L114.10 741.00 L114.23 741.00 L114.37 741.00 L114.50 741.00 L114.63 741.00 L114.76 741.00 L114.90 741.00 L115.03 741.00 L115.16 741.00 L115.30 741.00 L115.43 741.00 L115.56 741.00 L115.70 741.00 L115.83 741.00 L115.96 741.00 L116.09 741.00 L116.23 741.00 L116.36 741.00 L116.49 741.00 L116.63 741.00 L116.76 741.00 L116.89 741.00 L117.03 741.00 L117.16 741.00 L117.29 741.00 L117.42 741.00 L117.56 741.00 L117.69 741.00 L117.82 741.00 L117.96 741.00 L118.09 741.00 L118.22 741.00 L118.36 741.00 L118.49 741.00 L118.62 741.00 L118.75 741.00 L118.89 741.00 L119.02 741.00 L119.15 741.00 L119.29 741.00 L119.42 741.00 L119.55 741.00 L119.69 741.00 L119.82 741.00 L119.95 741.00 L120.08 741.00 L120.22 741.00 L120.35 741.00 L120.48 741.00 L120.62 741.00 L120.75 741.00 L120.88 741.00 L121.02 741.00 L121.15 741.00 L121.28 740.99 L121.41 740.99 L121.55 740.97 L121.68 740.95 L121.81 740.90 L121.95 740.83 L122.08 740.70 L122.21 740.51 L122.35 740.22 L122.48 739.81 L122.61 739.26 L122.74 738.55 L122.88 737.70 L123.01 736.72 L123.14 735.66 L123.28 734.61 L123.41 733.65 L123.54 732.88 L123.68 732.37 L123.81 732.20 L123.94 732.37 L124.07 732.88 L124.21 733.65 L124.34 734.61 L124.47 735.66 L124.61 736.71 L124.74 737.67 L124.87 738.51 L125.01 739.18 L125.14 739.66 L125.27 739.97 L125.40 740.10 L125.54 740.05 L125.67 739.84 L125.80 739.46 L125.94 738.92 L126.07 738.23 L126.20 737.43 L126.34 736.57 L126.47 735.70 L126.60 734.90 L126.73 734.26 L126.87 733.84 L127.00 733.70 L127.13 733.84 L127.27 734.26 L127.40 734.90 L127.53 735.70 L127.67 736.57 L127.80 737.45 L127.93 738.26 L128.06 738.97 L128.20 739.56 L128.33 740.01 L128.46 740.35 L128.60 740.59 L128.73 740.75 L128.86 740.86 L129.00 740.92 L129.13 740.96 L129.26 740.98 L129.39 740.99 L129.53 740.99 L129.66 741.00 L129.79 741.00 L129.93 741.00 L130.06 741.00 L130.19 741.00 L130.33 741.00 L130.46 741.00 L130.59 741.00 L130.72 741.00 L130.86 741.00 L130.99 741.00 L131.12 741.00 L131.26 741.00 L131.39 741.00 L131.52 741.00 L131.66 741.00 L131.79 741.00 L131.92 741.00 L132.05 741.00 L132.19 741.00 L132.32 741.00 L132.45 741.00 L132.59 741.00 L132.72 741.00 L132.85 741.00 L132.99 741.00 L133.12 741.00 L133.25 741.00 L133.38 741.00 L133.52 741.00 L133.65 741.00 L133.78 741.00 L133.92 741.00 L134.05 741.00 L134.18 741.00 L134.32 741.00 L134.45 741.00 L134.58 741.00 L134.71 741.00 L134.85 741.00 L134.98 741.00 L135.11 741.00 L135.25 741.00 L135.38 741.00 L135.51 741.00 L135.65 741.00 L135.78 741.00 L135.91 741.00 L136.04 741.00 L136.18 741.00 L136.31 741.00 L136.44 741.00 L136.58 741.00 L136.71 741.00 L136.84 741.00 L136.98 741.00 L137.11 741.00 L137.24 741.00 L137.37 741.00 L137.51 741.00 L137.64 741.00 L137.77 741.00 L137.91 741.00 L138.04 741.00 L138.17 741.00 L138.31 741.00 L138.44 741.00 L138.57 741.00 L138.70 741.00 L138.84 741.00 L138.97 741.00 L139.10 741.00 L139.24 741.00 L139.37 741.00 L139.50 741.00 L139.64 741.00 L139.77 741.00 L139.90 741.00 L140.03 741.00 L140.17 741.00 L140.30 741.00 L140.43 741.00 L140.57 741.00 L140.70 741.00 L140.83 741.00 L140.97 741.00 L141.10 741.00 L141.23 741.00 L141.36 741.00 L141.50 741.00 L141.63 741.00 L141.76 741.00 L141.90 741.00 L142.03 741.00 L142.16 741.00 L142.30 741.00 L142.43 741.00 L142.56 741.00 L142.69 741.00 L142.83 741.00 L142.96 741.00 L143.09 741.00 L143.23 741.00 L143.36 741.00 L143.49 741.00 L143.63 741.00 L143.76 741.00 L143.89 741.00 L144.02 741.00 L144.16 741.00 L144.29 741.00 L144.42 741.00 L144.56 741.00 L144.69 741.00 L144.82 741.00 L144.96 741.00 L145.09 741.00 L145.22 741.00 L145.35 741.00 L145.49 741.00 L145.62 741.00 L145.75 741.00 L145.89 741.00 L146.02 741.00 L146.15 741.00 L146.29 741.00 L146.42 741.00 L146.55 741.00 L146.68 741.00 L146.82 741.00 L146.95 741.00 L147.08 741.00 L147.22 741.00 L147.35 741.00 L147.48 741.00 L147.62 741.00 L147.75 741.00 L147.88 741.00 L148.01 741.00 L148.15 741.00 L148.28 741.00 L148.41 741.00 L148.55 741.00 L148.68 740.99 L148.81 740.99 L148.95 740.99 L149.08 740.99 L149.21 740.98 L149.34 740.98 L149.48 740.97 L149.61 740.96 L149.74 740.96 L149.88 740.94 L150.01 740.93 L150.14 740.92 L150.28 740.90 L150.41 740.88 L150.54 740.86 L150.67 740.84 L150.81 740.81 L150.94 740.79 L151.07 740.76 L151.21 740.73 L151.34 740.70 L151.47 740.67 L151.61 740.64 L151.74 740.61 L151.87 740.58 L152.00 740.56 L152.14 740.54 L152.27 740.52 L152.40 740.51 L152.54 740.50 L152.67 740.50 L152.80 740.50 L152.94 740.51 L153.07 740.52 L153.20 740.54 L153.33 740.56 L153.47 740.58 L153.60 740.61 L153.73 740.64 L153.87 740.67 L154.00 740.70 L154.13 740.73 L154.27 740.76 L154.40 740.79 L154.53 740.81 L154.66 740.84 L154.80 740.86 L154.93 740.88 L155.06 740.90 L155.20 740.92 L155.33 740.93 L155.46 740.94 L155.60 740.96 L155.73 740.96 L155.86 740.97 L155.99 740.98 L156.13 740.98 L156.26 740.99 L156.39 740.99 L156.53 740.99 L156.66 740.99 L156.79 741.00 L156.93 741.00 L157.06 741.00 L157.19 741.00 L157.32 741.00 L157.46 741.00 L157.59 741.00 L157.72 741.00 L157.86 741.00 L157.99 741.00 L158.12 741.00 L158.26 741.00 L158.39 741.00 L158.52 741.00 L158.65 741.00 L158.79 741.00 L158.92 741.00 L159.05 741.00 L159.19 741.00 L159.32 741.00 L159.45 741.00 L159.59 741.00 L159.72 741.00 L159.85 741.00 L159.98 741.00 L160.12 741.00 L160.25 741.00 L160.38 741.00 L160.52 741.00 L160.65 741.00 L160.78 740.99 L160.92 740.98 L161.05 740.97 L161.18 740.94 L161.31 740.90 L161.45 740.83 L161.58 740.73 L161.71 740.57 L161.85 740.35 L161.98 740.05 L162.11 739.66 L162.25 739.16 L162.38 738.57 L162.51 737.89 L162.64 737.14 L162.78 736.37 L162.91 735.63 L163.04 734.97 L163.18 734.45 L163.31 734.11 L163.44 734.00 L163.58 734.11 L163.71 734.45 L163.84 734.97 L163.97 735.63 L164.11 736.37 L164.24 737.14 L164.37 737.89 L164.51 738.57 L164.64 739.16 L164.77 739.66 L164.91 740.05 L165.04 740.35 L165.17 740.57 L165.30 740.73 L165.44 740.83 L165.57 740.90 L165.70 740.94 L165.84 740.97 L165.97 740.98 L166.10 740.99 L166.24 741.00 L166.37 741.00 L166.50 741.00 L166.63 741.00 L166.77 741.00 L166.90 741.00 L167.03 741.00 L167.17 741.00 L167.30 741.00 L167.43 741.00 L167.57 741.00 L167.70 740.99 L167.83 740.98 L167.96 740.97 L168.10 740.95 L168.23 740.90 L168.36 740.83 L168.50 740.72 L168.63 740.55 L168.76 740.30 L168.90 739.95 L169.03 739.46 L169.16 738.82 L169.29 738.01 L169.43 737.04 L169.56 735.93 L169.69 734.71 L169.83 733.46 L169.96 732.25 L170.09 731.18 L170.23 730.33 L170.36 729.79 L170.49 729.60 L170.62 729.79 L170.76 730.33 L170.89 731.18 L171.02 732.25 L171.16 733.46 L171.29 734.71 L171.42 735.93 L171.56 737.04 L171.69 738.01 L171.82 738.82 L171.95 739.46 L172.09 739.95 L172.22 740.30 L172.35 740.55 L172.49 740.72 L172.62 740.83 L172.75 740.90 L172.89 740.95 L173.02 740.97 L173.15 740.98 L173.28 740.99 L173.42 741.00 L173.55 741.00 L173.68 741.00 L173.82 741.00 L173.95 741.00 L174.08 741.00 L174.22 741.00 L174.35 741.00 L174.48 741.00 L174.61 741.00 L174.75 741.00 L174.88 741.00 L175.01 741.00 L175.15 741.00 L175.28 741.00 L175.41 741.00 L175.55 741.00 L175.68 741.00 L175.81 741.00 L175.94 741.00 L176.08 741.00 L176.21 741.00 L176.34 741.00 L176.48 741.00 L176.61 741.00 L176.74 741.00 L176.88 741.00 L177.01 741.00 L177.14 741.00 L177.27 741.00 L177.41 741.00 L177.54 741.00 L177.67 741.00 L177.81 741.00 L177.94 741.00 L178.07 741.00 L178.21 741.00 L178.34 740.99 L178.47 740.99 L178.60 740.97 L178.74 740.94 L178.87 740.87 L179.00 740.75 L179.14 740.53 L179.27 740.17 L179.40 739.57 L179.54 738.64 L179.67 737.27 L179.80 735.32 L179.93 732.69 L180.07 729.32 L180.20 725.24 L180.33 720.56 L180.47 715.53 L180.60 710.50 L180.73 705.92 L180.87 702.23 L181.00 699.83 L181.13 699.00 L181.26 699.83 L181.40 702.23 L181.53 705.92 L181.66 710.50 L181.80 715.53 L181.93 720.56 L182.06 725.24 L182.20 729.32 L182.33 732.69 L182.46 735.32 L182.59 737.27 L182.73 738.64 L182.86 739.57 L182.99 740.17 L183.13 740.53 L183.26 740.75 L183.39 740.87 L183.53 740.94 L183.66 740.97 L183.79 740.98 L183.92 740.99 L184.06 740.99 L184.19 740.99 L184.32 740.98 L184.46 740.97 L184.59 740.96 L184.72 740.93 L184.86 740.89 L184.99 740.84 L185.12 740.78 L185.25 740.70 L185.39 740.61 L185.52 740.51 L185.65 740.42 L185.79 740.33 L185.92 740.26 L186.05 740.22 L186.19 740.20 L186.32 740.22 L186.45 740.26 L186.58 740.33 L186.72 740.42 L186.85 740.51 L186.98 740.61 L187.12 740.70 L187.25 740.78 L187.38 740.84 L187.52 740.89 L187.65 740.93 L187.78 740.96 L187.91 740.97 L188.05 740.98 L188.18 740.99 L188.31 741.00 L188.45 741.00 L188.58 741.00 L188.71 741.00 L188.85 741.00 L188.98 741.00 L189.11 741.00 L189.24 741.00 L189.38 741.00 L189.51 741.00 L189.64 741.00 L189.78 741.00 L189.91 741.00 L190.04 741.00 L190.18 741.00 L190.31 741.00 L190.44 740.99 L190.57 740.99 L190.71 740.98 L190.84 740.96 L190.97 740.92 L191.11 740.87 L191.24 740.78 L191.37 740.64 L191.51 740.44 L191.64 740.15 L191.77 739.75 L191.90 739.24 L192.04 738.59 L192.17 737.81 L192.30 736.91 L192.44 735.93 L192.57 734.91 L192.70 733.94 L192.84 733.07 L192.97 732.39 L193.10 731.95 L193.23 731.80 L193.37 731.95 L193.50 732.39 L193.63 733.07 L193.77 733.94 L193.90 734.91 L194.03 735.92 L194.17 736.89 L194.30 737.78 L194.43 738.53 L194.56 739.14 L194.70 739.59 L194.83 739.87 L194.96 739.99 L195.10 739.94 L195.23 739.72 L195.36 739.32 L195.50 738.74 L195.63 737.97 L195.76 737.02 L195.89 735.92 L196.03 734.71 L196.16 733.46 L196.29 732.25 L196.43 731.18 L196.56 730.33 L196.69 729.79 L196.83 729.60 L196.96 729.79 L197.09 730.33 L197.22 731.18 L197.36 732.25 L197.49 733.46 L197.62 734.71 L197.76 735.93 L197.89 737.04 L198.02 738.01 L198.16 738.82 L198.29 739.46 L198.42 739.95 L198.55 740.30 L198.69 740.55 L198.82 740.72 L198.95 740.83 L199.09 740.90 L199.22 740.95 L199.35 740.97 L199.49 740.98 L199.62 740.99 L199.75 741.00 L199.88 741.00 L200.02 741.00 L200.15 741.00 L200.28 741.00 L200.42 741.00 L200.55 741.00 L200.68 741.00 L200.82 741.00 L200.95 741.00 L201.08 741.00 L201.21 741.00 L201.35 741.00 L201.48 741.00 L201.61 741.00 L201.75 741.00 L201.88 741.00 L202.01 741.00 L202.15 741.00 L202.28 741.00 L202.41 741.00 L202.54 741.00 L202.68 741.00 L202.81 741.00 L202.94 741.00 L203.08 741.00 L203.21 741.00 L203.34 741.00 L203.48 741.00 L203.61 741.00 L203.74 741.00 L203.87 741.00 L204.01 741.00 L204.14 741.00 L204.27 741.00 L204.41 741.00 L204.54 741.00 L204.67 741.00 L204.81 741.00 L204.94 741.00 L205.07 741.00 L205.20 741.00 L205.34 741.00 L205.47 741.00 L205.60 741.00 L205.74 741.00 L205.87 741.00 L206.00 741.00 L206.14 741.00 L206.27 741.00 L206.40 740.99 L206.53 740.99 L206.67 740.97 L206.80 740.95 L206.93 740.92 L207.07 740.85 L207.20 740.76 L207.33 740.61 L207.47 740.39 L207.60 740.07 L207.73 739.65 L207.86 739.09 L208.00 738.38 L208.13 737.53 L208.26 736.55 L208.40 735.48 L208.53 734.38 L208.66 733.32 L208.80 732.38 L208.93 731.64 L209.06 731.16 L209.19 731.00 L209.33 731.16 L209.46 731.64 L209.59 732.38 L209.73 733.32 L209.86 734.38 L209.99 735.48 L210.13 736.55 L210.26 737.53 L210.39 738.38 L210.52 739.09 L210.66 739.65 L210.79 740.07 L210.92 740.39 L211.06 740.61 L211.19 740.76 L211.32 740.85 L211.46 740.92 L211.59 740.95 L211.72 740.97 L211.85 740.99 L211.99 740.99 L212.12 741.00 L212.25 741.00 L212.39 741.00 L212.52 741.00 L212.65 741.00 L212.79 741.00 L212.92 741.00 L213.05 741.00 L213.18 741.00 L213.32 741.00 L213.45 741.00 L213.58 741.00 L213.72 741.00 L213.85 741.00 L213.98 741.00 L214.12 741.00 L214.25 741.00 L214.38 741.00 L214.51 741.00 L214.65 741.00 L214.78 741.00 L214.91 741.00 L215.05 741.00 L215.18 741.00 L215.31 741.00 L215.45 741.00 L215.58 741.00 L215.71 741.00 L215.84 741.00 L215.98 741.00 L216.11 741.00 L216.24 741.00 L216.38 741.00 L216.51 741.00 L216.64 741.00 L216.78 741.00 L216.91 741.00 L217.04 741.00 L217.17 740.99 L217.31 740.98 L217.44 740.96 L217.57 740.91 L217.71 740.83 L217.84 740.69 L217.97 740.44 L218.11 740.04 L218.24 739.42 L218.37 738.49 L218.50 737.18 L218.64 735.42 L218.77 733.16 L218.90 730.42 L219.04 727.27 L219.17 723.90 L219.30 720.52 L219.44 717.45 L219.57 714.97 L219.70 713.36 L219.83 712.80 L219.97 713.36 L220.10 714.97 L220.23 717.45 L220.37 720.52 L220.50 723.90 L220.63 727.27 L220.77 730.42 L220.90 733.16 L221.03 735.42 L221.16 737.18 L221.30 738.49 L221.43 739.41 L221.56 740.03 L221.70 740.42 L221.83 740.65 L221.96 740.77 L222.10 740.82 L222.23 740.81 L222.36 740.76 L222.49 740.67 L222.63 740.54 L222.76 740.36 L222.89 740.15 L223.03 739.90 L223.16 739.60 L223.29 739.28 L223.43 738.94 L223.56 738.60 L223.69 738.28 L223.82 738.00 L223.96 737.78 L224.09 737.65 L224.22 737.60 L224.36 737.65 L224.49 737.78 L224.62 738.00 L224.76 738.28 L224.89 738.60 L225.02 738.94 L225.15 739.28 L225.29 739.60 L225.42 739.90 L225.55 740.15 L225.69 740.37 L225.82 740.54 L225.95 740.67 L226.09 740.78 L226.22 740.85 L226.35 740.90 L226.48 740.94 L226.62 740.96 L226.75 740.98 L226.88 740.99 L227.02 740.99 L227.15 741.00 L227.28 741.00 L227.42 741.00 L227.55 741.00 L227.68 741.00 L227.81 741.00 L227.95 741.00 L228.08 741.00 L228.21 741.00 L228.35 741.00 L228.48 741.00 L228.61 741.00 L228.75 741.00 L228.88 741.00 L229.01 741.00 L229.14 741.00 L229.28 741.00 L229.41 741.00 L229.54 741.00 L229.68 741.00 L229.81 741.00 L229.94 741.00 L230.08 741.00 L230.21 741.00 L230.34 741.00 L230.47 741.00 L230.61 741.00 L230.74 741.00 L230.87 741.00 L231.01 741.00 L231.14 741.00 L231.27 741.00 L231.41 741.00 L231.54 741.00 L231.67 741.00 L231.80 741.00 L231.94 741.00 L232.07 741.00 L232.20 741.00 L232.34 741.00 L232.47 741.00 L232.60 741.00 L232.74 741.00 L232.87 741.00 L233.00 741.00 L233.13 741.00 L233.27 741.00 L233.40 741.00 L233.53 741.00 L233.67 741.00 L233.80 741.00 L233.93 741.00 L234.07 741.00 L234.20 741.00 L234.33 741.00 L234.46 741.00 L234.60 741.00 L234.73 741.00 L234.86 741.00 L235.00 741.00 L235.13 741.00 L235.26 741.00 L235.40 741.00 L235.53 741.00 L235.66 741.00 L235.79 741.00 L235.93 741.00 L236.06 741.00 L236.19 741.00 L236.33 741.00 L236.46 741.00 L236.59 741.00 L236.73 741.00 L236.86 741.00 L236.99 741.00 L237.12 741.00 L237.26 741.00 L237.39 741.00 L237.52 741.00 L237.66 741.00 L237.79 741.00 L237.92 741.00 L238.06 741.00 L238.19 741.00 L238.32 741.00 L238.45 741.00 L238.59 741.00 L238.72 741.00 L238.85 741.00 L238.99 741.00 L239.12 741.00 L239.25 741.00 L239.39 741.00 L239.52 741.00 L239.65 741.00 L239.78 741.00 L239.92 741.00 L240.05 741.00 L240.18 741.00 L240.32 741.00 L240.45 741.00 L240.58 741.00 L240.72 741.00 L240.85 741.00 L240.98 741.00 L241.11 741.00 L241.25 741.00 L241.38 741.00 L241.51 741.00 L241.65 741.00 L241.78 741.00 L241.91 741.00 L242.05 741.00 L242.18 741.00 L242.31 741.00 L242.44 741.00 L242.58 741.00 L242.71 741.00 L242.84 741.00 L242.98 741.00 L243.11 741.00 L243.24 741.00 L243.38 741.00 L243.51 741.00 L243.64 741.00 L243.77 741.00 L243.91 741.00 L244.04 741.00 L244.17 741.00 L244.31 741.00 L244.44 741.00 L244.57 741.00 L244.71 741.00 L244.84 741.00 L244.97 741.00 L245.10 741.00 L245.24 741.00 L245.37 741.00 L245.50 741.00 L245.64 741.00 L245.77 741.00 L245.90 741.00 L246.04 741.00 L246.17 741.00 L246.30 741.00 L246.43 741.00 L246.57 741.00 L246.70 741.00 L246.83 741.00 L246.97 741.00 L247.10 741.00 L247.23 741.00 L247.37 741.00 L247.50 741.00 L247.63 741.00 L247.76 741.00 L247.90 741.00 L248.03 741.00 L248.16 741.00 L248.30 741.00 L248.43 741.00 L248.56 741.00 L248.70 741.00 L248.83 741.00 L248.96 741.00 L249.09 741.00 L249.23 741.00 L249.36 741.00 L249.49 741.00 L249.63 741.00 L249.76 741.00 L249.89 741.00 L250.03 741.00 L250.16 741.00 L250.29 741.00 L250.42 741.00 L250.56 741.00 L250.69 741.00 L250.82 741.00 L250.96 741.00 L251.09 741.00 L251.22 741.00 L251.36 741.00 L251.49 741.00 L251.62 741.00 L251.75 741.00 L251.89 741.00 L252.02 741.00 L252.15 741.00 L252.29 741.00 L252.42 741.00 L252.55 741.00 L252.69 741.00 L252.82 741.00 L252.95 741.00 L253.08 741.00 L253.22 741.00 L253.35 741.00 L253.48 741.00 L253.62 741.00 L253.75 741.00 L253.88 741.00 L254.02 741.00 L254.15 741.00 L254.28 741.00 L254.41 741.00 L254.55 741.00 L254.68 741.00 L254.81 741.00 L254.95 741.00 L255.08 741.00 L255.21 741.00 L255.35 741.00 L255.48 741.00 L255.61 740.99 L255.74 740.99 L255.88 740.98 L256.01 740.97 L256.14 740.96 L256.28 740.93 L256.41 740.90 L256.54 740.86 L256.68 740.81 L256.81 740.75 L256.94 740.68 L257.07 740.59 L257.21 740.49 L257.34 740.39 L257.47 740.29 L257.61 740.20 L257.74 740.12 L257.87 740.05 L258.01 740.01 L258.14 740.00 L258.27 740.01 L258.40 740.05 L258.54 740.12 L258.67 740.20 L258.80 740.29 L258.94 740.39 L259.07 740.49 L259.20 740.59 L259.34 740.68 L259.47 740.75 L259.60 740.81 L259.73 740.86 L259.87 740.90 L260.00 740.93 L260.13 740.96 L260.27 740.97 L260.40 740.98 L260.53 740.99 L260.67 740.99 L260.80 740.99 L260.93 740.99 L261.06 740.98 L261.20 740.97 L261.33 740.96 L261.46 740.93 L261.60 740.90 L261.73 740.86 L261.86 740.81 L262.00 740.76 L262.13 740.70 L262.26 740.64 L262.39 740.58 L262.53 740.54 L262.66 740.51 L262.79 740.50 L262.93 740.51 L263.06 740.54 L263.19 740.58 L263.33 740.64 L263.46 740.70 L263.59 740.76 L263.72 740.81 L263.86 740.86 L263.99 740.90 L264.12 740.93 L264.26 740.96 L264.39 740.97 L264.52 740.98 L264.66 740.99 L264.79 740.99 L264.92 741.00 L265.05 741.00 L265.19 741.00 L265.32 741.00 L265.45 741.00 L265.59 741.00 L265.72 741.00 L265.85 741.00 L265.99 741.00 L266.12 741.00 L266.25 741.00 L266.38 741.00 L266.52 741.00 L266.65 741.00 L266.78 741.00 L266.92 741.00 L267.05 741.00 L267.18 741.00 L267.32 741.00 L267.45 741.00 L267.58 741.00 L267.71 741.00 L267.85 741.00 L267.98 741.00 L268.11 741.00 L268.25 741.00 L268.38 741.00 L268.51 741.00 L268.65 741.00 L268.78 741.00 L268.91 741.00 L269.04 741.00 L269.18 741.00 L269.31 741.00 L269.44 741.00 L269.58 741.00 L269.71 741.00 L269.84 741.00 L269.98 741.00 L270.11 741.00 L270.24 741.00 L270.37 741.00 L270.51 741.00 L270.64 741.00 L270.77 741.00 L270.91 741.00 L271.04 741.00 L271.17 741.00 L271.31 741.00 L271.44 741.00 L271.57 741.00 L271.70 741.00 L271.84 741.00 L271.97 741.00 L272.10 741.00 L272.24 741.00 L272.37 741.00 L272.50 741.00 L272.64 741.00 L272.77 741.00 L272.90 741.00 L273.03 741.00 L273.17 741.00 L273.30 741.00 L273.43 741.00 L273.57 741.00 L273.70 741.00 L273.83 741.00 L273.97 741.00 L274.10 741.00 L274.23 741.00 L274.36 741.00 L274.50 741.00 L274.63 741.00 L274.76 740.99 L274.90 740.99 L275.03 740.98 L275.16 740.96 L275.30 740.94 L275.43 740.89 L275.56 740.83 L275.69 740.73 L275.83 740.58 L275.96 740.37 L276.09 740.08 L276.23 739.70 L276.36 739.21 L276.49 738.61 L276.63 737.88 L276.76 737.05 L276.89 736.14 L277.02 735.18 L277.16 734.22 L277.29 733.31 L277.42 732.53 L277.56 731.92 L277.69 731.53 L277.82 731.40 L277.96 731.53 L278.09 731.92 L278.22 732.53 L278.35 733.31 L278.49 734.22 L278.62 735.18 L278.75 736.14 L278.89 737.05 L279.02 737.88 L279.15 738.60 L279.29 739.21 L279.42 739.69 L279.55 740.07 L279.68 740.35 L279.82 740.54 L279.95 740.67 L280.08 740.74 L280.22 740.76 L280.35 740.74 L280.48 740.68 L280.62 740.60 L280.75 740.50 L280.88 740.39 L281.01 740.27 L281.15 740.16 L281.28 740.08 L281.41 740.02 L281.55 740.00 L281.68 740.02 L281.81 740.08 L281.95 740.16 L282.08 740.27 L282.21 740.39 L282.34 740.51 L282.48 740.62 L282.61 740.72 L282.74 740.80 L282.88 740.86 L283.01 740.91 L283.14 740.94 L283.28 740.97 L283.41 740.98 L283.54 740.99 L283.67 740.99 L283.81 741.00 L283.94 741.00 L284.07 741.00 L284.21 741.00 L284.34 741.00 L284.47 741.00 L284.61 741.00 L284.74 741.00 L284.87 741.00 L285.00 741.00 L285.14 741.00 L285.27 741.00 L285.40 741.00 L285.54 741.00 L285.67 741.00 L285.80 741.00 L285.94 741.00 L286.07 741.00 L286.20 741.00 L286.34 741.00 L286.47 741.00 L286.60 741.00 L286.73 741.00 L286.87 741.00 L287.00 741.00 L287.13 741.00 L287.27 741.00 L287.40 740.99 L287.53 740.99 L287.67 740.98 L287.80 740.97 L287.93 740.94 L288.06 740.91 L288.20 740.86 L288.33 740.80 L288.46 740.72 L288.60 740.62 L288.73 740.51 L288.86 740.39 L289.00 740.27 L289.13 740.16 L289.26 740.08 L289.39 740.02 L289.53 740.00 L289.66 740.02 L289.79 740.08 L289.93 740.16 L290.06 740.27 L290.19 740.39 L290.33 740.51 L290.46 740.62 L290.59 740.72 L290.72 740.80 L290.86 740.86 L290.99 740.91 L291.12 740.94 L291.26 740.97 L291.39 740.98 L291.52 740.99 L291.66 740.99 L291.79 741.00 L291.92 741.00 L292.05 741.00 L292.19 741.00 L292.32 741.00 L292.45 741.00 L292.59 741.00 L292.72 741.00 L292.85 741.00 L292.99 741.00 L293.12 741.00 L293.25 741.00 L293.38 741.00 L293.52 741.00 L293.65 741.00 L293.78 741.00 L293.92 741.00 L294.05 741.00 L294.18 741.00 L294.32 741.00 L294.45 741.00 L294.58 741.00 L294.71 741.00 L294.85 741.00 L294.98 741.00 L295.11 741.00 L295.25 741.00 L295.38 741.00 L295.51 741.00 L295.65 741.00 L295.78 741.00 L295.91 741.00 L296.04 741.00 L296.18 741.00 L296.31 741.00 L296.44 741.00 L296.58 741.00 L296.71 741.00 L296.84 741.00 L296.98 741.00 L297.11 741.00 L297.24 741.00 L297.37 741.00 L297.51 741.00 L297.64 741.00 L297.77 741.00 L297.91 741.00 L298.04 741.00 L298.17 741.00 L298.31 741.00 L298.44 741.00 L298.57 741.00 L298.70 741.00 L298.84 741.00 L298.97 741.00 L299.10 741.00 L299.24 741.00 L299.37 741.00 L299.50 741.00 L299.64 741.00 L299.77 741.00 L299.90 741.00 L300.03 741.00 L300.17 741.00 L300.30 741.00 L300.43 741.00 L300.57 741.00 L300.70 741.00 L300.83 741.00 L300.97 741.00 L301.10 741.00 L301.23 741.00 L301.36 741.00 L301.50 741.00 L301.63 741.00 L301.76 741.00 L301.90 741.00 L302.03 741.00 L302.16 740.99 L302.30 740.99 L302.43 740.98 L302.56 740.97 L302.69 740.96 L302.83 740.93 L302.96 740.90 L303.09 740.86 L303.23 740.81 L303.36 740.76 L303.49 740.70 L303.63 740.64 L303.76 740.58 L303.89 740.54 L304.02 740.51 L304.16 740.50 L304.29 740.51 L304.42 740.54 L304.56 740.58 L304.69 740.64 L304.82 740.70 L304.96 740.76 L305.09 740.81 L305.22 740.86 L305.35 740.90 L305.49 740.93 L305.62 740.96 L305.75 740.97 L305.89 740.98 L306.02 740.99 L306.15 740.99 L306.29 740.98 L306.42 740.97 L306.55 740.94 L306.68 740.89 L306.82 740.81 L306.95 740.69 L307.08 740.51 L307.22 740.26 L307.35 739.91 L307.48 739.47 L307.62 738.94 L307.75 738.32 L307.88 737.66 L308.01 737.01 L308.15 736.41 L308.28 735.92 L308.41 735.61 L308.55 735.50 L308.68 735.61 L308.81 735.92 L308.95 736.40 L309.08 737.00 L309.21 737.65 L309.34 738.31 L309.48 738.90 L309.61 739.42 L309.74 739.82 L309.88 740.10 L310.01 740.25 L310.14 740.28 L310.28 740.18 L310.41 739.95 L310.54 739.57 L310.67 739.03 L310.81 738.32 L310.94 737.43 L311.07 736.35 L311.21 735.12 L311.34 733.76 L311.47 732.33 L311.61 730.89 L311.74 729.55 L311.87 728.38 L312.00 727.47 L312.14 726.90 L312.27 726.70 L312.40 726.90 L312.54 727.47 L312.67 728.38 L312.80 729.55 L312.94 730.89 L313.07 732.33 L313.20 733.76 L313.33 735.12 L313.47 736.36 L313.60 737.43 L313.73 738.34 L313.87 739.06 L314.00 739.63 L314.13 740.06 L314.27 740.37 L314.40 740.59 L314.53 740.74 L314.66 740.84 L314.80 740.90 L314.93 740.94 L315.06 740.97 L315.20 740.98 L315.33 740.99 L315.46 741.00 L315.60 741.00 L315.73 741.00 L315.86 741.00 L315.99 741.00 L316.13 741.00 L316.26 741.00 L316.39 741.00 L316.53 741.00 L316.66 741.00 L316.79 741.00 L316.93 741.00 L317.06 741.00 L317.19 741.00 L317.32 741.00 L317.46 741.00 L317.59 741.00 L317.72 741.00 L317.86 740.99 L317.99 740.99 L318.12 740.98 L318.26 740.96 L318.39 740.94 L318.52 740.90 L318.65 740.83 L318.79 740.74 L318.92 740.60 L319.05 740.40 L319.19 740.12 L319.32 739.75 L319.45 739.29 L319.59 738.71 L319.72 738.01 L319.85 737.22 L319.98 736.34 L320.12 735.42 L320.25 734.50 L320.38 733.63 L320.52 732.88 L320.65 732.30 L320.78 731.93 L320.92 731.80 L321.05 731.93 L321.18 732.30 L321.31 732.88 L321.45 733.63 L321.58 734.50 L321.71 735.42 L321.85 736.34 L321.98 737.22 L322.11 738.01 L322.25 738.71 L322.38 739.29 L322.51 739.75 L322.64 740.12 L322.78 740.40 L322.91 740.60 L323.04 740.74 L323.18 740.83 L323.31 740.90 L323.44 740.94 L323.58 740.96 L323.71 740.98 L323.84 740.99 L323.97 740.99 L324.11 741.00 L324.24 741.00 L324.37 741.00 L324.51 741.00 L324.64 741.00 L324.77 741.00 L324.91 741.00 L325.04 741.00 L325.17 741.00 L325.30 741.00 L325.44 741.00 L325.57 741.00 L325.70 741.00 L325.84 741.00 L325.97 741.00 L326.10 741.00 L326.24 741.00 L326.37 741.00 L326.50 741.00 L326.63 741.00 L326.77 741.00 L326.90 741.00 L327.03 741.00 L327.17 741.00 L327.30 741.00 L327.43 741.00 L327.57 741.00 L327.70 741.00 L327.83 741.00 L327.96 741.00 L328.10 741.00 L328.23 741.00 L328.36 741.00 L328.50 741.00 L328.63 741.00 L328.76 741.00 L328.90 741.00 L329.03 741.00 L329.16 741.00 L329.29 741.00 L329.43 741.00 L329.56 741.00 L329.69 741.00 L329.83 741.00 L329.96 741.00 L330.09 741.00 L330.23 741.00 L330.36 741.00 L330.49 741.00 L330.62 741.00 L330.76 741.00 L330.89 741.00 L331.02 741.00 L331.16 741.00 L331.29 741.00 L331.42 741.00 L331.56 741.00 L331.69 741.00 L331.82 741.00 L331.95 741.00 L332.09 741.00 L332.22 741.00 L332.35 741.00 L332.49 741.00 L332.62 741.00 L332.75 741.00 L332.89 741.00 L333.02 741.00 L333.15 741.00 L333.28 741.00 L333.42 741.00 L333.55 741.00 L333.68 741.00 L333.82 741.00 L333.95 741.00 L334.08 741.00 L334.22 741.00 L334.35 741.00 L334.48 741.00 L334.61 741.00 L334.75 741.00 L334.88 741.00 L335.01 741.00 L335.15 741.00 L335.28 741.00 L335.41 741.00 L335.55 741.00 L335.68 741.00 L335.81 741.00 L335.94 741.00 L336.08 741.00 L336.21 740.99 L336.34 740.99 L336.48 740.98 L336.61 740.98 L336.74 740.96 L336.88 740.95 L337.01 740.92 L337.14 740.89 L337.27 740.84 L337.41 740.78 L337.54 740.69 L337.67 740.58 L337.81 740.44 L337.94 740.27 L338.07 740.05 L338.21 739.79 L338.34 739.49 L338.47 739.13 L338.60 738.73 L338.74 738.28 L338.87 737.80 L339.00 737.28 L339.14 736.75 L339.27 736.23 L339.40 735.72 L339.54 735.24 L339.67 734.82 L339.80 734.48 L339.93 734.22 L340.07 734.05 L340.20 734.00 L340.33 734.05 L340.47 734.22 L340.60 734.48 L340.73 734.82 L340.87 735.24 L341.00 735.72 L341.13 736.23 L341.26 736.75 L341.40 737.28 L341.53 737.80 L341.66 738.28 L341.80 738.73 L341.93 739.13 L342.06 739.49 L342.20 739.79 L342.33 740.05 L342.46 740.27 L342.59 740.44 L342.73 740.58 L342.86 740.69 L342.99 740.78 L343.13 740.84 L343.26 740.89 L343.39 740.92 L343.53 740.95 L343.66 740.96 L343.79 740.98 L343.92 740.98 L344.06 740.99 L344.19 740.99 L344.32 741.00 L344.46 741.00 L344.59 741.00 L344.72 741.00 L344.86 741.00 L344.99 741.00 L345.12 741.00 L345.25 741.00 L345.39 741.00 L345.52 741.00 L345.65 741.00 L345.79 741.00 L345.92 741.00 L346.05 741.00 L346.19 741.00 L346.32 741.00 L346.45 741.00 L346.58 741.00 L346.72 741.00 L346.85 741.00 L346.98 740.99 L347.12 740.99 L347.25 740.98 L347.38 740.97 L347.52 740.95 L347.65 740.92 L347.78 740.89 L347.91 740.84 L348.05 740.78 L348.18 740.70 L348.31 740.61 L348.45 740.51 L348.58 740.39 L348.71 740.27 L348.85 740.15 L348.98 740.04 L349.11 739.94 L349.24 739.86 L349.38 739.82 L349.51 739.80 L349.64 739.82 L349.78 739.86 L349.91 739.94 L350.04 740.04 L350.18 740.15 L350.31 740.27 L350.44 740.39 L350.57 740.50 L350.71 740.61 L350.84 740.70 L350.97 740.77 L351.11 740.83 L351.24 740.88 L351.37 740.92 L351.51 740.94 L351.64 740.96 L351.77 740.97 L351.90 740.98 L352.04 740.98 L352.17 740.98 L352.30 740.98 L352.44 740.98 L352.57 740.98 L352.70 740.98 L352.84 740.98 L352.97 740.98 L353.10 740.98 L353.23 740.97 L353.37 740.97 L353.50 740.97 L353.63 740.96 L353.77 740.96 L353.90 740.96 L354.03 740.95 L354.17 740.95 L354.30 740.94 L354.43 740.93 L354.56 740.93 L354.70 740.92 L354.83 740.91 L354.96 740.91 L355.10 740.90 L355.23 740.89 L355.36 740.88 L355.50 740.87 L355.63 740.86 L355.76 740.84 L355.89 740.83 L356.03 740.82 L356.16 740.80 L356.29 740.79 L356.43 740.77 L356.56 740.75 L356.69 740.73 L356.83 740.71 L356.96 740.69 L357.09 740.67 L357.22 740.65 L357.36 740.62 L357.49 740.59 L357.62 740.57 L357.76 740.54 L357.89 740.51 L358.02 740.47 L358.16 740.44 L358.29 740.41 L358.42 740.37 L358.55 740.33 L358.69 740.29 L358.82 740.25 L358.95 740.21 L359.09 740.17 L359.22 740.12 L359.35 740.07 L359.49 740.03 L359.62 739.98 L359.75 739.93 L359.88 739.87 L360.02 739.82 L360.15 739.77 L360.28 739.71 L360.42 739.66 L360.55 739.60 L360.68 739.54 L360.82 739.48 L360.95 739.42 L361.08 739.36 L361.21 739.30 L361.35 739.24 L361.48 739.18 L361.61 739.12 L361.75 739.06 L361.88 739.00 L362.01 738.94 L362.15 738.88 L362.28 738.82 L362.41 738.76 L362.54 738.71 L362.68 738.65 L362.81 738.60 L362.94 738.55 L363.08 738.49 L363.21 738.44 L363.34 738.40 L363.48 738.35 L363.61 738.31 L363.74 738.27 L363.87 738.23 L364.01 738.20 L364.14 738.16 L364.27 738.13 L364.41 738.10 L364.54 738.08 L364.67 738.06 L364.81 738.04 L364.94 738.02 L365.07 738.01 L365.20 738.00 L365.34 737.98 L365.47 737.97 L365.60 737.95 L365.74 737.92 L365.87 737.87 L366.00 737.81 L366.14 737.71 L366.27 737.58 L366.40 737.40 L366.53 737.17 L366.67 736.88 L366.80 736.54 L366.93 736.14 L367.07 735.70 L367.20 735.23 L367.33 734.77 L367.47 734.33 L367.60 733.96 L367.73 733.67 L367.86 733.49 L368.00 733.43 L368.13 733.49 L368.26 733.66 L368.40 733.91 L368.53 734.22 L368.66 734.54 L368.80 734.85 L368.93 735.11 L369.06 735.30 L369.19 735.41 L369.33 735.45 L369.46 735.42 L369.59 735.36 L369.73 735.29 L369.86 735.25 L369.99 735.26 L370.13 735.34 L370.26 735.50 L370.39 735.76 L370.52 736.09 L370.66 736.49 L370.79 736.93 L370.92 737.39 L371.06 737.85 L371.19 738.28 L371.32 738.68 L371.46 739.03 L371.59 739.33 L371.72 739.58 L371.85 739.78 L371.99 739.95 L372.12 740.08 L372.25 740.18 L372.39 740.26 L372.52 740.32 L372.65 740.38 L372.79 740.42 L372.92 740.46 L373.05 740.50 L373.18 740.53 L373.32 740.56 L373.45 740.58 L373.58 740.61 L373.72 740.63 L373.85 740.64 L373.98 740.66 L374.12 740.67 L374.25 740.67 L374.38 740.67 L374.51 740.67 L374.65 740.65 L374.78 740.63 L374.91 740.60 L375.05 740.56 L375.18 740.50 L375.31 740.43 L375.45 740.34 L375.58 740.23 L375.71 740.10 L375.84 739.94 L375.98 739.76 L376.11 739.54 L376.24 739.30 L376.38 739.02 L376.51 738.70 L376.64 738.35 L376.78 737.95 L376.91 737.52 L377.04 737.06 L377.17 736.56 L377.31 736.03 L377.44 735.47 L377.57 734.89 L377.71 734.30 L377.84 733.70 L377.97 733.09 L378.11 732.50 L378.24 731.92 L378.37 731.38 L378.50 730.86 L378.64 730.40 L378.77 729.99 L378.90 729.64 L379.04 729.36 L379.17 729.16 L379.30 729.03 L379.44 728.99 L379.57 729.04 L379.70 729.16 L379.83 729.36 L379.97 729.64 L380.10 729.99 L380.23 730.41 L380.37 730.87 L380.50 731.39 L380.63 731.94 L380.77 732.52 L380.90 733.11 L381.03 733.72 L381.16 734.33 L381.30 734.92 L381.43 735.50 L381.56 736.06 L381.70 736.59 L381.83 737.07 L381.96 737.51 L382.10 737.88 L382.23 738.15 L382.36 738.30 L382.49 738.27 L382.63 738.00 L382.76 737.42 L382.89 736.50 L383.03 735.18 L383.16 733.51 L383.29 731.56 L383.43 729.49 L383.56 727.52 L383.69 725.89 L383.82 724.82 L383.96 724.48 L384.09 724.93 L384.22 726.10 L384.36 727.84 L384.49 729.94 L384.62 732.15 L384.76 734.25 L384.89 736.10 L385.02 737.62 L385.15 738.77 L385.29 739.61 L385.42 740.17 L385.55 740.53 L385.69 740.74 L385.82 740.87 L385.95 740.93 L386.09 740.97 L386.22 740.99 L386.35 740.99 L386.48 741.00 L386.62 741.00 L386.75 741.00 L386.88 741.00 L387.02 741.00 L387.15 741.00 L387.28 741.00 L387.42 741.00 L387.55 741.00 L387.68 741.00 L387.81 741.00 L387.95 741.00 L388.08 741.00 L388.21 741.00 L388.35 741.00 L388.48 741.00 L388.61 741.00 L388.75 741.00 L388.88 741.00 L389.01 741.00 L389.14 741.00 L389.28 741.00 L389.41 741.00 L389.54 741.00 L389.68 741.00 L389.81 741.00 L389.94 741.00 L390.08 741.00 L390.21 741.00 L390.34 741.00 L390.47 741.00 L390.61 741.00 L390.74 741.00 L390.87 741.00 L391.01 740.99 L391.14 740.98 L391.27 740.94 L391.41 740.87 L391.54 740.71 L391.67 740.40 L391.80 739.84 L391.94 738.91 L392.07 737.44 L392.20 735.31 L392.34 732.46 L392.47 728.96 L392.60 725.05 L392.74 721.15 L392.87 717.79 L393.00 715.51 L393.13 714.70 L393.27 715.51 L393.40 717.79 L393.53 721.15 L393.67 725.05 L393.80 728.96 L393.93 732.46 L394.07 735.31 L394.20 737.44 L394.33 738.91 L394.46 739.84 L394.60 740.40 L394.73 740.71 L394.86 740.87 L395.00 740.94 L395.13 740.98 L395.26 740.99 L395.40 741.00 L395.53 741.00 L395.66 741.00 L395.79 741.00 L395.93 741.00 L396.06 741.00 L396.19 741.00 L396.33 741.00 L396.46 741.00 L396.59 741.00 L396.73 741.00 L396.86 741.00 L396.99 741.00 L397.12 741.00 L397.26 741.00 L397.39 741.00 L397.52 741.00 L397.66 741.00 L397.79 741.00 L397.92 741.00 L398.06 741.00 L398.19 741.00 L398.32 741.00 L398.45 741.00 L398.59 741.00 L398.72 741.00 L398.85 741.00 L398.99 741.00 L399.12 741.00 L399.25 741.00 L399.39 741.00 L399.52 741.00 L399.65 741.00 L399.78 741.00 L399.92 741.00 L400.05 741.00 L400.18 741.00 L400.32 741.00 L400.45 741.00 L400.58 741.00 L400.72 741.00 L400.85 741.00 L400.98 741.00 L401.11 741.00 L401.25 741.00 L401.38 741.00 L401.51 741.00 L401.65 741.00 L401.78 741.00 L401.91 741.00 L402.05 741.00 L402.18 741.00 L402.31 741.00 L402.44 741.00 L402.58 741.00 L402.71 741.00 L402.84 741.00 L402.98 741.00 L403.11 741.00 L403.24 741.00 L403.38 741.00 L403.51 741.00 L403.64 741.00 L403.77 741.00 L403.91 741.00 L404.04 741.00 L404.17 741.00 L404.31 741.00 L404.44 741.00 L404.57 741.00 L404.71 741.00 L404.84 741.00 L404.97 741.00 L405.10 741.00 L405.24 741.00 L405.37 741.00 L405.50 741.00 L405.64 741.00 L405.77 741.00 L405.90 741.00 L406.04 741.00 L406.17 741.00 L406.30 741.00 L406.43 741.00 L406.57 741.00 L406.70 741.00 L406.83 741.00 L406.97 741.00 L407.10 741.00 L407.23 741.00 L407.37 741.00 L407.50 741.00 L407.63 741.00" fill="none" stroke="#111" stroke-width="0.85" stroke-linejoin="round"/>
<path d="M376.4 741 L376.6 685 L380.1 685 L381.2 715 L382.6 733 L384 741Z" fill="#f5c000"/>
<path d="M376.4 741 L376.6 685 M380.1 685 L381.2 715 L382.6 733 L384 741" fill="none" stroke="#111" stroke-width="0.6"/>
<line x1="378.50" y1="635.80" x2="378.50" y2="681.80" stroke="#111" stroke-width="1.1" shape-rendering="crispEdges"/>
<line x1="47.60" y1="741.00" x2="408.30" y2="741.00" stroke="#222" stroke-width="0.9"/>
<path d="M47.60 783.20 L47.73 783.20 L47.87 783.20 L48.00 783.20 L48.13 783.20 L48.27 783.20 L48.40 783.20 L48.53 783.20 L48.66 783.20 L48.80 783.20 L48.93 783.20 L49.06 783.20 L49.20 783.20 L49.33 783.20 L49.46 783.20 L49.59 783.20 L49.73 783.20 L49.86 783.20 L49.99 783.20 L50.13 783.20 L50.26 783.20 L50.39 783.20 L50.53 783.20 L50.66 783.20 L50.79 783.20 L50.93 783.20 L51.06 783.20 L51.19 783.20 L51.32 783.20 L51.46 783.20 L51.59 783.20 L51.72 783.20 L51.86 783.20 L51.99 783.20 L52.12 783.20 L52.26 783.20 L52.39 783.20 L52.52 783.20 L52.65 783.20 L52.79 783.20 L52.92 783.20 L53.05 783.20 L53.19 783.20 L53.32 783.20 L53.45 783.20 L53.59 783.20 L53.72 783.20 L53.85 783.20 L53.98 783.20 L54.12 783.20 L54.25 783.20 L54.38 783.20 L54.52 783.20 L54.65 783.20 L54.78 783.20 L54.92 783.20 L55.05 783.20 L55.18 783.20 L55.31 783.20 L55.45 783.20 L55.58 783.20 L55.71 783.20 L55.85 783.20 L55.98 783.20 L56.11 783.20 L56.25 783.20 L56.38 783.20 L56.51 783.20 L56.64 783.20 L56.78 783.20 L56.91 783.20 L57.04 783.20 L57.18 783.20 L57.31 783.20 L57.44 783.20 L57.58 783.20 L57.71 783.20 L57.84 783.20 L57.97 783.20 L58.11 783.20 L58.24 783.20 L58.37 783.20 L58.51 783.20 L58.64 783.20 L58.77 783.20 L58.91 783.20 L59.04 783.20 L59.17 783.20 L59.30 783.20 L59.44 783.20 L59.57 783.20 L59.70 783.20 L59.84 783.20 L59.97 783.20 L60.10 783.20 L60.24 783.20 L60.37 783.20 L60.50 783.20 L60.63 783.20 L60.77 783.20 L60.90 783.20 L61.03 783.20 L61.17 783.20 L61.30 783.20 L61.43 783.20 L61.57 783.20 L61.70 783.20 L61.83 783.20 L61.96 783.20 L62.10 783.20 L62.23 783.20 L62.36 783.20 L62.50 783.20 L62.63 783.20 L62.76 783.20 L62.90 783.20 L63.03 783.20 L63.16 783.20 L63.29 783.20 L63.43 783.20 L63.56 783.20 L63.69 783.20 L63.83 783.20 L63.96 783.19 L64.09 783.19 L64.23 783.18 L64.36 783.18 L64.49 783.16 L64.62 783.14 L64.76 783.12 L64.89 783.08 L65.02 783.04 L65.16 782.98 L65.29 782.90 L65.42 782.81 L65.56 782.69 L65.69 782.56 L65.82 782.41 L65.95 782.24 L66.09 782.06 L66.22 781.87 L66.35 781.68 L66.49 781.50 L66.62 781.33 L66.75 781.19 L66.89 781.09 L67.02 781.02 L67.15 781.00 L67.28 781.02 L67.42 781.09 L67.55 781.19 L67.68 781.33 L67.82 781.50 L67.95 781.68 L68.08 781.87 L68.22 782.06 L68.35 782.24 L68.48 782.41 L68.61 782.56 L68.75 782.69 L68.88 782.81 L69.01 782.90 L69.15 782.98 L69.28 783.04 L69.41 783.08 L69.55 783.12 L69.68 783.14 L69.81 783.16 L69.94 783.18 L70.08 783.18 L70.21 783.19 L70.34 783.19 L70.48 783.20 L70.61 783.20 L70.74 783.20 L70.88 783.20 L71.01 783.20 L71.14 783.20 L71.27 783.20 L71.41 783.20 L71.54 783.20 L71.67 783.20 L71.81 783.20 L71.94 783.20 L72.07 783.20 L72.21 783.20 L72.34 783.20 L72.47 783.20 L72.60 783.20 L72.74 783.20 L72.87 783.20 L73.00 783.20 L73.14 783.20 L73.27 783.20 L73.40 783.20 L73.54 783.20 L73.67 783.20 L73.80 783.20 L73.93 783.20 L74.07 783.20 L74.20 783.20 L74.33 783.20 L74.47 783.20 L74.60 783.20 L74.73 783.20 L74.87 783.20 L75.00 783.20 L75.13 783.20 L75.26 783.20 L75.40 783.20 L75.53 783.20 L75.66 783.20 L75.80 783.20 L75.93 783.20 L76.06 783.20 L76.19 783.20 L76.33 783.20 L76.46 783.20 L76.59 783.20 L76.73 783.20 L76.86 783.20 L76.99 783.20 L77.13 783.20 L77.26 783.20 L77.39 783.20 L77.52 783.20 L77.66 783.20 L77.79 783.20 L77.92 783.20 L78.06 783.20 L78.19 783.20 L78.32 783.20 L78.46 783.20 L78.59 783.20 L78.72 783.20 L78.85 783.20 L78.99 783.20 L79.12 783.20 L79.25 783.20 L79.39 783.20 L79.52 783.20 L79.65 783.20 L79.79 783.20 L79.92 783.20 L80.05 783.20 L80.18 783.20 L80.32 783.20 L80.45 783.20 L80.58 783.20 L80.72 783.20 L80.85 783.20 L80.98 783.20 L81.12 783.20 L81.25 783.20 L81.38 783.20 L81.51 783.20 L81.65 783.20 L81.78 783.20 L81.91 783.20 L82.05 783.20 L82.18 783.20 L82.31 783.20 L82.45 783.20 L82.58 783.20 L82.71 783.20 L82.84 783.20 L82.98 783.20 L83.11 783.20 L83.24 783.19 L83.38 783.19 L83.51 783.19 L83.64 783.18 L83.78 783.17 L83.91 783.15 L84.04 783.12 L84.17 783.08 L84.31 783.02 L84.44 782.94 L84.57 782.84 L84.71 782.69 L84.84 782.50 L84.97 782.25 L85.11 781.93 L85.24 781.53 L85.37 781.03 L85.50 780.44 L85.64 779.74 L85.77 778.93 L85.90 778.01 L86.04 776.98 L86.17 775.87 L86.30 774.70 L86.44 773.50 L86.57 772.29 L86.70 771.12 L86.83 770.04 L86.97 769.08 L87.10 768.29 L87.23 767.69 L87.37 767.32 L87.50 767.20 L87.63 767.32 L87.77 767.69 L87.90 768.29 L88.03 769.08 L88.16 770.04 L88.30 771.12 L88.43 772.29 L88.56 773.50 L88.70 774.70 L88.83 775.87 L88.96 776.98 L89.10 778.01 L89.23 778.93 L89.36 779.74 L89.49 780.44 L89.63 781.03 L89.76 781.53 L89.89 781.93 L90.03 782.25 L90.16 782.50 L90.29 782.69 L90.43 782.84 L90.56 782.94 L90.69 783.02 L90.82 783.08 L90.96 783.12 L91.09 783.15 L91.22 783.17 L91.36 783.18 L91.49 783.19 L91.62 783.19 L91.76 783.19 L91.89 783.20 L92.02 783.20 L92.15 783.20 L92.29 783.20 L92.42 783.20 L92.55 783.20 L92.69 783.20 L92.82 783.20 L92.95 783.20 L93.09 783.20 L93.22 783.20 L93.35 783.20 L93.48 783.20 L93.62 783.20 L93.75 783.20 L93.88 783.20 L94.02 783.20 L94.15 783.20 L94.28 783.20 L94.42 783.20 L94.55 783.20 L94.68 783.20 L94.81 783.20 L94.95 783.20 L95.08 783.20 L95.21 783.20 L95.35 783.20 L95.48 783.20 L95.61 783.20 L95.75 783.20 L95.88 783.20 L96.01 783.20 L96.14 783.20 L96.28 783.20 L96.41 783.20 L96.54 783.20 L96.68 783.20 L96.81 783.20 L96.94 783.20 L97.08 783.20 L97.21 783.20 L97.34 783.20 L97.47 783.20 L97.61 783.20 L97.74 783.20 L97.87 783.20 L98.01 783.20 L98.14 783.19 L98.27 783.19 L98.41 783.19 L98.54 783.19 L98.67 783.18 L98.80 783.18 L98.94 783.17 L99.07 783.16 L99.20 783.16 L99.34 783.14 L99.47 783.13 L99.60 783.12 L99.74 783.10 L99.87 783.08 L100.00 783.06 L100.13 783.04 L100.27 783.01 L100.40 782.99 L100.53 782.96 L100.67 782.93 L100.80 782.90 L100.93 782.87 L101.07 782.84 L101.20 782.81 L101.33 782.78 L101.46 782.76 L101.60 782.74 L101.73 782.72 L101.86 782.71 L102.00 782.70 L102.13 782.70 L102.26 782.70 L102.40 782.71 L102.53 782.72 L102.66 782.74 L102.79 782.76 L102.93 782.78 L103.06 782.81 L103.19 782.84 L103.33 782.87 L103.46 782.90 L103.59 782.93 L103.73 782.96 L103.86 782.99 L103.99 783.01 L104.12 783.04 L104.26 783.06 L104.39 783.08 L104.52 783.10 L104.66 783.12 L104.79 783.13 L104.92 783.14 L105.06 783.16 L105.19 783.16 L105.32 783.17 L105.45 783.18 L105.59 783.18 L105.72 783.19 L105.85 783.19 L105.99 783.19 L106.12 783.19 L106.25 783.20 L106.39 783.20 L106.52 783.20 L106.65 783.20 L106.78 783.20 L106.92 783.20 L107.05 783.20 L107.18 783.20 L107.32 783.20 L107.45 783.20 L107.58 783.20 L107.72 783.20 L107.85 783.20 L107.98 783.20 L108.11 783.20 L108.25 783.20 L108.38 783.20 L108.51 783.20 L108.65 783.20 L108.78 783.20 L108.91 783.20 L109.05 783.20 L109.18 783.20 L109.31 783.20 L109.44 783.20 L109.58 783.20 L109.71 783.20 L109.84 783.20 L109.98 783.20 L110.11 783.20 L110.24 783.20 L110.38 783.20 L110.51 783.20 L110.64 783.20 L110.77 783.20 L110.91 783.20 L111.04 783.20 L111.17 783.20 L111.31 783.20 L111.44 783.20 L111.57 783.20 L111.71 783.20 L111.84 783.20 L111.97 783.20 L112.10 783.20 L112.24 783.20 L112.37 783.20 L112.50 783.20 L112.64 783.20 L112.77 783.20 L112.90 783.20 L113.04 783.20 L113.17 783.20 L113.30 783.20 L113.43 783.20 L113.57 783.20 L113.70 783.20 L113.83 783.20 L113.97 783.20 L114.10 783.20 L114.23 783.20 L114.37 783.20 L114.50 783.20 L114.63 783.20 L114.76 783.20 L114.90 783.20 L115.03 783.20 L115.16 783.20 L115.30 783.20 L115.43 783.20 L115.56 783.20 L115.70 783.20 L115.83 783.20 L115.96 783.20 L116.09 783.20 L116.23 783.20 L116.36 783.20 L116.49 783.20 L116.63 783.20 L116.76 783.20 L116.89 783.20 L117.03 783.20 L117.16 783.20 L117.29 783.20 L117.42 783.20 L117.56 783.20 L117.69 783.20 L117.82 783.20 L117.96 783.20 L118.09 783.20 L118.22 783.20 L118.36 783.20 L118.49 783.20 L118.62 783.20 L118.75 783.20 L118.89 783.20 L119.02 783.20 L119.15 783.20 L119.29 783.20 L119.42 783.20 L119.55 783.20 L119.69 783.20 L119.82 783.20 L119.95 783.20 L120.08 783.20 L120.22 783.20 L120.35 783.20 L120.48 783.20 L120.62 783.20 L120.75 783.20 L120.88 783.20 L121.02 783.20 L121.15 783.20 L121.28 783.20 L121.41 783.20 L121.55 783.20 L121.68 783.20 L121.81 783.19 L121.95 783.19 L122.08 783.18 L122.21 783.16 L122.35 783.14 L122.48 783.09 L122.61 783.03 L122.74 782.93 L122.88 782.77 L123.01 782.56 L123.14 782.25 L123.28 781.83 L123.41 781.26 L123.54 780.53 L123.68 779.62 L123.81 778.49 L123.94 777.17 L124.07 775.65 L124.21 773.96 L124.34 772.17 L124.47 770.33 L124.61 768.55 L124.74 766.90 L124.87 765.49 L125.01 764.41 L125.14 763.73 L125.27 763.50 L125.40 763.73 L125.54 764.41 L125.67 765.48 L125.80 766.89 L125.94 768.53 L126.07 770.30 L126.20 772.12 L126.34 773.89 L126.47 775.54 L126.60 777.02 L126.73 778.29 L126.87 779.32 L127.00 780.13 L127.13 780.71 L127.27 781.09 L127.40 781.29 L127.53 781.31 L127.67 781.19 L127.80 780.94 L127.93 780.57 L128.06 780.11 L128.20 779.56 L128.33 778.95 L128.46 778.29 L128.60 777.61 L128.73 776.92 L128.86 776.25 L129.00 775.63 L129.13 775.08 L129.26 774.62 L129.39 774.28 L129.53 774.07 L129.66 774.00 L129.79 774.07 L129.93 774.28 L130.06 774.62 L130.19 775.08 L130.33 775.63 L130.46 776.26 L130.59 776.93 L130.72 777.62 L130.86 778.31 L130.99 778.99 L131.12 779.63 L131.26 780.21 L131.39 780.74 L131.52 781.21 L131.66 781.61 L131.79 781.95 L131.92 782.24 L132.05 782.47 L132.19 782.65 L132.32 782.80 L132.45 782.91 L132.59 782.99 L132.72 783.05 L132.85 783.10 L132.99 783.13 L133.12 783.15 L133.25 783.17 L133.38 783.18 L133.52 783.19 L133.65 783.19 L133.78 783.19 L133.92 783.20 L134.05 783.20 L134.18 783.20 L134.32 783.20 L134.45 783.20 L134.58 783.20 L134.71 783.20 L134.85 783.20 L134.98 783.20 L135.11 783.20 L135.25 783.20 L135.38 783.20 L135.51 783.20 L135.65 783.20 L135.78 783.20 L135.91 783.20 L136.04 783.20 L136.18 783.20 L136.31 783.20 L136.44 783.20 L136.58 783.20 L136.71 783.20 L136.84 783.20 L136.98 783.20 L137.11 783.20 L137.24 783.20 L137.37 783.20 L137.51 783.20 L137.64 783.20 L137.77 783.20 L137.91 783.20 L138.04 783.20 L138.17 783.20 L138.31 783.20 L138.44 783.20 L138.57 783.20 L138.70 783.20 L138.84 783.20 L138.97 783.20 L139.10 783.20 L139.24 783.20 L139.37 783.20 L139.50 783.20 L139.64 783.20 L139.77 783.20 L139.90 783.20 L140.03 783.20 L140.17 783.20 L140.30 783.20 L140.43 783.20 L140.57 783.20 L140.70 783.20 L140.83 783.20 L140.97 783.20 L141.10 783.20 L141.23 783.20 L141.36 783.20 L141.50 783.20 L141.63 783.20 L141.76 783.20 L141.90 783.20 L142.03 783.20 L142.16 783.20 L142.30 783.20 L142.43 783.20 L142.56 783.20 L142.69 783.20 L142.83 783.20 L142.96 783.20 L143.09 783.20 L143.23 783.20 L143.36 783.20 L143.49 783.20 L143.63 783.20 L143.76 783.20 L143.89 783.20 L144.02 783.20 L144.16 783.20 L144.29 783.20 L144.42 783.20 L144.56 783.20 L144.69 783.20 L144.82 783.20 L144.96 783.20 L145.09 783.20 L145.22 783.20 L145.35 783.20 L145.49 783.20 L145.62 783.20 L145.75 783.20 L145.89 783.20 L146.02 783.20 L146.15 783.20 L146.29 783.20 L146.42 783.20 L146.55 783.20 L146.68 783.20 L146.82 783.20 L146.95 783.20 L147.08 783.20 L147.22 783.20 L147.35 783.20 L147.48 783.20 L147.62 783.20 L147.75 783.20 L147.88 783.20 L148.01 783.20 L148.15 783.20 L148.28 783.20 L148.41 783.20 L148.55 783.20 L148.68 783.20 L148.81 783.20 L148.95 783.20 L149.08 783.20 L149.21 783.20 L149.34 783.20 L149.48 783.20 L149.61 783.20 L149.74 783.20 L149.88 783.20 L150.01 783.20 L150.14 783.20 L150.28 783.20 L150.41 783.20 L150.54 783.20 L150.67 783.20 L150.81 783.20 L150.94 783.20 L151.07 783.20 L151.21 783.20 L151.34 783.20 L151.47 783.20 L151.61 783.20 L151.74 783.20 L151.87 783.20 L152.00 783.20 L152.14 783.20 L152.27 783.20 L152.40 783.20 L152.54 783.20 L152.67 783.20 L152.80 783.20 L152.94 783.20 L153.07 783.20 L153.20 783.20 L153.33 783.20 L153.47 783.20 L153.60 783.20 L153.73 783.20 L153.87 783.20 L154.00 783.20 L154.13 783.20 L154.27 783.20 L154.40 783.20 L154.53 783.20 L154.66 783.20 L154.80 783.20 L154.93 783.20 L155.06 783.20 L155.20 783.20 L155.33 783.19 L155.46 783.19 L155.60 783.19 L155.73 783.19 L155.86 783.18 L155.99 783.17 L156.13 783.17 L156.26 783.16 L156.39 783.14 L156.53 783.13 L156.66 783.11 L156.79 783.09 L156.93 783.06 L157.06 783.04 L157.19 783.00 L157.32 782.96 L157.46 782.92 L157.59 782.88 L157.72 782.82 L157.86 782.77 L157.99 782.71 L158.12 782.65 L158.26 782.59 L158.39 782.53 L158.52 782.47 L158.65 782.42 L158.79 782.36 L158.92 782.32 L159.05 782.28 L159.19 782.24 L159.32 782.22 L159.45 782.20 L159.59 782.20 L159.72 782.20 L159.85 782.22 L159.98 782.24 L160.12 782.28 L160.25 782.32 L160.38 782.36 L160.52 782.42 L160.65 782.47 L160.78 782.53 L160.92 782.59 L161.05 782.65 L161.18 782.71 L161.31 782.77 L161.45 782.82 L161.58 782.88 L161.71 782.92 L161.85 782.96 L161.98 783.00 L162.11 783.04 L162.25 783.06 L162.38 783.09 L162.51 783.11 L162.64 783.13 L162.78 783.14 L162.91 783.16 L163.04 783.17 L163.18 783.17 L163.31 783.18 L163.44 783.19 L163.58 783.19 L163.71 783.19 L163.84 783.19 L163.97 783.20 L164.11 783.20 L164.24 783.20 L164.37 783.20 L164.51 783.20 L164.64 783.20 L164.77 783.20 L164.91 783.20 L165.04 783.20 L165.17 783.20 L165.30 783.20 L165.44 783.20 L165.57 783.20 L165.70 783.20 L165.84 783.20 L165.97 783.20 L166.10 783.20 L166.24 783.20 L166.37 783.19 L166.50 783.19 L166.63 783.17 L166.77 783.15 L166.90 783.12 L167.03 783.07 L167.17 782.99 L167.30 782.87 L167.43 782.69 L167.57 782.43 L167.70 782.08 L167.83 781.62 L167.96 781.02 L168.10 780.28 L168.23 779.40 L168.36 778.39 L168.50 777.28 L168.63 776.10 L168.76 774.93 L168.90 773.83 L169.03 772.87 L169.16 772.13 L169.29 771.66 L169.43 771.50 L169.56 771.66 L169.69 772.13 L169.83 772.87 L169.96 773.83 L170.09 774.93 L170.23 776.10 L170.36 777.28 L170.49 778.39 L170.62 779.40 L170.76 780.28 L170.89 781.02 L171.02 781.62 L171.16 782.08 L171.29 782.43 L171.42 782.69 L171.56 782.87 L171.69 782.99 L171.82 783.07 L171.95 783.12 L172.09 783.15 L172.22 783.17 L172.35 783.19 L172.49 783.19 L172.62 783.20 L172.75 783.20 L172.89 783.20 L173.02 783.20 L173.15 783.20 L173.28 783.20 L173.42 783.20 L173.55 783.20 L173.68 783.20 L173.82 783.20 L173.95 783.20 L174.08 783.20 L174.22 783.20 L174.35 783.19 L174.48 783.19 L174.61 783.17 L174.75 783.15 L174.88 783.12 L175.01 783.06 L175.15 782.98 L175.28 782.85 L175.41 782.66 L175.55 782.38 L175.68 782.01 L175.81 781.52 L175.94 780.89 L176.08 780.11 L176.21 779.17 L176.34 778.10 L176.48 776.92 L176.61 775.68 L176.74 774.44 L176.88 773.27 L177.01 772.26 L177.14 771.47 L177.27 770.97 L177.41 770.80 L177.54 770.97 L177.67 771.47 L177.81 772.26 L177.94 773.27 L178.07 774.44 L178.21 775.68 L178.34 776.92 L178.47 778.10 L178.60 779.17 L178.74 780.11 L178.87 780.89 L179.00 781.52 L179.14 782.01 L179.27 782.38 L179.40 782.66 L179.54 782.85 L179.67 782.98 L179.80 783.06 L179.93 783.12 L180.07 783.15 L180.20 783.17 L180.33 783.19 L180.47 783.19 L180.60 783.20 L180.73 783.20 L180.87 783.20 L181.00 783.20 L181.13 783.20 L181.26 783.20 L181.40 783.20 L181.53 783.20 L181.66 783.20 L181.80 783.20 L181.93 783.20 L182.06 783.20 L182.20 783.20 L182.33 783.20 L182.46 783.20 L182.59 783.20 L182.73 783.20 L182.86 783.20 L182.99 783.20 L183.13 783.20 L183.26 783.20 L183.39 783.20 L183.53 783.20 L183.66 783.20 L183.79 783.20 L183.92 783.20 L184.06 783.20 L184.19 783.20 L184.32 783.20 L184.46 783.20 L184.59 783.20 L184.72 783.20 L184.86 783.20 L184.99 783.20 L185.12 783.20 L185.25 783.20 L185.39 783.20 L185.52 783.20 L185.65 783.20 L185.79 783.20 L185.92 783.20 L186.05 783.20 L186.19 783.20 L186.32 783.20 L186.45 783.20 L186.58 783.19 L186.72 783.18 L186.85 783.16 L186.98 783.11 L187.12 783.03 L187.25 782.88 L187.38 782.62 L187.52 782.21 L187.65 781.56 L187.78 780.60 L187.91 779.25 L188.05 777.42 L188.18 775.08 L188.31 772.24 L188.45 768.99 L188.58 765.49 L188.71 762.00 L188.85 758.81 L188.98 756.25 L189.11 754.58 L189.24 754.00 L189.38 754.58 L189.51 756.25 L189.64 758.81 L189.78 762.00 L189.91 765.49 L190.04 768.99 L190.18 772.24 L190.31 775.08 L190.44 777.42 L190.57 779.25 L190.71 780.60 L190.84 781.56 L190.97 782.21 L191.11 782.62 L191.24 782.88 L191.37 783.02 L191.51 783.11 L191.64 783.15 L191.77 783.17 L191.90 783.18 L192.04 783.18 L192.17 783.16 L192.30 783.14 L192.44 783.11 L192.57 783.06 L192.70 783.00 L192.84 782.92 L192.97 782.82 L193.10 782.71 L193.23 782.59 L193.37 782.47 L193.50 782.36 L193.63 782.28 L193.77 782.22 L193.90 782.20 L194.03 782.22 L194.17 782.28 L194.30 782.36 L194.43 782.47 L194.56 782.59 L194.70 782.71 L194.83 782.82 L194.96 782.92 L195.10 783.00 L195.23 783.06 L195.36 783.11 L195.50 783.14 L195.63 783.17 L195.76 783.18 L195.89 783.19 L196.03 783.19 L196.16 783.20 L196.29 783.20 L196.43 783.20 L196.56 783.20 L196.69 783.20 L196.83 783.20 L196.96 783.20 L197.09 783.20 L197.22 783.20 L197.36 783.20 L197.49 783.20 L197.62 783.20 L197.76 783.20 L197.89 783.20 L198.02 783.20 L198.16 783.20 L198.29 783.20 L198.42 783.20 L198.55 783.20 L198.69 783.20 L198.82 783.20 L198.95 783.20 L199.09 783.20 L199.22 783.20 L199.35 783.20 L199.49 783.20 L199.62 783.20 L199.75 783.20 L199.88 783.20 L200.02 783.19 L200.15 783.19 L200.28 783.18 L200.42 783.17 L200.55 783.14 L200.68 783.10 L200.82 783.04 L200.95 782.95 L201.08 782.81 L201.21 782.62 L201.35 782.36 L201.48 782.01 L201.61 781.56 L201.75 781.01 L201.88 780.34 L202.01 779.58 L202.15 778.74 L202.28 777.86 L202.41 776.98 L202.54 776.15 L202.68 775.43 L202.81 774.88 L202.94 774.52 L203.08 774.40 L203.21 774.52 L203.34 774.88 L203.48 775.43 L203.61 776.15 L203.74 776.98 L203.87 777.86 L204.01 778.73 L204.14 779.56 L204.27 780.30 L204.41 780.94 L204.54 781.45 L204.67 781.82 L204.81 782.06 L204.94 782.17 L205.07 782.14 L205.20 781.96 L205.34 781.65 L205.47 781.18 L205.60 780.57 L205.74 779.82 L205.87 778.95 L206.00 777.97 L206.14 776.95 L206.27 775.92 L206.40 774.95 L206.53 774.11 L206.67 773.46 L206.80 773.04 L206.93 772.90 L207.07 773.04 L207.20 773.46 L207.33 774.11 L207.47 774.95 L207.60 775.92 L207.73 776.95 L207.86 777.98 L208.00 778.97 L208.13 779.86 L208.26 780.63 L208.40 781.28 L208.53 781.81 L208.66 782.21 L208.80 782.52 L208.93 782.74 L209.06 782.90 L209.19 783.01 L209.33 783.07 L209.46 783.10 L209.59 783.12 L209.73 783.11 L209.86 783.08 L209.99 783.04 L210.13 782.97 L210.26 782.90 L210.39 782.81 L210.52 782.71 L210.66 782.62 L210.79 782.53 L210.92 782.46 L211.06 782.42 L211.19 782.40 L211.32 782.42 L211.46 782.46 L211.59 782.53 L211.72 782.62 L211.85 782.71 L211.99 782.81 L212.12 782.90 L212.25 782.98 L212.39 783.04 L212.52 783.09 L212.65 783.13 L212.79 783.16 L212.92 783.17 L213.05 783.18 L213.18 783.19 L213.32 783.20 L213.45 783.20 L213.58 783.20 L213.72 783.20 L213.85 783.20 L213.98 783.20 L214.12 783.20 L214.25 783.20 L214.38 783.20 L214.51 783.20 L214.65 783.20 L214.78 783.20 L214.91 783.20 L215.05 783.20 L215.18 783.20 L215.31 783.20 L215.45 783.20 L215.58 783.20 L215.71 783.20 L215.84 783.20 L215.98 783.20 L216.11 783.19 L216.24 783.19 L216.38 783.18 L216.51 783.17 L216.64 783.14 L216.78 783.10 L216.91 783.04 L217.04 782.95 L217.17 782.81 L217.31 782.62 L217.44 782.36 L217.57 782.01 L217.71 781.56 L217.84 781.01 L217.97 780.34 L218.11 779.58 L218.24 778.74 L218.37 777.86 L218.50 776.98 L218.64 776.15 L218.77 775.43 L218.90 774.88 L219.04 774.52 L219.17 774.40 L219.30 774.52 L219.44 774.88 L219.57 775.43 L219.70 776.15 L219.83 776.98 L219.97 777.86 L220.10 778.74 L220.23 779.58 L220.37 780.34 L220.50 781.01 L220.63 781.56 L220.77 782.01 L220.90 782.36 L221.03 782.62 L221.16 782.81 L221.30 782.95 L221.43 783.04 L221.56 783.10 L221.70 783.14 L221.83 783.17 L221.96 783.18 L222.10 783.19 L222.23 783.19 L222.36 783.20 L222.49 783.20 L222.63 783.20 L222.76 783.20 L222.89 783.20 L223.03 783.20 L223.16 783.20 L223.29 783.20 L223.43 783.20 L223.56 783.20 L223.69 783.20 L223.82 783.20 L223.96 783.20 L224.09 783.20 L224.22 783.20 L224.36 783.20 L224.49 783.20 L224.62 783.20 L224.76 783.20 L224.89 783.20 L225.02 783.20 L225.15 783.20 L225.29 783.20 L225.42 783.20 L225.55 783.20 L225.69 783.20 L225.82 783.20 L225.95 783.20 L226.09 783.20 L226.22 783.20 L226.35 783.20 L226.48 783.20 L226.62 783.20 L226.75 783.20 L226.88 783.20 L227.02 783.20 L227.15 783.20 L227.28 783.20 L227.42 783.20 L227.55 783.20 L227.68 783.20 L227.81 783.20 L227.95 783.20 L228.08 783.20 L228.21 783.20 L228.35 783.20 L228.48 783.20 L228.61 783.20 L228.75 783.20 L228.88 783.20 L229.01 783.20 L229.14 783.20 L229.28 783.19 L229.41 783.19 L229.54 783.19 L229.68 783.18 L229.81 783.16 L229.94 783.14 L230.08 783.10 L230.21 783.04 L230.34 782.95 L230.47 782.81 L230.61 782.60 L230.74 782.31 L230.87 781.92 L231.01 781.39 L231.14 780.71 L231.27 779.88 L231.41 778.88 L231.54 777.74 L231.67 776.47 L231.80 775.15 L231.94 773.82 L232.07 772.57 L232.20 771.48 L232.34 770.64 L232.47 770.10 L232.60 769.91 L232.74 770.08 L232.87 770.60 L233.00 771.43 L233.13 772.50 L233.27 773.73 L233.40 775.04 L233.53 776.35 L233.67 777.59 L233.80 778.72 L233.93 779.70 L234.07 780.52 L234.20 781.17 L234.33 781.68 L234.46 782.06 L234.60 782.33 L234.73 782.51 L234.86 782.63 L235.00 782.71 L235.13 782.75 L235.26 782.77 L235.40 782.77 L235.53 782.77 L235.66 782.76 L235.79 782.74 L235.93 782.73 L236.06 782.71 L236.19 782.70 L236.33 782.68 L236.46 782.67 L236.59 782.66 L236.73 782.65 L236.86 782.64 L236.99 782.63 L237.12 782.62 L237.26 782.61 L237.39 782.61 L237.52 782.60 L237.66 782.60 L237.79 782.60 L237.92 782.60 L238.06 782.60 L238.19 782.61 L238.32 782.61 L238.45 782.62 L238.59 782.63 L238.72 782.64 L238.85 782.65 L238.99 782.66 L239.12 782.67 L239.25 782.68 L239.39 782.70 L239.52 782.71 L239.65 782.73 L239.78 782.75 L239.92 782.76 L240.05 782.78 L240.18 782.80 L240.32 782.82 L240.45 782.84 L240.58 782.85 L240.72 782.87 L240.85 782.89 L240.98 782.91 L241.11 782.93 L241.25 782.94 L241.38 782.96 L241.51 782.97 L241.65 782.99 L241.78 783.01 L241.91 783.02 L242.05 783.03 L242.18 783.05 L242.31 783.06 L242.44 783.07 L242.58 783.08 L242.71 783.09 L242.84 783.10 L242.98 783.11 L243.11 783.12 L243.24 783.13 L243.38 783.13 L243.51 783.14 L243.64 783.15 L243.77 783.15 L243.91 783.16 L244.04 783.16 L244.17 783.17 L244.31 783.17 L244.44 783.17 L244.57 783.18 L244.71 783.18 L244.84 783.18 L244.97 783.18 L245.10 783.19 L245.24 783.19 L245.37 783.19 L245.50 783.19 L245.64 783.19 L245.77 783.19 L245.90 783.19 L246.04 783.20 L246.17 783.20 L246.30 783.20 L246.43 783.20 L246.57 783.20 L246.70 783.20 L246.83 783.20 L246.97 783.20 L247.10 783.20 L247.23 783.20 L247.37 783.20 L247.50 783.20 L247.63 783.20 L247.76 783.20 L247.90 783.20 L248.03 783.20 L248.16 783.20 L248.30 783.20 L248.43 783.20 L248.56 783.20 L248.70 783.20 L248.83 783.20 L248.96 783.20 L249.09 783.20 L249.23 783.20 L249.36 783.20 L249.49 783.20 L249.63 783.20 L249.76 783.20 L249.89 783.20 L250.03 783.20 L250.16 783.20 L250.29 783.20 L250.42 783.20 L250.56 783.20 L250.69 783.20 L250.82 783.20 L250.96 783.20 L251.09 783.20 L251.22 783.20 L251.36 783.20 L251.49 783.20 L251.62 783.20 L251.75 783.20 L251.89 783.20 L252.02 783.20 L252.15 783.20 L252.29 783.20 L252.42 783.20 L252.55 783.20 L252.69 783.19 L252.82 783.19 L252.95 783.18 L253.08 783.17 L253.22 783.16 L253.35 783.15 L253.48 783.12 L253.62 783.09 L253.75 783.05 L253.88 783.00 L254.02 782.93 L254.15 782.85 L254.28 782.76 L254.41 782.66 L254.55 782.54 L254.68 782.42 L254.81 782.29 L254.95 782.16 L255.08 782.04 L255.21 781.93 L255.35 781.83 L255.48 781.76 L255.61 781.72 L255.74 781.70 L255.88 781.72 L256.01 781.76 L256.14 781.83 L256.28 781.93 L256.41 782.04 L256.54 782.16 L256.68 782.29 L256.81 782.42 L256.94 782.54 L257.07 782.66 L257.21 782.76 L257.34 782.85 L257.47 782.93 L257.61 783.00 L257.74 783.05 L257.87 783.09 L258.01 783.12 L258.14 783.15 L258.27 783.16 L258.40 783.17 L258.54 783.18 L258.67 783.19 L258.80 783.19 L258.94 783.20 L259.07 783.20 L259.20 783.20 L259.34 783.20 L259.47 783.20 L259.60 783.20 L259.73 783.20 L259.87 783.20 L260.00 783.20 L260.13 783.20 L260.27 783.20 L260.40 783.20 L260.53 783.20 L260.67 783.20 L260.80 783.20 L260.93 783.20 L261.06 783.20 L261.20 783.20 L261.33 783.20 L261.46 783.20 L261.60 783.20 L261.73 783.20 L261.86 783.20 L262.00 783.20 L262.13 783.20 L262.26 783.20 L262.39 783.20 L262.53 783.20 L262.66 783.20 L262.79 783.20 L262.93 783.20 L263.06 783.20 L263.19 783.20 L263.33 783.20 L263.46 783.20 L263.59 783.20 L263.72 783.20 L263.86 783.20 L263.99 783.20 L264.12 783.20 L264.26 783.20 L264.39 783.20 L264.52 783.20 L264.66 783.20 L264.79 783.20 L264.92 783.20 L265.05 783.20 L265.19 783.20 L265.32 783.20 L265.45 783.20 L265.59 783.20 L265.72 783.20 L265.85 783.20 L265.99 783.20 L266.12 783.20 L266.25 783.20 L266.38 783.20 L266.52 783.20 L266.65 783.20 L266.78 783.20 L266.92 783.20 L267.05 783.20 L267.18 783.20 L267.32 783.20 L267.45 783.20 L267.58 783.20 L267.71 783.20 L267.85 783.20 L267.98 783.20 L268.11 783.20 L268.25 783.20 L268.38 783.20 L268.51 783.20 L268.65 783.20 L268.78 783.20 L268.91 783.20 L269.04 783.20 L269.18 783.20 L269.31 783.20 L269.44 783.20 L269.58 783.20 L269.71 783.20 L269.84 783.20 L269.98 783.20 L270.11 783.20 L270.24 783.20 L270.37 783.20 L270.51 783.20 L270.64 783.20 L270.77 783.20 L270.91 783.20 L271.04 783.20 L271.17 783.20 L271.31 783.20 L271.44 783.20 L271.57 783.20 L271.70 783.20 L271.84 783.20 L271.97 783.20 L272.10 783.20 L272.24 783.20 L272.37 783.20 L272.50 783.20 L272.64 783.20 L272.77 783.20 L272.90 783.20 L273.03 783.20 L273.17 783.20 L273.30 783.20 L273.43 783.20 L273.57 783.20 L273.70 783.20 L273.83 783.20 L273.97 783.20 L274.10 783.20 L274.23 783.20 L274.36 783.20 L274.50 783.20 L274.63 783.20 L274.76 783.20 L274.90 783.20 L275.03 783.20 L275.16 783.20 L275.30 783.20 L275.43 783.20 L275.56 783.20 L275.69 783.20 L275.83 783.20 L275.96 783.20 L276.09 783.20 L276.23 783.20 L276.36 783.20 L276.49 783.20 L276.63 783.20 L276.76 783.20 L276.89 783.20 L277.02 783.19 L277.16 783.19 L277.29 783.18 L277.42 783.17 L277.56 783.16 L277.69 783.15 L277.82 783.12 L277.96 783.09 L278.09 783.05 L278.22 783.00 L278.35 782.93 L278.49 782.85 L278.62 782.76 L278.75 782.66 L278.89 782.54 L279.02 782.42 L279.15 782.29 L279.29 782.16 L279.42 782.04 L279.55 781.93 L279.68 781.83 L279.82 781.76 L279.95 781.72 L280.08 781.70 L280.22 781.72 L280.35 781.76 L280.48 781.83 L280.62 781.93 L280.75 782.04 L280.88 782.16 L281.01 782.29 L281.15 782.42 L281.28 782.54 L281.41 782.66 L281.55 782.76 L281.68 782.85 L281.81 782.93 L281.95 783.00 L282.08 783.05 L282.21 783.09 L282.34 783.12 L282.48 783.15 L282.61 783.16 L282.74 783.17 L282.88 783.18 L283.01 783.19 L283.14 783.19 L283.28 783.20 L283.41 783.20 L283.54 783.20 L283.67 783.20 L283.81 783.20 L283.94 783.20 L284.07 783.20 L284.21 783.20 L284.34 783.20 L284.47 783.20 L284.61 783.20 L284.74 783.20 L284.87 783.20 L285.00 783.20 L285.14 783.20 L285.27 783.20 L285.40 783.20 L285.54 783.20 L285.67 783.20 L285.80 783.20 L285.94 783.20 L286.07 783.20 L286.20 783.20 L286.34 783.20 L286.47 783.20 L286.60 783.20 L286.73 783.20 L286.87 783.20 L287.00 783.20 L287.13 783.20 L287.27 783.20 L287.40 783.20 L287.53 783.20 L287.67 783.20 L287.80 783.20 L287.93 783.20 L288.06 783.20 L288.20 783.20 L288.33 783.20 L288.46 783.20 L288.60 783.20 L288.73 783.20 L288.86 783.20 L289.00 783.20 L289.13 783.20 L289.26 783.20 L289.39 783.20 L289.53 783.20 L289.66 783.20 L289.79 783.20 L289.93 783.20 L290.06 783.20 L290.19 783.20 L290.33 783.20 L290.46 783.20 L290.59 783.20 L290.72 783.20 L290.86 783.20 L290.99 783.20 L291.12 783.20 L291.26 783.20 L291.39 783.20 L291.52 783.20 L291.66 783.20 L291.79 783.20 L291.92 783.20 L292.05 783.20 L292.19 783.20 L292.32 783.20 L292.45 783.20 L292.59 783.20 L292.72 783.20 L292.85 783.20 L292.99 783.20 L293.12 783.20 L293.25 783.20 L293.38 783.19 L293.52 783.19 L293.65 783.18 L293.78 783.17 L293.92 783.15 L294.05 783.13 L294.18 783.09 L294.32 783.03 L294.45 782.96 L294.58 782.85 L294.71 782.72 L294.85 782.54 L294.98 782.31 L295.11 782.02 L295.25 781.68 L295.38 781.28 L295.51 780.82 L295.65 780.31 L295.78 779.77 L295.91 779.20 L296.04 778.63 L296.18 778.09 L296.31 777.59 L296.44 777.18 L296.58 776.86 L296.71 776.67 L296.84 776.60 L296.98 776.67 L297.11 776.86 L297.24 777.18 L297.37 777.59 L297.51 778.09 L297.64 778.63 L297.77 779.20 L297.91 779.77 L298.04 780.31 L298.17 780.82 L298.31 781.28 L298.44 781.68 L298.57 782.02 L298.70 782.31 L298.84 782.54 L298.97 782.72 L299.10 782.85 L299.24 782.96 L299.37 783.03 L299.50 783.09 L299.64 783.13 L299.77 783.15 L299.90 783.17 L300.03 783.18 L300.17 783.19 L300.30 783.19 L300.43 783.20 L300.57 783.20 L300.70 783.20 L300.83 783.20 L300.97 783.20 L301.10 783.20 L301.23 783.20 L301.36 783.20 L301.50 783.20 L301.63 783.20 L301.76 783.20 L301.90 783.20 L302.03 783.20 L302.16 783.20 L302.30 783.20 L302.43 783.20 L302.56 783.20 L302.69 783.20 L302.83 783.20 L302.96 783.20 L303.09 783.20 L303.23 783.20 L303.36 783.20 L303.49 783.20 L303.63 783.20 L303.76 783.20 L303.89 783.20 L304.02 783.20 L304.16 783.20 L304.29 783.20 L304.42 783.20 L304.56 783.19 L304.69 783.19 L304.82 783.19 L304.96 783.18 L305.09 783.17 L305.22 783.16 L305.35 783.15 L305.49 783.14 L305.62 783.12 L305.75 783.09 L305.89 783.06 L306.02 783.03 L306.15 782.99 L306.29 782.94 L306.42 782.89 L306.55 782.83 L306.68 782.78 L306.82 782.71 L306.95 782.65 L307.08 782.60 L307.22 782.54 L307.35 782.49 L307.48 782.45 L307.62 782.42 L307.75 782.41 L307.88 782.40 L308.01 782.41 L308.15 782.42 L308.28 782.45 L308.41 782.49 L308.55 782.54 L308.68 782.60 L308.81 782.65 L308.95 782.71 L309.08 782.78 L309.21 782.83 L309.34 782.89 L309.48 782.94 L309.61 782.99 L309.74 783.03 L309.88 783.06 L310.01 783.09 L310.14 783.12 L310.28 783.14 L310.41 783.15 L310.54 783.16 L310.67 783.17 L310.81 783.18 L310.94 783.19 L311.07 783.19 L311.21 783.19 L311.34 783.20 L311.47 783.20 L311.61 783.20 L311.74 783.20 L311.87 783.20 L312.00 783.20 L312.14 783.20 L312.27 783.20 L312.40 783.20 L312.54 783.20 L312.67 783.20 L312.80 783.20 L312.94 783.20 L313.07 783.20 L313.20 783.20 L313.33 783.20 L313.47 783.20 L313.60 783.20 L313.73 783.20 L313.87 783.20 L314.00 783.20 L314.13 783.20 L314.27 783.20 L314.40 783.20 L314.53 783.20 L314.66 783.20 L314.80 783.20 L314.93 783.20 L315.06 783.20 L315.20 783.20 L315.33 783.20 L315.46 783.20 L315.60 783.20 L315.73 783.20 L315.86 783.20 L315.99 783.20 L316.13 783.20 L316.26 783.20 L316.39 783.20 L316.53 783.20 L316.66 783.20 L316.79 783.20 L316.93 783.20 L317.06 783.20 L317.19 783.20 L317.32 783.20 L317.46 783.20 L317.59 783.20 L317.72 783.20 L317.86 783.20 L317.99 783.20 L318.12 783.20 L318.26 783.20 L318.39 783.20 L318.52 783.20 L318.65 783.20 L318.79 783.20 L318.92 783.20 L319.05 783.20 L319.19 783.20 L319.32 783.20 L319.45 783.20 L319.59 783.20 L319.72 783.20 L319.85 783.20 L319.98 783.19 L320.12 783.19 L320.25 783.19 L320.38 783.18 L320.52 783.17 L320.65 783.16 L320.78 783.15 L320.92 783.13 L321.05 783.11 L321.18 783.08 L321.31 783.04 L321.45 783.00 L321.58 782.94 L321.71 782.87 L321.85 782.79 L321.98 782.69 L322.11 782.58 L322.25 782.44 L322.38 782.29 L322.51 782.12 L322.64 781.92 L322.78 781.71 L322.91 781.47 L323.04 781.22 L323.18 780.96 L323.31 780.69 L323.44 780.41 L323.58 780.13 L323.71 779.86 L323.84 779.60 L323.97 779.36 L324.11 779.14 L324.24 778.95 L324.37 778.80 L324.51 778.69 L324.64 778.62 L324.77 778.60 L324.91 778.62 L325.04 778.69 L325.17 778.80 L325.30 778.95 L325.44 779.14 L325.57 779.36 L325.70 779.60 L325.84 779.86 L325.97 780.13 L326.10 780.41 L326.24 780.69 L326.37 780.96 L326.50 781.22 L326.63 781.47 L326.77 781.70 L326.90 781.92 L327.03 782.11 L327.17 782.28 L327.30 782.43 L327.43 782.55 L327.57 782.66 L327.70 782.74 L327.83 782.80 L327.96 782.85 L328.10 782.87 L328.23 782.86 L328.36 782.84 L328.50 782.79 L328.63 782.73 L328.76 782.63 L328.90 782.51 L329.03 782.37 L329.16 782.21 L329.29 782.02 L329.43 781.82 L329.56 781.60 L329.69 781.37 L329.83 781.15 L329.96 780.93 L330.09 780.73 L330.23 780.54 L330.36 780.39 L330.49 780.28 L330.62 780.20 L330.76 780.17 L330.89 780.19 L331.02 780.24 L331.16 780.33 L331.29 780.45 L331.42 780.60 L331.56 780.76 L331.69 780.91 L331.82 781.06 L331.95 781.19 L332.09 781.29 L332.22 781.34 L332.35 781.34 L332.49 781.29 L332.62 781.16 L332.75 780.96 L332.89 780.69 L333.02 780.33 L333.15 779.89 L333.28 779.36 L333.42 778.76 L333.55 778.07 L333.68 777.31 L333.82 776.48 L333.95 775.60 L334.08 774.67 L334.22 773.71 L334.35 772.75 L334.48 771.79 L334.61 770.86 L334.75 769.97 L334.88 769.16 L335.01 768.42 L335.15 767.79 L335.28 767.28 L335.41 766.90 L335.55 766.64 L335.68 766.53 L335.81 766.55 L335.94 766.71 L336.08 766.98 L336.21 767.37 L336.34 767.85 L336.48 768.42 L336.61 769.04 L336.74 769.71 L336.88 770.40 L337.01 771.11 L337.14 771.80 L337.27 772.49 L337.41 773.14 L337.54 773.76 L337.67 774.34 L337.81 774.88 L337.94 775.37 L338.07 775.83 L338.21 776.24 L338.34 776.61 L338.47 776.95 L338.60 777.27 L338.74 777.56 L338.87 777.83 L339.00 778.09 L339.14 778.34 L339.27 778.58 L339.40 778.81 L339.54 779.03 L339.67 779.26 L339.80 779.48 L339.93 779.70 L340.07 779.92 L340.20 780.13 L340.33 780.34 L340.47 780.54 L340.60 780.74 L340.73 780.93 L340.87 781.10 L341.00 781.27 L341.13 781.41 L341.26 781.54 L341.40 781.64 L341.53 781.72 L341.66 781.77 L341.80 781.78 L341.93 781.75 L342.06 781.68 L342.20 781.55 L342.33 781.37 L342.46 781.13 L342.59 780.83 L342.73 780.48 L342.86 780.07 L342.99 779.62 L343.13 779.14 L343.26 778.63 L343.39 778.12 L343.53 777.62 L343.66 777.16 L343.79 776.75 L343.92 776.41 L344.06 776.15 L344.19 776.00 L344.32 775.95 L344.46 776.02 L344.59 776.19 L344.72 776.46 L344.86 776.83 L344.99 777.26 L345.12 777.75 L345.25 778.28 L345.39 778.83 L345.52 779.37 L345.65 779.90 L345.79 780.40 L345.92 780.86 L346.05 781.27 L346.19 781.64 L346.32 781.96 L346.45 782.22 L346.58 782.44 L346.72 782.62 L346.85 782.76 L346.98 782.87 L347.12 782.95 L347.25 783.01 L347.38 783.04 L347.52 783.06 L347.65 783.06 L347.78 783.04 L347.91 783.01 L348.05 782.95 L348.18 782.87 L348.31 782.77 L348.45 782.64 L348.58 782.48 L348.71 782.28 L348.85 782.05 L348.98 781.78 L349.11 781.48 L349.24 781.14 L349.38 780.77 L349.51 780.39 L349.64 779.99 L349.78 779.59 L349.91 779.20 L350.04 778.84 L350.18 778.52 L350.31 778.26 L350.44 778.06 L350.57 777.94 L350.71 777.90 L350.84 777.94 L350.97 778.06 L351.11 778.26 L351.24 778.52 L351.37 778.84 L351.51 779.20 L351.64 779.59 L351.77 779.99 L351.90 780.39 L352.04 780.77 L352.17 781.14 L352.30 781.48 L352.44 781.78 L352.57 782.05 L352.70 782.29 L352.84 782.48 L352.97 782.65 L353.10 782.78 L353.23 782.88 L353.37 782.97 L353.50 783.03 L353.63 783.08 L353.77 783.11 L353.90 783.14 L354.03 783.16 L354.17 783.17 L354.30 783.18 L354.43 783.19 L354.56 783.19 L354.70 783.20 L354.83 783.20 L354.96 783.20 L355.10 783.20 L355.23 783.20 L355.36 783.20 L355.50 783.20 L355.63 783.20 L355.76 783.20 L355.89 783.20 L356.03 783.20 L356.16 783.20 L356.29 783.19 L356.43 783.19 L356.56 783.19 L356.69 783.19 L356.83 783.18 L356.96 783.18 L357.09 783.17 L357.22 783.16 L357.36 783.15 L357.49 783.13 L357.62 783.12 L357.76 783.09 L357.89 783.07 L358.02 783.03 L358.16 782.99 L358.29 782.94 L358.42 782.88 L358.55 782.81 L358.69 782.73 L358.82 782.64 L358.95 782.53 L359.09 782.40 L359.22 782.26 L359.35 782.10 L359.49 781.92 L359.62 781.73 L359.75 781.52 L359.88 781.28 L360.02 781.04 L360.15 780.77 L360.28 780.50 L360.42 780.21 L360.55 779.92 L360.68 779.62 L360.82 779.32 L360.95 779.03 L361.08 778.75 L361.21 778.48 L361.35 778.22 L361.48 777.99 L361.61 777.79 L361.75 777.62 L361.88 777.48 L362.01 777.38 L362.15 777.32 L362.28 777.30 L362.41 777.32 L362.54 777.38 L362.68 777.48 L362.81 777.62 L362.94 777.79 L363.08 777.99 L363.21 778.22 L363.34 778.48 L363.48 778.75 L363.61 779.03 L363.74 779.32 L363.87 779.62 L364.01 779.92 L364.14 780.21 L364.27 780.50 L364.41 780.77 L364.54 781.04 L364.67 781.28 L364.81 781.52 L364.94 781.73 L365.07 781.92 L365.20 782.10 L365.34 782.26 L365.47 782.40 L365.60 782.53 L365.74 782.64 L365.87 782.73 L366.00 782.81 L366.14 782.88 L366.27 782.94 L366.40 782.99 L366.53 783.03 L366.67 783.07 L366.80 783.09 L366.93 783.12 L367.07 783.13 L367.20 783.15 L367.33 783.16 L367.47 783.17 L367.60 783.18 L367.73 783.18 L367.86 783.19 L368.00 783.19 L368.13 783.19 L368.26 783.19 L368.40 783.20 L368.53 783.20 L368.66 783.20 L368.80 783.20 L368.93 783.20 L369.06 783.20 L369.19 783.20 L369.33 783.20 L369.46 783.20 L369.59 783.20 L369.73 783.20 L369.86 783.20 L369.99 783.20 L370.13 783.20 L370.26 783.20 L370.39 783.20 L370.52 783.20 L370.66 783.20 L370.79 783.20 L370.92 783.20 L371.06 783.20 L371.19 783.20 L371.32 783.20 L371.46 783.20 L371.59 783.20 L371.72 783.20 L371.85 783.20 L371.99 783.19 L372.12 783.19 L372.25 783.19 L372.39 783.19 L372.52 783.19 L372.65 783.19 L372.79 783.19 L372.92 783.19 L373.05 783.19 L373.18 783.18 L373.32 783.18 L373.45 783.18 L373.58 783.17 L373.72 783.17 L373.85 783.16 L373.98 783.14 L374.12 783.13 L374.25 783.10 L374.38 783.07 L374.51 783.02 L374.65 782.96 L374.78 782.89 L374.91 782.79 L375.05 782.68 L375.18 782.54 L375.31 782.37 L375.45 782.18 L375.58 781.97 L375.71 781.75 L375.84 781.52 L375.98 781.29 L376.11 781.06 L376.24 780.86 L376.38 780.68 L376.51 780.55 L376.64 780.46 L376.78 780.42 L376.91 780.43 L377.04 780.49 L377.17 780.60 L377.31 780.74 L377.44 780.92 L377.57 781.11 L377.71 781.31 L377.84 781.52 L377.97 781.71 L378.11 781.88 L378.24 782.04 L378.37 782.17 L378.50 782.28 L378.64 782.36 L378.77 782.42 L378.90 782.45 L379.04 782.48 L379.17 782.48 L379.30 782.47 L379.44 782.46 L379.57 782.43 L379.70 782.40 L379.83 782.37 L379.97 782.33 L380.10 782.28 L380.23 782.24 L380.37 782.19 L380.50 782.14 L380.63 782.09 L380.77 782.04 L380.90 781.99 L381.03 781.94 L381.16 781.88 L381.30 781.82 L381.43 781.77 L381.56 781.71 L381.70 781.65 L381.83 781.59 L381.96 781.53 L382.10 781.46 L382.23 781.40 L382.36 781.34 L382.49 781.27 L382.63 781.20 L382.76 781.14 L382.89 781.07 L383.03 781.00 L383.16 780.93 L383.29 780.86 L383.43 780.78 L383.56 780.71 L383.69 780.63 L383.82 780.55 L383.96 780.47 L384.09 780.39 L384.22 780.31 L384.36 780.22 L384.49 780.13 L384.62 780.04 L384.76 779.95 L384.89 779.85 L385.02 779.75 L385.15 779.65 L385.29 779.55 L385.42 779.44 L385.55 779.33 L385.69 779.22 L385.82 779.11 L385.95 778.99 L386.09 778.88 L386.22 778.76 L386.35 778.64 L386.48 778.52 L386.62 778.40 L386.75 778.28 L386.88 778.16 L387.02 778.04 L387.15 777.93 L387.28 777.81 L387.42 777.70 L387.55 777.59 L387.68 777.48 L387.81 777.37 L387.95 777.26 L388.08 777.14 L388.21 777.02 L388.35 776.88 L388.48 776.74 L388.61 776.57 L388.75 776.38 L388.88 776.16 L389.01 775.91 L389.14 775.62 L389.28 775.30 L389.41 774.95 L389.54 774.56 L389.68 774.15 L389.81 773.72 L389.94 773.29 L390.08 772.87 L390.21 772.48 L390.34 772.13 L390.47 771.84 L390.61 771.62 L390.74 771.47 L390.87 771.41 L391.01 771.43 L391.14 771.50 L391.27 771.62 L391.41 771.74 L391.54 771.84 L391.67 771.87 L391.80 771.79 L391.94 771.56 L392.07 771.18 L392.20 770.63 L392.34 769.94 L392.47 769.14 L392.60 768.30 L392.74 767.50 L392.87 766.82 L393.00 766.35 L393.13 766.17 L393.27 766.32 L393.40 766.82 L393.53 767.67 L393.67 768.81 L393.80 770.19 L393.93 771.72 L394.07 773.31 L394.20 774.88 L394.33 776.37 L394.46 777.72 L394.60 778.89 L394.73 779.88 L394.86 780.68 L395.00 781.31 L395.13 781.80 L395.26 782.16 L395.40 782.42 L395.53 782.61 L395.66 782.75 L395.79 782.84 L395.93 782.91 L396.06 782.96 L396.19 783.00 L396.33 783.03 L396.46 783.05 L396.59 783.07 L396.73 783.08 L396.86 783.09 L396.99 783.11 L397.12 783.12 L397.26 783.13 L397.39 783.13 L397.52 783.14 L397.66 783.15 L397.79 783.15 L397.92 783.16 L398.06 783.16 L398.19 783.17 L398.32 783.17 L398.45 783.17 L398.59 783.18 L398.72 783.18 L398.85 783.18 L398.99 783.18 L399.12 783.19 L399.25 783.19 L399.39 783.19 L399.52 783.19 L399.65 783.19 L399.78 783.19 L399.92 783.19 L400.05 783.19 L400.18 783.19 L400.32 783.20 L400.45 783.20 L400.58 783.20 L400.72 783.20 L400.85 783.20 L400.98 783.20 L401.11 783.20 L401.25 783.20 L401.38 783.20 L401.51 783.20 L401.65 783.20 L401.78 783.20 L401.91 783.20 L402.05 783.20 L402.18 783.20 L402.31 783.20 L402.44 783.20 L402.58 783.20 L402.71 783.20 L402.84 783.20 L402.98 783.20 L403.11 783.20 L403.24 783.20 L403.38 783.20 L403.51 783.20 L403.64 783.20 L403.77 783.20 L403.91 783.20 L404.04 783.20 L404.17 783.20 L404.31 783.20 L404.44 783.20 L404.57 783.20 L404.71 783.20 L404.84 783.20 L404.97 783.20 L405.10 783.20 L405.24 783.20 L405.37 783.20 L405.50 783.20 L405.64 783.20 L405.77 783.20 L405.90 783.20 L406.04 783.20 L406.17 783.20 L406.30 783.20 L406.43 783.20 L406.57 783.20 L406.70 783.20 L406.83 783.20 L406.97 783.20 L407.10 783.20 L407.23 783.20 L407.37 783.20 L407.50 783.20 L407.63 783.20 L407.76 783.2 L47.60 783.2 Z" fill="#126b39" stroke="none"/>
<path d="M47.60 783.20 L47.73 783.20 L47.87 783.20 L48.00 783.20 L48.13 783.20 L48.27 783.20 L48.40 783.20 L48.53 783.20 L48.66 783.20 L48.80 783.20 L48.93 783.20 L49.06 783.20 L49.20 783.20 L49.33 783.20 L49.46 783.20 L49.59 783.20 L49.73 783.20 L49.86 783.20 L49.99 783.20 L50.13 783.20 L50.26 783.20 L50.39 783.20 L50.53 783.20 L50.66 783.20 L50.79 783.20 L50.93 783.20 L51.06 783.20 L51.19 783.20 L51.32 783.20 L51.46 783.20 L51.59 783.20 L51.72 783.20 L51.86 783.20 L51.99 783.20 L52.12 783.20 L52.26 783.20 L52.39 783.20 L52.52 783.20 L52.65 783.20 L52.79 783.20 L52.92 783.20 L53.05 783.20 L53.19 783.20 L53.32 783.20 L53.45 783.20 L53.59 783.20 L53.72 783.20 L53.85 783.20 L53.98 783.20 L54.12 783.20 L54.25 783.20 L54.38 783.20 L54.52 783.20 L54.65 783.20 L54.78 783.20 L54.92 783.20 L55.05 783.20 L55.18 783.20 L55.31 783.20 L55.45 783.20 L55.58 783.20 L55.71 783.20 L55.85 783.20 L55.98 783.20 L56.11 783.20 L56.25 783.20 L56.38 783.20 L56.51 783.20 L56.64 783.20 L56.78 783.20 L56.91 783.20 L57.04 783.20 L57.18 783.20 L57.31 783.20 L57.44 783.20 L57.58 783.20 L57.71 783.20 L57.84 783.20 L57.97 783.20 L58.11 783.20 L58.24 783.20 L58.37 783.20 L58.51 783.20 L58.64 783.20 L58.77 783.20 L58.91 783.20 L59.04 783.20 L59.17 783.20 L59.30 783.20 L59.44 783.20 L59.57 783.20 L59.70 783.20 L59.84 783.20 L59.97 783.20 L60.10 783.20 L60.24 783.20 L60.37 783.20 L60.50 783.20 L60.63 783.20 L60.77 783.20 L60.90 783.20 L61.03 783.20 L61.17 783.20 L61.30 783.20 L61.43 783.20 L61.57 783.20 L61.70 783.20 L61.83 783.20 L61.96 783.20 L62.10 783.20 L62.23 783.20 L62.36 783.20 L62.50 783.20 L62.63 783.20 L62.76 783.20 L62.90 783.20 L63.03 783.20 L63.16 783.20 L63.29 783.20 L63.43 783.20 L63.56 783.20 L63.69 783.20 L63.83 783.20 L63.96 783.19 L64.09 783.19 L64.23 783.18 L64.36 783.18 L64.49 783.16 L64.62 783.14 L64.76 783.12 L64.89 783.08 L65.02 783.04 L65.16 782.98 L65.29 782.90 L65.42 782.81 L65.56 782.69 L65.69 782.56 L65.82 782.41 L65.95 782.24 L66.09 782.06 L66.22 781.87 L66.35 781.68 L66.49 781.50 L66.62 781.33 L66.75 781.19 L66.89 781.09 L67.02 781.02 L67.15 781.00 L67.28 781.02 L67.42 781.09 L67.55 781.19 L67.68 781.33 L67.82 781.50 L67.95 781.68 L68.08 781.87 L68.22 782.06 L68.35 782.24 L68.48 782.41 L68.61 782.56 L68.75 782.69 L68.88 782.81 L69.01 782.90 L69.15 782.98 L69.28 783.04 L69.41 783.08 L69.55 783.12 L69.68 783.14 L69.81 783.16 L69.94 783.18 L70.08 783.18 L70.21 783.19 L70.34 783.19 L70.48 783.20 L70.61 783.20 L70.74 783.20 L70.88 783.20 L71.01 783.20 L71.14 783.20 L71.27 783.20 L71.41 783.20 L71.54 783.20 L71.67 783.20 L71.81 783.20 L71.94 783.20 L72.07 783.20 L72.21 783.20 L72.34 783.20 L72.47 783.20 L72.60 783.20 L72.74 783.20 L72.87 783.20 L73.00 783.20 L73.14 783.20 L73.27 783.20 L73.40 783.20 L73.54 783.20 L73.67 783.20 L73.80 783.20 L73.93 783.20 L74.07 783.20 L74.20 783.20 L74.33 783.20 L74.47 783.20 L74.60 783.20 L74.73 783.20 L74.87 783.20 L75.00 783.20 L75.13 783.20 L75.26 783.20 L75.40 783.20 L75.53 783.20 L75.66 783.20 L75.80 783.20 L75.93 783.20 L76.06 783.20 L76.19 783.20 L76.33 783.20 L76.46 783.20 L76.59 783.20 L76.73 783.20 L76.86 783.20 L76.99 783.20 L77.13 783.20 L77.26 783.20 L77.39 783.20 L77.52 783.20 L77.66 783.20 L77.79 783.20 L77.92 783.20 L78.06 783.20 L78.19 783.20 L78.32 783.20 L78.46 783.20 L78.59 783.20 L78.72 783.20 L78.85 783.20 L78.99 783.20 L79.12 783.20 L79.25 783.20 L79.39 783.20 L79.52 783.20 L79.65 783.20 L79.79 783.20 L79.92 783.20 L80.05 783.20 L80.18 783.20 L80.32 783.20 L80.45 783.20 L80.58 783.20 L80.72 783.20 L80.85 783.20 L80.98 783.20 L81.12 783.20 L81.25 783.20 L81.38 783.20 L81.51 783.20 L81.65 783.20 L81.78 783.20 L81.91 783.20 L82.05 783.20 L82.18 783.20 L82.31 783.20 L82.45 783.20 L82.58 783.20 L82.71 783.20 L82.84 783.20 L82.98 783.20 L83.11 783.20 L83.24 783.19 L83.38 783.19 L83.51 783.19 L83.64 783.18 L83.78 783.17 L83.91 783.15 L84.04 783.12 L84.17 783.08 L84.31 783.02 L84.44 782.94 L84.57 782.84 L84.71 782.69 L84.84 782.50 L84.97 782.25 L85.11 781.93 L85.24 781.53 L85.37 781.03 L85.50 780.44 L85.64 779.74 L85.77 778.93 L85.90 778.01 L86.04 776.98 L86.17 775.87 L86.30 774.70 L86.44 773.50 L86.57 772.29 L86.70 771.12 L86.83 770.04 L86.97 769.08 L87.10 768.29 L87.23 767.69 L87.37 767.32 L87.50 767.20 L87.63 767.32 L87.77 767.69 L87.90 768.29 L88.03 769.08 L88.16 770.04 L88.30 771.12 L88.43 772.29 L88.56 773.50 L88.70 774.70 L88.83 775.87 L88.96 776.98 L89.10 778.01 L89.23 778.93 L89.36 779.74 L89.49 780.44 L89.63 781.03 L89.76 781.53 L89.89 781.93 L90.03 782.25 L90.16 782.50 L90.29 782.69 L90.43 782.84 L90.56 782.94 L90.69 783.02 L90.82 783.08 L90.96 783.12 L91.09 783.15 L91.22 783.17 L91.36 783.18 L91.49 783.19 L91.62 783.19 L91.76 783.19 L91.89 783.20 L92.02 783.20 L92.15 783.20 L92.29 783.20 L92.42 783.20 L92.55 783.20 L92.69 783.20 L92.82 783.20 L92.95 783.20 L93.09 783.20 L93.22 783.20 L93.35 783.20 L93.48 783.20 L93.62 783.20 L93.75 783.20 L93.88 783.20 L94.02 783.20 L94.15 783.20 L94.28 783.20 L94.42 783.20 L94.55 783.20 L94.68 783.20 L94.81 783.20 L94.95 783.20 L95.08 783.20 L95.21 783.20 L95.35 783.20 L95.48 783.20 L95.61 783.20 L95.75 783.20 L95.88 783.20 L96.01 783.20 L96.14 783.20 L96.28 783.20 L96.41 783.20 L96.54 783.20 L96.68 783.20 L96.81 783.20 L96.94 783.20 L97.08 783.20 L97.21 783.20 L97.34 783.20 L97.47 783.20 L97.61 783.20 L97.74 783.20 L97.87 783.20 L98.01 783.20 L98.14 783.19 L98.27 783.19 L98.41 783.19 L98.54 783.19 L98.67 783.18 L98.80 783.18 L98.94 783.17 L99.07 783.16 L99.20 783.16 L99.34 783.14 L99.47 783.13 L99.60 783.12 L99.74 783.10 L99.87 783.08 L100.00 783.06 L100.13 783.04 L100.27 783.01 L100.40 782.99 L100.53 782.96 L100.67 782.93 L100.80 782.90 L100.93 782.87 L101.07 782.84 L101.20 782.81 L101.33 782.78 L101.46 782.76 L101.60 782.74 L101.73 782.72 L101.86 782.71 L102.00 782.70 L102.13 782.70 L102.26 782.70 L102.40 782.71 L102.53 782.72 L102.66 782.74 L102.79 782.76 L102.93 782.78 L103.06 782.81 L103.19 782.84 L103.33 782.87 L103.46 782.90 L103.59 782.93 L103.73 782.96 L103.86 782.99 L103.99 783.01 L104.12 783.04 L104.26 783.06 L104.39 783.08 L104.52 783.10 L104.66 783.12 L104.79 783.13 L104.92 783.14 L105.06 783.16 L105.19 783.16 L105.32 783.17 L105.45 783.18 L105.59 783.18 L105.72 783.19 L105.85 783.19 L105.99 783.19 L106.12 783.19 L106.25 783.20 L106.39 783.20 L106.52 783.20 L106.65 783.20 L106.78 783.20 L106.92 783.20 L107.05 783.20 L107.18 783.20 L107.32 783.20 L107.45 783.20 L107.58 783.20 L107.72 783.20 L107.85 783.20 L107.98 783.20 L108.11 783.20 L108.25 783.20 L108.38 783.20 L108.51 783.20 L108.65 783.20 L108.78 783.20 L108.91 783.20 L109.05 783.20 L109.18 783.20 L109.31 783.20 L109.44 783.20 L109.58 783.20 L109.71 783.20 L109.84 783.20 L109.98 783.20 L110.11 783.20 L110.24 783.20 L110.38 783.20 L110.51 783.20 L110.64 783.20 L110.77 783.20 L110.91 783.20 L111.04 783.20 L111.17 783.20 L111.31 783.20 L111.44 783.20 L111.57 783.20 L111.71 783.20 L111.84 783.20 L111.97 783.20 L112.10 783.20 L112.24 783.20 L112.37 783.20 L112.50 783.20 L112.64 783.20 L112.77 783.20 L112.90 783.20 L113.04 783.20 L113.17 783.20 L113.30 783.20 L113.43 783.20 L113.57 783.20 L113.70 783.20 L113.83 783.20 L113.97 783.20 L114.10 783.20 L114.23 783.20 L114.37 783.20 L114.50 783.20 L114.63 783.20 L114.76 783.20 L114.90 783.20 L115.03 783.20 L115.16 783.20 L115.30 783.20 L115.43 783.20 L115.56 783.20 L115.70 783.20 L115.83 783.20 L115.96 783.20 L116.09 783.20 L116.23 783.20 L116.36 783.20 L116.49 783.20 L116.63 783.20 L116.76 783.20 L116.89 783.20 L117.03 783.20 L117.16 783.20 L117.29 783.20 L117.42 783.20 L117.56 783.20 L117.69 783.20 L117.82 783.20 L117.96 783.20 L118.09 783.20 L118.22 783.20 L118.36 783.20 L118.49 783.20 L118.62 783.20 L118.75 783.20 L118.89 783.20 L119.02 783.20 L119.15 783.20 L119.29 783.20 L119.42 783.20 L119.55 783.20 L119.69 783.20 L119.82 783.20 L119.95 783.20 L120.08 783.20 L120.22 783.20 L120.35 783.20 L120.48 783.20 L120.62 783.20 L120.75 783.20 L120.88 783.20 L121.02 783.20 L121.15 783.20 L121.28 783.20 L121.41 783.20 L121.55 783.20 L121.68 783.20 L121.81 783.19 L121.95 783.19 L122.08 783.18 L122.21 783.16 L122.35 783.14 L122.48 783.09 L122.61 783.03 L122.74 782.93 L122.88 782.77 L123.01 782.56 L123.14 782.25 L123.28 781.83 L123.41 781.26 L123.54 780.53 L123.68 779.62 L123.81 778.49 L123.94 777.17 L124.07 775.65 L124.21 773.96 L124.34 772.17 L124.47 770.33 L124.61 768.55 L124.74 766.90 L124.87 765.49 L125.01 764.41 L125.14 763.73 L125.27 763.50 L125.40 763.73 L125.54 764.41 L125.67 765.48 L125.80 766.89 L125.94 768.53 L126.07 770.30 L126.20 772.12 L126.34 773.89 L126.47 775.54 L126.60 777.02 L126.73 778.29 L126.87 779.32 L127.00 780.13 L127.13 780.71 L127.27 781.09 L127.40 781.29 L127.53 781.31 L127.67 781.19 L127.80 780.94 L127.93 780.57 L128.06 780.11 L128.20 779.56 L128.33 778.95 L128.46 778.29 L128.60 777.61 L128.73 776.92 L128.86 776.25 L129.00 775.63 L129.13 775.08 L129.26 774.62 L129.39 774.28 L129.53 774.07 L129.66 774.00 L129.79 774.07 L129.93 774.28 L130.06 774.62 L130.19 775.08 L130.33 775.63 L130.46 776.26 L130.59 776.93 L130.72 777.62 L130.86 778.31 L130.99 778.99 L131.12 779.63 L131.26 780.21 L131.39 780.74 L131.52 781.21 L131.66 781.61 L131.79 781.95 L131.92 782.24 L132.05 782.47 L132.19 782.65 L132.32 782.80 L132.45 782.91 L132.59 782.99 L132.72 783.05 L132.85 783.10 L132.99 783.13 L133.12 783.15 L133.25 783.17 L133.38 783.18 L133.52 783.19 L133.65 783.19 L133.78 783.19 L133.92 783.20 L134.05 783.20 L134.18 783.20 L134.32 783.20 L134.45 783.20 L134.58 783.20 L134.71 783.20 L134.85 783.20 L134.98 783.20 L135.11 783.20 L135.25 783.20 L135.38 783.20 L135.51 783.20 L135.65 783.20 L135.78 783.20 L135.91 783.20 L136.04 783.20 L136.18 783.20 L136.31 783.20 L136.44 783.20 L136.58 783.20 L136.71 783.20 L136.84 783.20 L136.98 783.20 L137.11 783.20 L137.24 783.20 L137.37 783.20 L137.51 783.20 L137.64 783.20 L137.77 783.20 L137.91 783.20 L138.04 783.20 L138.17 783.20 L138.31 783.20 L138.44 783.20 L138.57 783.20 L138.70 783.20 L138.84 783.20 L138.97 783.20 L139.10 783.20 L139.24 783.20 L139.37 783.20 L139.50 783.20 L139.64 783.20 L139.77 783.20 L139.90 783.20 L140.03 783.20 L140.17 783.20 L140.30 783.20 L140.43 783.20 L140.57 783.20 L140.70 783.20 L140.83 783.20 L140.97 783.20 L141.10 783.20 L141.23 783.20 L141.36 783.20 L141.50 783.20 L141.63 783.20 L141.76 783.20 L141.90 783.20 L142.03 783.20 L142.16 783.20 L142.30 783.20 L142.43 783.20 L142.56 783.20 L142.69 783.20 L142.83 783.20 L142.96 783.20 L143.09 783.20 L143.23 783.20 L143.36 783.20 L143.49 783.20 L143.63 783.20 L143.76 783.20 L143.89 783.20 L144.02 783.20 L144.16 783.20 L144.29 783.20 L144.42 783.20 L144.56 783.20 L144.69 783.20 L144.82 783.20 L144.96 783.20 L145.09 783.20 L145.22 783.20 L145.35 783.20 L145.49 783.20 L145.62 783.20 L145.75 783.20 L145.89 783.20 L146.02 783.20 L146.15 783.20 L146.29 783.20 L146.42 783.20 L146.55 783.20 L146.68 783.20 L146.82 783.20 L146.95 783.20 L147.08 783.20 L147.22 783.20 L147.35 783.20 L147.48 783.20 L147.62 783.20 L147.75 783.20 L147.88 783.20 L148.01 783.20 L148.15 783.20 L148.28 783.20 L148.41 783.20 L148.55 783.20 L148.68 783.20 L148.81 783.20 L148.95 783.20 L149.08 783.20 L149.21 783.20 L149.34 783.20 L149.48 783.20 L149.61 783.20 L149.74 783.20 L149.88 783.20 L150.01 783.20 L150.14 783.20 L150.28 783.20 L150.41 783.20 L150.54 783.20 L150.67 783.20 L150.81 783.20 L150.94 783.20 L151.07 783.20 L151.21 783.20 L151.34 783.20 L151.47 783.20 L151.61 783.20 L151.74 783.20 L151.87 783.20 L152.00 783.20 L152.14 783.20 L152.27 783.20 L152.40 783.20 L152.54 783.20 L152.67 783.20 L152.80 783.20 L152.94 783.20 L153.07 783.20 L153.20 783.20 L153.33 783.20 L153.47 783.20 L153.60 783.20 L153.73 783.20 L153.87 783.20 L154.00 783.20 L154.13 783.20 L154.27 783.20 L154.40 783.20 L154.53 783.20 L154.66 783.20 L154.80 783.20 L154.93 783.20 L155.06 783.20 L155.20 783.20 L155.33 783.19 L155.46 783.19 L155.60 783.19 L155.73 783.19 L155.86 783.18 L155.99 783.17 L156.13 783.17 L156.26 783.16 L156.39 783.14 L156.53 783.13 L156.66 783.11 L156.79 783.09 L156.93 783.06 L157.06 783.04 L157.19 783.00 L157.32 782.96 L157.46 782.92 L157.59 782.88 L157.72 782.82 L157.86 782.77 L157.99 782.71 L158.12 782.65 L158.26 782.59 L158.39 782.53 L158.52 782.47 L158.65 782.42 L158.79 782.36 L158.92 782.32 L159.05 782.28 L159.19 782.24 L159.32 782.22 L159.45 782.20 L159.59 782.20 L159.72 782.20 L159.85 782.22 L159.98 782.24 L160.12 782.28 L160.25 782.32 L160.38 782.36 L160.52 782.42 L160.65 782.47 L160.78 782.53 L160.92 782.59 L161.05 782.65 L161.18 782.71 L161.31 782.77 L161.45 782.82 L161.58 782.88 L161.71 782.92 L161.85 782.96 L161.98 783.00 L162.11 783.04 L162.25 783.06 L162.38 783.09 L162.51 783.11 L162.64 783.13 L162.78 783.14 L162.91 783.16 L163.04 783.17 L163.18 783.17 L163.31 783.18 L163.44 783.19 L163.58 783.19 L163.71 783.19 L163.84 783.19 L163.97 783.20 L164.11 783.20 L164.24 783.20 L164.37 783.20 L164.51 783.20 L164.64 783.20 L164.77 783.20 L164.91 783.20 L165.04 783.20 L165.17 783.20 L165.30 783.20 L165.44 783.20 L165.57 783.20 L165.70 783.20 L165.84 783.20 L165.97 783.20 L166.10 783.20 L166.24 783.20 L166.37 783.19 L166.50 783.19 L166.63 783.17 L166.77 783.15 L166.90 783.12 L167.03 783.07 L167.17 782.99 L167.30 782.87 L167.43 782.69 L167.57 782.43 L167.70 782.08 L167.83 781.62 L167.96 781.02 L168.10 780.28 L168.23 779.40 L168.36 778.39 L168.50 777.28 L168.63 776.10 L168.76 774.93 L168.90 773.83 L169.03 772.87 L169.16 772.13 L169.29 771.66 L169.43 771.50 L169.56 771.66 L169.69 772.13 L169.83 772.87 L169.96 773.83 L170.09 774.93 L170.23 776.10 L170.36 777.28 L170.49 778.39 L170.62 779.40 L170.76 780.28 L170.89 781.02 L171.02 781.62 L171.16 782.08 L171.29 782.43 L171.42 782.69 L171.56 782.87 L171.69 782.99 L171.82 783.07 L171.95 783.12 L172.09 783.15 L172.22 783.17 L172.35 783.19 L172.49 783.19 L172.62 783.20 L172.75 783.20 L172.89 783.20 L173.02 783.20 L173.15 783.20 L173.28 783.20 L173.42 783.20 L173.55 783.20 L173.68 783.20 L173.82 783.20 L173.95 783.20 L174.08 783.20 L174.22 783.20 L174.35 783.19 L174.48 783.19 L174.61 783.17 L174.75 783.15 L174.88 783.12 L175.01 783.06 L175.15 782.98 L175.28 782.85 L175.41 782.66 L175.55 782.38 L175.68 782.01 L175.81 781.52 L175.94 780.89 L176.08 780.11 L176.21 779.17 L176.34 778.10 L176.48 776.92 L176.61 775.68 L176.74 774.44 L176.88 773.27 L177.01 772.26 L177.14 771.47 L177.27 770.97 L177.41 770.80 L177.54 770.97 L177.67 771.47 L177.81 772.26 L177.94 773.27 L178.07 774.44 L178.21 775.68 L178.34 776.92 L178.47 778.10 L178.60 779.17 L178.74 780.11 L178.87 780.89 L179.00 781.52 L179.14 782.01 L179.27 782.38 L179.40 782.66 L179.54 782.85 L179.67 782.98 L179.80 783.06 L179.93 783.12 L180.07 783.15 L180.20 783.17 L180.33 783.19 L180.47 783.19 L180.60 783.20 L180.73 783.20 L180.87 783.20 L181.00 783.20 L181.13 783.20 L181.26 783.20 L181.40 783.20 L181.53 783.20 L181.66 783.20 L181.80 783.20 L181.93 783.20 L182.06 783.20 L182.20 783.20 L182.33 783.20 L182.46 783.20 L182.59 783.20 L182.73 783.20 L182.86 783.20 L182.99 783.20 L183.13 783.20 L183.26 783.20 L183.39 783.20 L183.53 783.20 L183.66 783.20 L183.79 783.20 L183.92 783.20 L184.06 783.20 L184.19 783.20 L184.32 783.20 L184.46 783.20 L184.59 783.20 L184.72 783.20 L184.86 783.20 L184.99 783.20 L185.12 783.20 L185.25 783.20 L185.39 783.20 L185.52 783.20 L185.65 783.20 L185.79 783.20 L185.92 783.20 L186.05 783.20 L186.19 783.20 L186.32 783.20 L186.45 783.20 L186.58 783.19 L186.72 783.18 L186.85 783.16 L186.98 783.11 L187.12 783.03 L187.25 782.88 L187.38 782.62 L187.52 782.21 L187.65 781.56 L187.78 780.60 L187.91 779.25 L188.05 777.42 L188.18 775.08 L188.31 772.24 L188.45 768.99 L188.58 765.49 L188.71 762.00 L188.85 758.81 L188.98 756.25 L189.11 754.58 L189.24 754.00 L189.38 754.58 L189.51 756.25 L189.64 758.81 L189.78 762.00 L189.91 765.49 L190.04 768.99 L190.18 772.24 L190.31 775.08 L190.44 777.42 L190.57 779.25 L190.71 780.60 L190.84 781.56 L190.97 782.21 L191.11 782.62 L191.24 782.88 L191.37 783.02 L191.51 783.11 L191.64 783.15 L191.77 783.17 L191.90 783.18 L192.04 783.18 L192.17 783.16 L192.30 783.14 L192.44 783.11 L192.57 783.06 L192.70 783.00 L192.84 782.92 L192.97 782.82 L193.10 782.71 L193.23 782.59 L193.37 782.47 L193.50 782.36 L193.63 782.28 L193.77 782.22 L193.90 782.20 L194.03 782.22 L194.17 782.28 L194.30 782.36 L194.43 782.47 L194.56 782.59 L194.70 782.71 L194.83 782.82 L194.96 782.92 L195.10 783.00 L195.23 783.06 L195.36 783.11 L195.50 783.14 L195.63 783.17 L195.76 783.18 L195.89 783.19 L196.03 783.19 L196.16 783.20 L196.29 783.20 L196.43 783.20 L196.56 783.20 L196.69 783.20 L196.83 783.20 L196.96 783.20 L197.09 783.20 L197.22 783.20 L197.36 783.20 L197.49 783.20 L197.62 783.20 L197.76 783.20 L197.89 783.20 L198.02 783.20 L198.16 783.20 L198.29 783.20 L198.42 783.20 L198.55 783.20 L198.69 783.20 L198.82 783.20 L198.95 783.20 L199.09 783.20 L199.22 783.20 L199.35 783.20 L199.49 783.20 L199.62 783.20 L199.75 783.20 L199.88 783.20 L200.02 783.19 L200.15 783.19 L200.28 783.18 L200.42 783.17 L200.55 783.14 L200.68 783.10 L200.82 783.04 L200.95 782.95 L201.08 782.81 L201.21 782.62 L201.35 782.36 L201.48 782.01 L201.61 781.56 L201.75 781.01 L201.88 780.34 L202.01 779.58 L202.15 778.74 L202.28 777.86 L202.41 776.98 L202.54 776.15 L202.68 775.43 L202.81 774.88 L202.94 774.52 L203.08 774.40 L203.21 774.52 L203.34 774.88 L203.48 775.43 L203.61 776.15 L203.74 776.98 L203.87 777.86 L204.01 778.73 L204.14 779.56 L204.27 780.30 L204.41 780.94 L204.54 781.45 L204.67 781.82 L204.81 782.06 L204.94 782.17 L205.07 782.14 L205.20 781.96 L205.34 781.65 L205.47 781.18 L205.60 780.57 L205.74 779.82 L205.87 778.95 L206.00 777.97 L206.14 776.95 L206.27 775.92 L206.40 774.95 L206.53 774.11 L206.67 773.46 L206.80 773.04 L206.93 772.90 L207.07 773.04 L207.20 773.46 L207.33 774.11 L207.47 774.95 L207.60 775.92 L207.73 776.95 L207.86 777.98 L208.00 778.97 L208.13 779.86 L208.26 780.63 L208.40 781.28 L208.53 781.81 L208.66 782.21 L208.80 782.52 L208.93 782.74 L209.06 782.90 L209.19 783.01 L209.33 783.07 L209.46 783.10 L209.59 783.12 L209.73 783.11 L209.86 783.08 L209.99 783.04 L210.13 782.97 L210.26 782.90 L210.39 782.81 L210.52 782.71 L210.66 782.62 L210.79 782.53 L210.92 782.46 L211.06 782.42 L211.19 782.40 L211.32 782.42 L211.46 782.46 L211.59 782.53 L211.72 782.62 L211.85 782.71 L211.99 782.81 L212.12 782.90 L212.25 782.98 L212.39 783.04 L212.52 783.09 L212.65 783.13 L212.79 783.16 L212.92 783.17 L213.05 783.18 L213.18 783.19 L213.32 783.20 L213.45 783.20 L213.58 783.20 L213.72 783.20 L213.85 783.20 L213.98 783.20 L214.12 783.20 L214.25 783.20 L214.38 783.20 L214.51 783.20 L214.65 783.20 L214.78 783.20 L214.91 783.20 L215.05 783.20 L215.18 783.20 L215.31 783.20 L215.45 783.20 L215.58 783.20 L215.71 783.20 L215.84 783.20 L215.98 783.20 L216.11 783.19 L216.24 783.19 L216.38 783.18 L216.51 783.17 L216.64 783.14 L216.78 783.10 L216.91 783.04 L217.04 782.95 L217.17 782.81 L217.31 782.62 L217.44 782.36 L217.57 782.01 L217.71 781.56 L217.84 781.01 L217.97 780.34 L218.11 779.58 L218.24 778.74 L218.37 777.86 L218.50 776.98 L218.64 776.15 L218.77 775.43 L218.90 774.88 L219.04 774.52 L219.17 774.40 L219.30 774.52 L219.44 774.88 L219.57 775.43 L219.70 776.15 L219.83 776.98 L219.97 777.86 L220.10 778.74 L220.23 779.58 L220.37 780.34 L220.50 781.01 L220.63 781.56 L220.77 782.01 L220.90 782.36 L221.03 782.62 L221.16 782.81 L221.30 782.95 L221.43 783.04 L221.56 783.10 L221.70 783.14 L221.83 783.17 L221.96 783.18 L222.10 783.19 L222.23 783.19 L222.36 783.20 L222.49 783.20 L222.63 783.20 L222.76 783.20 L222.89 783.20 L223.03 783.20 L223.16 783.20 L223.29 783.20 L223.43 783.20 L223.56 783.20 L223.69 783.20 L223.82 783.20 L223.96 783.20 L224.09 783.20 L224.22 783.20 L224.36 783.20 L224.49 783.20 L224.62 783.20 L224.76 783.20 L224.89 783.20 L225.02 783.20 L225.15 783.20 L225.29 783.20 L225.42 783.20 L225.55 783.20 L225.69 783.20 L225.82 783.20 L225.95 783.20 L226.09 783.20 L226.22 783.20 L226.35 783.20 L226.48 783.20 L226.62 783.20 L226.75 783.20 L226.88 783.20 L227.02 783.20 L227.15 783.20 L227.28 783.20 L227.42 783.20 L227.55 783.20 L227.68 783.20 L227.81 783.20 L227.95 783.20 L228.08 783.20 L228.21 783.20 L228.35 783.20 L228.48 783.20 L228.61 783.20 L228.75 783.20 L228.88 783.20 L229.01 783.20 L229.14 783.20 L229.28 783.19 L229.41 783.19 L229.54 783.19 L229.68 783.18 L229.81 783.16 L229.94 783.14 L230.08 783.10 L230.21 783.04 L230.34 782.95 L230.47 782.81 L230.61 782.60 L230.74 782.31 L230.87 781.92 L231.01 781.39 L231.14 780.71 L231.27 779.88 L231.41 778.88 L231.54 777.74 L231.67 776.47 L231.80 775.15 L231.94 773.82 L232.07 772.57 L232.20 771.48 L232.34 770.64 L232.47 770.10 L232.60 769.91 L232.74 770.08 L232.87 770.60 L233.00 771.43 L233.13 772.50 L233.27 773.73 L233.40 775.04 L233.53 776.35 L233.67 777.59 L233.80 778.72 L233.93 779.70 L234.07 780.52 L234.20 781.17 L234.33 781.68 L234.46 782.06 L234.60 782.33 L234.73 782.51 L234.86 782.63 L235.00 782.71 L235.13 782.75 L235.26 782.77 L235.40 782.77 L235.53 782.77 L235.66 782.76 L235.79 782.74 L235.93 782.73 L236.06 782.71 L236.19 782.70 L236.33 782.68 L236.46 782.67 L236.59 782.66 L236.73 782.65 L236.86 782.64 L236.99 782.63 L237.12 782.62 L237.26 782.61 L237.39 782.61 L237.52 782.60 L237.66 782.60 L237.79 782.60 L237.92 782.60 L238.06 782.60 L238.19 782.61 L238.32 782.61 L238.45 782.62 L238.59 782.63 L238.72 782.64 L238.85 782.65 L238.99 782.66 L239.12 782.67 L239.25 782.68 L239.39 782.70 L239.52 782.71 L239.65 782.73 L239.78 782.75 L239.92 782.76 L240.05 782.78 L240.18 782.80 L240.32 782.82 L240.45 782.84 L240.58 782.85 L240.72 782.87 L240.85 782.89 L240.98 782.91 L241.11 782.93 L241.25 782.94 L241.38 782.96 L241.51 782.97 L241.65 782.99 L241.78 783.01 L241.91 783.02 L242.05 783.03 L242.18 783.05 L242.31 783.06 L242.44 783.07 L242.58 783.08 L242.71 783.09 L242.84 783.10 L242.98 783.11 L243.11 783.12 L243.24 783.13 L243.38 783.13 L243.51 783.14 L243.64 783.15 L243.77 783.15 L243.91 783.16 L244.04 783.16 L244.17 783.17 L244.31 783.17 L244.44 783.17 L244.57 783.18 L244.71 783.18 L244.84 783.18 L244.97 783.18 L245.10 783.19 L245.24 783.19 L245.37 783.19 L245.50 783.19 L245.64 783.19 L245.77 783.19 L245.90 783.19 L246.04 783.20 L246.17 783.20 L246.30 783.20 L246.43 783.20 L246.57 783.20 L246.70 783.20 L246.83 783.20 L246.97 783.20 L247.10 783.20 L247.23 783.20 L247.37 783.20 L247.50 783.20 L247.63 783.20 L247.76 783.20 L247.90 783.20 L248.03 783.20 L248.16 783.20 L248.30 783.20 L248.43 783.20 L248.56 783.20 L248.70 783.20 L248.83 783.20 L248.96 783.20 L249.09 783.20 L249.23 783.20 L249.36 783.20 L249.49 783.20 L249.63 783.20 L249.76 783.20 L249.89 783.20 L250.03 783.20 L250.16 783.20 L250.29 783.20 L250.42 783.20 L250.56 783.20 L250.69 783.20 L250.82 783.20 L250.96 783.20 L251.09 783.20 L251.22 783.20 L251.36 783.20 L251.49 783.20 L251.62 783.20 L251.75 783.20 L251.89 783.20 L252.02 783.20 L252.15 783.20 L252.29 783.20 L252.42 783.20 L252.55 783.20 L252.69 783.19 L252.82 783.19 L252.95 783.18 L253.08 783.17 L253.22 783.16 L253.35 783.15 L253.48 783.12 L253.62 783.09 L253.75 783.05 L253.88 783.00 L254.02 782.93 L254.15 782.85 L254.28 782.76 L254.41 782.66 L254.55 782.54 L254.68 782.42 L254.81 782.29 L254.95 782.16 L255.08 782.04 L255.21 781.93 L255.35 781.83 L255.48 781.76 L255.61 781.72 L255.74 781.70 L255.88 781.72 L256.01 781.76 L256.14 781.83 L256.28 781.93 L256.41 782.04 L256.54 782.16 L256.68 782.29 L256.81 782.42 L256.94 782.54 L257.07 782.66 L257.21 782.76 L257.34 782.85 L257.47 782.93 L257.61 783.00 L257.74 783.05 L257.87 783.09 L258.01 783.12 L258.14 783.15 L258.27 783.16 L258.40 783.17 L258.54 783.18 L258.67 783.19 L258.80 783.19 L258.94 783.20 L259.07 783.20 L259.20 783.20 L259.34 783.20 L259.47 783.20 L259.60 783.20 L259.73 783.20 L259.87 783.20 L260.00 783.20 L260.13 783.20 L260.27 783.20 L260.40 783.20 L260.53 783.20 L260.67 783.20 L260.80 783.20 L260.93 783.20 L261.06 783.20 L261.20 783.20 L261.33 783.20 L261.46 783.20 L261.60 783.20 L261.73 783.20 L261.86 783.20 L262.00 783.20 L262.13 783.20 L262.26 783.20 L262.39 783.20 L262.53 783.20 L262.66 783.20 L262.79 783.20 L262.93 783.20 L263.06 783.20 L263.19 783.20 L263.33 783.20 L263.46 783.20 L263.59 783.20 L263.72 783.20 L263.86 783.20 L263.99 783.20 L264.12 783.20 L264.26 783.20 L264.39 783.20 L264.52 783.20 L264.66 783.20 L264.79 783.20 L264.92 783.20 L265.05 783.20 L265.19 783.20 L265.32 783.20 L265.45 783.20 L265.59 783.20 L265.72 783.20 L265.85 783.20 L265.99 783.20 L266.12 783.20 L266.25 783.20 L266.38 783.20 L266.52 783.20 L266.65 783.20 L266.78 783.20 L266.92 783.20 L267.05 783.20 L267.18 783.20 L267.32 783.20 L267.45 783.20 L267.58 783.20 L267.71 783.20 L267.85 783.20 L267.98 783.20 L268.11 783.20 L268.25 783.20 L268.38 783.20 L268.51 783.20 L268.65 783.20 L268.78 783.20 L268.91 783.20 L269.04 783.20 L269.18 783.20 L269.31 783.20 L269.44 783.20 L269.58 783.20 L269.71 783.20 L269.84 783.20 L269.98 783.20 L270.11 783.20 L270.24 783.20 L270.37 783.20 L270.51 783.20 L270.64 783.20 L270.77 783.20 L270.91 783.20 L271.04 783.20 L271.17 783.20 L271.31 783.20 L271.44 783.20 L271.57 783.20 L271.70 783.20 L271.84 783.20 L271.97 783.20 L272.10 783.20 L272.24 783.20 L272.37 783.20 L272.50 783.20 L272.64 783.20 L272.77 783.20 L272.90 783.20 L273.03 783.20 L273.17 783.20 L273.30 783.20 L273.43 783.20 L273.57 783.20 L273.70 783.20 L273.83 783.20 L273.97 783.20 L274.10 783.20 L274.23 783.20 L274.36 783.20 L274.50 783.20 L274.63 783.20 L274.76 783.20 L274.90 783.20 L275.03 783.20 L275.16 783.20 L275.30 783.20 L275.43 783.20 L275.56 783.20 L275.69 783.20 L275.83 783.20 L275.96 783.20 L276.09 783.20 L276.23 783.20 L276.36 783.20 L276.49 783.20 L276.63 783.20 L276.76 783.20 L276.89 783.20 L277.02 783.19 L277.16 783.19 L277.29 783.18 L277.42 783.17 L277.56 783.16 L277.69 783.15 L277.82 783.12 L277.96 783.09 L278.09 783.05 L278.22 783.00 L278.35 782.93 L278.49 782.85 L278.62 782.76 L278.75 782.66 L278.89 782.54 L279.02 782.42 L279.15 782.29 L279.29 782.16 L279.42 782.04 L279.55 781.93 L279.68 781.83 L279.82 781.76 L279.95 781.72 L280.08 781.70 L280.22 781.72 L280.35 781.76 L280.48 781.83 L280.62 781.93 L280.75 782.04 L280.88 782.16 L281.01 782.29 L281.15 782.42 L281.28 782.54 L281.41 782.66 L281.55 782.76 L281.68 782.85 L281.81 782.93 L281.95 783.00 L282.08 783.05 L282.21 783.09 L282.34 783.12 L282.48 783.15 L282.61 783.16 L282.74 783.17 L282.88 783.18 L283.01 783.19 L283.14 783.19 L283.28 783.20 L283.41 783.20 L283.54 783.20 L283.67 783.20 L283.81 783.20 L283.94 783.20 L284.07 783.20 L284.21 783.20 L284.34 783.20 L284.47 783.20 L284.61 783.20 L284.74 783.20 L284.87 783.20 L285.00 783.20 L285.14 783.20 L285.27 783.20 L285.40 783.20 L285.54 783.20 L285.67 783.20 L285.80 783.20 L285.94 783.20 L286.07 783.20 L286.20 783.20 L286.34 783.20 L286.47 783.20 L286.60 783.20 L286.73 783.20 L286.87 783.20 L287.00 783.20 L287.13 783.20 L287.27 783.20 L287.40 783.20 L287.53 783.20 L287.67 783.20 L287.80 783.20 L287.93 783.20 L288.06 783.20 L288.20 783.20 L288.33 783.20 L288.46 783.20 L288.60 783.20 L288.73 783.20 L288.86 783.20 L289.00 783.20 L289.13 783.20 L289.26 783.20 L289.39 783.20 L289.53 783.20 L289.66 783.20 L289.79 783.20 L289.93 783.20 L290.06 783.20 L290.19 783.20 L290.33 783.20 L290.46 783.20 L290.59 783.20 L290.72 783.20 L290.86 783.20 L290.99 783.20 L291.12 783.20 L291.26 783.20 L291.39 783.20 L291.52 783.20 L291.66 783.20 L291.79 783.20 L291.92 783.20 L292.05 783.20 L292.19 783.20 L292.32 783.20 L292.45 783.20 L292.59 783.20 L292.72 783.20 L292.85 783.20 L292.99 783.20 L293.12 783.20 L293.25 783.20 L293.38 783.19 L293.52 783.19 L293.65 783.18 L293.78 783.17 L293.92 783.15 L294.05 783.13 L294.18 783.09 L294.32 783.03 L294.45 782.96 L294.58 782.85 L294.71 782.72 L294.85 782.54 L294.98 782.31 L295.11 782.02 L295.25 781.68 L295.38 781.28 L295.51 780.82 L295.65 780.31 L295.78 779.77 L295.91 779.20 L296.04 778.63 L296.18 778.09 L296.31 777.59 L296.44 777.18 L296.58 776.86 L296.71 776.67 L296.84 776.60 L296.98 776.67 L297.11 776.86 L297.24 777.18 L297.37 777.59 L297.51 778.09 L297.64 778.63 L297.77 779.20 L297.91 779.77 L298.04 780.31 L298.17 780.82 L298.31 781.28 L298.44 781.68 L298.57 782.02 L298.70 782.31 L298.84 782.54 L298.97 782.72 L299.10 782.85 L299.24 782.96 L299.37 783.03 L299.50 783.09 L299.64 783.13 L299.77 783.15 L299.90 783.17 L300.03 783.18 L300.17 783.19 L300.30 783.19 L300.43 783.20 L300.57 783.20 L300.70 783.20 L300.83 783.20 L300.97 783.20 L301.10 783.20 L301.23 783.20 L301.36 783.20 L301.50 783.20 L301.63 783.20 L301.76 783.20 L301.90 783.20 L302.03 783.20 L302.16 783.20 L302.30 783.20 L302.43 783.20 L302.56 783.20 L302.69 783.20 L302.83 783.20 L302.96 783.20 L303.09 783.20 L303.23 783.20 L303.36 783.20 L303.49 783.20 L303.63 783.20 L303.76 783.20 L303.89 783.20 L304.02 783.20 L304.16 783.20 L304.29 783.20 L304.42 783.20 L304.56 783.19 L304.69 783.19 L304.82 783.19 L304.96 783.18 L305.09 783.17 L305.22 783.16 L305.35 783.15 L305.49 783.14 L305.62 783.12 L305.75 783.09 L305.89 783.06 L306.02 783.03 L306.15 782.99 L306.29 782.94 L306.42 782.89 L306.55 782.83 L306.68 782.78 L306.82 782.71 L306.95 782.65 L307.08 782.60 L307.22 782.54 L307.35 782.49 L307.48 782.45 L307.62 782.42 L307.75 782.41 L307.88 782.40 L308.01 782.41 L308.15 782.42 L308.28 782.45 L308.41 782.49 L308.55 782.54 L308.68 782.60 L308.81 782.65 L308.95 782.71 L309.08 782.78 L309.21 782.83 L309.34 782.89 L309.48 782.94 L309.61 782.99 L309.74 783.03 L309.88 783.06 L310.01 783.09 L310.14 783.12 L310.28 783.14 L310.41 783.15 L310.54 783.16 L310.67 783.17 L310.81 783.18 L310.94 783.19 L311.07 783.19 L311.21 783.19 L311.34 783.20 L311.47 783.20 L311.61 783.20 L311.74 783.20 L311.87 783.20 L312.00 783.20 L312.14 783.20 L312.27 783.20 L312.40 783.20 L312.54 783.20 L312.67 783.20 L312.80 783.20 L312.94 783.20 L313.07 783.20 L313.20 783.20 L313.33 783.20 L313.47 783.20 L313.60 783.20 L313.73 783.20 L313.87 783.20 L314.00 783.20 L314.13 783.20 L314.27 783.20 L314.40 783.20 L314.53 783.20 L314.66 783.20 L314.80 783.20 L314.93 783.20 L315.06 783.20 L315.20 783.20 L315.33 783.20 L315.46 783.20 L315.60 783.20 L315.73 783.20 L315.86 783.20 L315.99 783.20 L316.13 783.20 L316.26 783.20 L316.39 783.20 L316.53 783.20 L316.66 783.20 L316.79 783.20 L316.93 783.20 L317.06 783.20 L317.19 783.20 L317.32 783.20 L317.46 783.20 L317.59 783.20 L317.72 783.20 L317.86 783.20 L317.99 783.20 L318.12 783.20 L318.26 783.20 L318.39 783.20 L318.52 783.20 L318.65 783.20 L318.79 783.20 L318.92 783.20 L319.05 783.20 L319.19 783.20 L319.32 783.20 L319.45 783.20 L319.59 783.20 L319.72 783.20 L319.85 783.20 L319.98 783.19 L320.12 783.19 L320.25 783.19 L320.38 783.18 L320.52 783.17 L320.65 783.16 L320.78 783.15 L320.92 783.13 L321.05 783.11 L321.18 783.08 L321.31 783.04 L321.45 783.00 L321.58 782.94 L321.71 782.87 L321.85 782.79 L321.98 782.69 L322.11 782.58 L322.25 782.44 L322.38 782.29 L322.51 782.12 L322.64 781.92 L322.78 781.71 L322.91 781.47 L323.04 781.22 L323.18 780.96 L323.31 780.69 L323.44 780.41 L323.58 780.13 L323.71 779.86 L323.84 779.60 L323.97 779.36 L324.11 779.14 L324.24 778.95 L324.37 778.80 L324.51 778.69 L324.64 778.62 L324.77 778.60 L324.91 778.62 L325.04 778.69 L325.17 778.80 L325.30 778.95 L325.44 779.14 L325.57 779.36 L325.70 779.60 L325.84 779.86 L325.97 780.13 L326.10 780.41 L326.24 780.69 L326.37 780.96 L326.50 781.22 L326.63 781.47 L326.77 781.70 L326.90 781.92 L327.03 782.11 L327.17 782.28 L327.30 782.43 L327.43 782.55 L327.57 782.66 L327.70 782.74 L327.83 782.80 L327.96 782.85 L328.10 782.87 L328.23 782.86 L328.36 782.84 L328.50 782.79 L328.63 782.73 L328.76 782.63 L328.90 782.51 L329.03 782.37 L329.16 782.21 L329.29 782.02 L329.43 781.82 L329.56 781.60 L329.69 781.37 L329.83 781.15 L329.96 780.93 L330.09 780.73 L330.23 780.54 L330.36 780.39 L330.49 780.28 L330.62 780.20 L330.76 780.17 L330.89 780.19 L331.02 780.24 L331.16 780.33 L331.29 780.45 L331.42 780.60 L331.56 780.76 L331.69 780.91 L331.82 781.06 L331.95 781.19 L332.09 781.29 L332.22 781.34 L332.35 781.34 L332.49 781.29 L332.62 781.16 L332.75 780.96 L332.89 780.69 L333.02 780.33 L333.15 779.89 L333.28 779.36 L333.42 778.76 L333.55 778.07 L333.68 777.31 L333.82 776.48 L333.95 775.60 L334.08 774.67 L334.22 773.71 L334.35 772.75 L334.48 771.79 L334.61 770.86 L334.75 769.97 L334.88 769.16 L335.01 768.42 L335.15 767.79 L335.28 767.28 L335.41 766.90 L335.55 766.64 L335.68 766.53 L335.81 766.55 L335.94 766.71 L336.08 766.98 L336.21 767.37 L336.34 767.85 L336.48 768.42 L336.61 769.04 L336.74 769.71 L336.88 770.40 L337.01 771.11 L337.14 771.80 L337.27 772.49 L337.41 773.14 L337.54 773.76 L337.67 774.34 L337.81 774.88 L337.94 775.37 L338.07 775.83 L338.21 776.24 L338.34 776.61 L338.47 776.95 L338.60 777.27 L338.74 777.56 L338.87 777.83 L339.00 778.09 L339.14 778.34 L339.27 778.58 L339.40 778.81 L339.54 779.03 L339.67 779.26 L339.80 779.48 L339.93 779.70 L340.07 779.92 L340.20 780.13 L340.33 780.34 L340.47 780.54 L340.60 780.74 L340.73 780.93 L340.87 781.10 L341.00 781.27 L341.13 781.41 L341.26 781.54 L341.40 781.64 L341.53 781.72 L341.66 781.77 L341.80 781.78 L341.93 781.75 L342.06 781.68 L342.20 781.55 L342.33 781.37 L342.46 781.13 L342.59 780.83 L342.73 780.48 L342.86 780.07 L342.99 779.62 L343.13 779.14 L343.26 778.63 L343.39 778.12 L343.53 777.62 L343.66 777.16 L343.79 776.75 L343.92 776.41 L344.06 776.15 L344.19 776.00 L344.32 775.95 L344.46 776.02 L344.59 776.19 L344.72 776.46 L344.86 776.83 L344.99 777.26 L345.12 777.75 L345.25 778.28 L345.39 778.83 L345.52 779.37 L345.65 779.90 L345.79 780.40 L345.92 780.86 L346.05 781.27 L346.19 781.64 L346.32 781.96 L346.45 782.22 L346.58 782.44 L346.72 782.62 L346.85 782.76 L346.98 782.87 L347.12 782.95 L347.25 783.01 L347.38 783.04 L347.52 783.06 L347.65 783.06 L347.78 783.04 L347.91 783.01 L348.05 782.95 L348.18 782.87 L348.31 782.77 L348.45 782.64 L348.58 782.48 L348.71 782.28 L348.85 782.05 L348.98 781.78 L349.11 781.48 L349.24 781.14 L349.38 780.77 L349.51 780.39 L349.64 779.99 L349.78 779.59 L349.91 779.20 L350.04 778.84 L350.18 778.52 L350.31 778.26 L350.44 778.06 L350.57 777.94 L350.71 777.90 L350.84 777.94 L350.97 778.06 L351.11 778.26 L351.24 778.52 L351.37 778.84 L351.51 779.20 L351.64 779.59 L351.77 779.99 L351.90 780.39 L352.04 780.77 L352.17 781.14 L352.30 781.48 L352.44 781.78 L352.57 782.05 L352.70 782.29 L352.84 782.48 L352.97 782.65 L353.10 782.78 L353.23 782.88 L353.37 782.97 L353.50 783.03 L353.63 783.08 L353.77 783.11 L353.90 783.14 L354.03 783.16 L354.17 783.17 L354.30 783.18 L354.43 783.19 L354.56 783.19 L354.70 783.20 L354.83 783.20 L354.96 783.20 L355.10 783.20 L355.23 783.20 L355.36 783.20 L355.50 783.20 L355.63 783.20 L355.76 783.20 L355.89 783.20 L356.03 783.20 L356.16 783.20 L356.29 783.19 L356.43 783.19 L356.56 783.19 L356.69 783.19 L356.83 783.18 L356.96 783.18 L357.09 783.17 L357.22 783.16 L357.36 783.15 L357.49 783.13 L357.62 783.12 L357.76 783.09 L357.89 783.07 L358.02 783.03 L358.16 782.99 L358.29 782.94 L358.42 782.88 L358.55 782.81 L358.69 782.73 L358.82 782.64 L358.95 782.53 L359.09 782.40 L359.22 782.26 L359.35 782.10 L359.49 781.92 L359.62 781.73 L359.75 781.52 L359.88 781.28 L360.02 781.04 L360.15 780.77 L360.28 780.50 L360.42 780.21 L360.55 779.92 L360.68 779.62 L360.82 779.32 L360.95 779.03 L361.08 778.75 L361.21 778.48 L361.35 778.22 L361.48 777.99 L361.61 777.79 L361.75 777.62 L361.88 777.48 L362.01 777.38 L362.15 777.32 L362.28 777.30 L362.41 777.32 L362.54 777.38 L362.68 777.48 L362.81 777.62 L362.94 777.79 L363.08 777.99 L363.21 778.22 L363.34 778.48 L363.48 778.75 L363.61 779.03 L363.74 779.32 L363.87 779.62 L364.01 779.92 L364.14 780.21 L364.27 780.50 L364.41 780.77 L364.54 781.04 L364.67 781.28 L364.81 781.52 L364.94 781.73 L365.07 781.92 L365.20 782.10 L365.34 782.26 L365.47 782.40 L365.60 782.53 L365.74 782.64 L365.87 782.73 L366.00 782.81 L366.14 782.88 L366.27 782.94 L366.40 782.99 L366.53 783.03 L366.67 783.07 L366.80 783.09 L366.93 783.12 L367.07 783.13 L367.20 783.15 L367.33 783.16 L367.47 783.17 L367.60 783.18 L367.73 783.18 L367.86 783.19 L368.00 783.19 L368.13 783.19 L368.26 783.19 L368.40 783.20 L368.53 783.20 L368.66 783.20 L368.80 783.20 L368.93 783.20 L369.06 783.20 L369.19 783.20 L369.33 783.20 L369.46 783.20 L369.59 783.20 L369.73 783.20 L369.86 783.20 L369.99 783.20 L370.13 783.20 L370.26 783.20 L370.39 783.20 L370.52 783.20 L370.66 783.20 L370.79 783.20 L370.92 783.20 L371.06 783.20 L371.19 783.20 L371.32 783.20 L371.46 783.20 L371.59 783.20 L371.72 783.20 L371.85 783.20 L371.99 783.19 L372.12 783.19 L372.25 783.19 L372.39 783.19 L372.52 783.19 L372.65 783.19 L372.79 783.19 L372.92 783.19 L373.05 783.19 L373.18 783.18 L373.32 783.18 L373.45 783.18 L373.58 783.17 L373.72 783.17 L373.85 783.16 L373.98 783.14 L374.12 783.13 L374.25 783.10 L374.38 783.07 L374.51 783.02 L374.65 782.96 L374.78 782.89 L374.91 782.79 L375.05 782.68 L375.18 782.54 L375.31 782.37 L375.45 782.18 L375.58 781.97 L375.71 781.75 L375.84 781.52 L375.98 781.29 L376.11 781.06 L376.24 780.86 L376.38 780.68 L376.51 780.55 L376.64 780.46 L376.78 780.42 L376.91 780.43 L377.04 780.49 L377.17 780.60 L377.31 780.74 L377.44 780.92 L377.57 781.11 L377.71 781.31 L377.84 781.52 L377.97 781.71 L378.11 781.88 L378.24 782.04 L378.37 782.17 L378.50 782.28 L378.64 782.36 L378.77 782.42 L378.90 782.45 L379.04 782.48 L379.17 782.48 L379.30 782.47 L379.44 782.46 L379.57 782.43 L379.70 782.40 L379.83 782.37 L379.97 782.33 L380.10 782.28 L380.23 782.24 L380.37 782.19 L380.50 782.14 L380.63 782.09 L380.77 782.04 L380.90 781.99 L381.03 781.94 L381.16 781.88 L381.30 781.82 L381.43 781.77 L381.56 781.71 L381.70 781.65 L381.83 781.59 L381.96 781.53 L382.10 781.46 L382.23 781.40 L382.36 781.34 L382.49 781.27 L382.63 781.20 L382.76 781.14 L382.89 781.07 L383.03 781.00 L383.16 780.93 L383.29 780.86 L383.43 780.78 L383.56 780.71 L383.69 780.63 L383.82 780.55 L383.96 780.47 L384.09 780.39 L384.22 780.31 L384.36 780.22 L384.49 780.13 L384.62 780.04 L384.76 779.95 L384.89 779.85 L385.02 779.75 L385.15 779.65 L385.29 779.55 L385.42 779.44 L385.55 779.33 L385.69 779.22 L385.82 779.11 L385.95 778.99 L386.09 778.88 L386.22 778.76 L386.35 778.64 L386.48 778.52 L386.62 778.40 L386.75 778.28 L386.88 778.16 L387.02 778.04 L387.15 777.93 L387.28 777.81 L387.42 777.70 L387.55 777.59 L387.68 777.48 L387.81 777.37 L387.95 777.26 L388.08 777.14 L388.21 777.02 L388.35 776.88 L388.48 776.74 L388.61 776.57 L388.75 776.38 L388.88 776.16 L389.01 775.91 L389.14 775.62 L389.28 775.30 L389.41 774.95 L389.54 774.56 L389.68 774.15 L389.81 773.72 L389.94 773.29 L390.08 772.87 L390.21 772.48 L390.34 772.13 L390.47 771.84 L390.61 771.62 L390.74 771.47 L390.87 771.41 L391.01 771.43 L391.14 771.50 L391.27 771.62 L391.41 771.74 L391.54 771.84 L391.67 771.87 L391.80 771.79 L391.94 771.56 L392.07 771.18 L392.20 770.63 L392.34 769.94 L392.47 769.14 L392.60 768.30 L392.74 767.50 L392.87 766.82 L393.00 766.35 L393.13 766.17 L393.27 766.32 L393.40 766.82 L393.53 767.67 L393.67 768.81 L393.80 770.19 L393.93 771.72 L394.07 773.31 L394.20 774.88 L394.33 776.37 L394.46 777.72 L394.60 778.89 L394.73 779.88 L394.86 780.68 L395.00 781.31 L395.13 781.80 L395.26 782.16 L395.40 782.42 L395.53 782.61 L395.66 782.75 L395.79 782.84 L395.93 782.91 L396.06 782.96 L396.19 783.00 L396.33 783.03 L396.46 783.05 L396.59 783.07 L396.73 783.08 L396.86 783.09 L396.99 783.11 L397.12 783.12 L397.26 783.13 L397.39 783.13 L397.52 783.14 L397.66 783.15 L397.79 783.15 L397.92 783.16 L398.06 783.16 L398.19 783.17 L398.32 783.17 L398.45 783.17 L398.59 783.18 L398.72 783.18 L398.85 783.18 L398.99 783.18 L399.12 783.19 L399.25 783.19 L399.39 783.19 L399.52 783.19 L399.65 783.19 L399.78 783.19 L399.92 783.19 L400.05 783.19 L400.18 783.19 L400.32 783.20 L400.45 783.20 L400.58 783.20 L400.72 783.20 L400.85 783.20 L400.98 783.20 L401.11 783.20 L401.25 783.20 L401.38 783.20 L401.51 783.20 L401.65 783.20 L401.78 783.20 L401.91 783.20 L402.05 783.20 L402.18 783.20 L402.31 783.20 L402.44 783.20 L402.58 783.20 L402.71 783.20 L402.84 783.20 L402.98 783.20 L403.11 783.20 L403.24 783.20 L403.38 783.20 L403.51 783.20 L403.64 783.20 L403.77 783.20 L403.91 783.20 L404.04 783.20 L404.17 783.20 L404.31 783.20 L404.44 783.20 L404.57 783.20 L404.71 783.20 L404.84 783.20 L404.97 783.20 L405.10 783.20 L405.24 783.20 L405.37 783.20 L405.50 783.20 L405.64 783.20 L405.77 783.20 L405.90 783.20 L406.04 783.20 L406.17 783.20 L406.30 783.20 L406.43 783.20 L406.57 783.20 L406.70 783.20 L406.83 783.20 L406.97 783.20 L407.10 783.20 L407.23 783.20 L407.37 783.20 L407.50 783.20 L407.63 783.20" fill="none" stroke="#111" stroke-width="0.85" stroke-linejoin="round"/>
<line x1="47.60" y1="783.20" x2="408.30" y2="783.20" stroke="#222" stroke-width="0.9"/>
<text x="88.50" y="738.20" font-size="8.4" text-anchor="middle">1</text>
<text x="124.60" y="730.90" font-size="8.4" text-anchor="middle">2</text>
<text x="164.00" y="733.40" font-size="8.4" text-anchor="middle">3</text>
<text x="171.70" y="730.00" font-size="8.4" text-anchor="middle">4</text>
<text x="181.80" y="698.80" font-size="8.4" text-anchor="middle">5</text>
<text x="186.90" y="725.00" font-size="8.4" text-anchor="middle">6</text>
<text x="192.40" y="731.60" font-size="8.4" text-anchor="middle">7</text>
<text x="198.30" y="729.40" font-size="8.4" text-anchor="middle">8</text>
<text x="211.00" y="730.10" font-size="8.4" text-anchor="middle">10</text>
<text x="220.90" y="711.20" font-size="8.4" text-anchor="middle">11</text>
<text x="232.60" y="728.20" font-size="8.4" text-anchor="middle">25</text>
<text x="263.20" y="731.60" font-size="8.4" text-anchor="middle">13</text>
<text x="278.90" y="731.40" font-size="8.4" text-anchor="middle">14</text>
<text x="288.80" y="731.40" font-size="8.4" text-anchor="middle">15</text>
<text x="294.60" y="733.00" font-size="8.4" text-anchor="middle">16</text>
<text x="301.20" y="722.80" font-size="8.4" text-anchor="middle">18</text>
<text x="310.70" y="722.10" font-size="8.4" text-anchor="middle">19</text>
<text x="322.40" y="731.60" font-size="8.4" text-anchor="middle">20</text>
<text x="341.40" y="734.60" font-size="8.4" text-anchor="middle">22</text>
<text x="360.40" y="724.50" font-size="8.4" text-anchor="middle">23</text>
<text x="371.50" y="726.20" font-size="8.4" text-anchor="middle">24</text>
<text x="88.00" y="767.00" font-size="8.4" text-anchor="middle">1</text>
<text x="126.00" y="763.40" font-size="8.4" text-anchor="middle">2</text>
<text x="168.40" y="771.40" font-size="8.4" text-anchor="middle">3</text>
<text x="176.80" y="771.00" font-size="8.4" text-anchor="middle">4</text>
<text x="190.30" y="754.30" font-size="8.4" text-anchor="middle">5</text>
<text x="195.40" y="766.30" font-size="8.4" text-anchor="middle">6</text>
<text x="202.70" y="773.60" font-size="8.4" text-anchor="middle">7</text>
<text x="208.00" y="773.30" font-size="8.4" text-anchor="middle">8</text>
<text x="213.30" y="762.00" font-size="8.4" text-anchor="middle">9</text>
<text x="220.20" y="773.30" font-size="8.4" text-anchor="middle">10</text>
<text x="233.30" y="770.00" font-size="8.4" text-anchor="middle">11</text>
<text x="243.60" y="775.80" font-size="8.4" text-anchor="middle">25</text>
<text x="258.00" y="780.60" font-size="8.4" text-anchor="middle">12</text>
<text x="282.00" y="780.80" font-size="8.4" text-anchor="middle">13</text>
<text x="299.00" y="776.20" font-size="8.4" text-anchor="middle">14</text>
<text x="317.00" y="775.80" font-size="8.4" text-anchor="middle">17</text>
<text x="324.00" y="767.00" font-size="8.4" text-anchor="middle">18</text>
<text x="331.70" y="769.60" font-size="8.4" text-anchor="middle">19</text>
<text x="343.70" y="776.20" font-size="8.4" text-anchor="middle">20</text>
<text x="352.80" y="776.60" font-size="8.4" text-anchor="middle">21</text>
<text x="364.00" y="776.20" font-size="8.4" text-anchor="middle">22</text>
<text x="385.70" y="765.60" font-size="8.4" text-anchor="middle">23</text>
<text x="394.90" y="767.60" font-size="8.4" text-anchor="middle">24</text>
<line x1="186.20" y1="725.80" x2="186.20" y2="739.60" stroke="#333" stroke-width="0.6"/>
<line x1="229.40" y1="728.70" x2="223.80" y2="738.20" stroke="#333" stroke-width="0.6"/>
<line x1="262.80" y1="732.50" x2="262.80" y2="739.80" stroke="#333" stroke-width="0.6"/>
<line x1="287.00" y1="731.50" x2="281.50" y2="740.00" stroke="#333" stroke-width="0.6"/>
<line x1="293.00" y1="733.50" x2="289.50" y2="740.00" stroke="#333" stroke-width="0.6"/>
<line x1="301.70" y1="723.50" x2="304.10" y2="740.00" stroke="#333" stroke-width="0.6"/>
<line x1="309.50" y1="722.80" x2="308.50" y2="738.00" stroke="#333" stroke-width="0.6"/>
<line x1="362.00" y1="725.00" x2="368.00" y2="733.20" stroke="#333" stroke-width="0.6"/>
<line x1="371.50" y1="726.20" x2="369.70" y2="736.70" stroke="#333" stroke-width="0.6"/>
<line x1="193.90" y1="767.00" x2="193.90" y2="781.50" stroke="#333" stroke-width="0.6"/>
<line x1="212.40" y1="762.60" x2="211.10" y2="781.60" stroke="#333" stroke-width="0.6"/>
<line x1="239.90" y1="776.50" x2="237.70" y2="781.60" stroke="#333" stroke-width="0.6"/>
<line x1="317.40" y1="776.50" x2="319.60" y2="781.60" stroke="#333" stroke-width="0.6"/>
<line x1="323.50" y1="767.70" x2="326.00" y2="779.00" stroke="#333" stroke-width="0.6"/>
<line x1="330.50" y1="770.00" x2="333.00" y2="781.00" stroke="#333" stroke-width="0.6"/>
<text x="430.20" y="626.20" font-size="19">D</text>
<line x1="463.50" y1="625.20" x2="463.50" y2="784.20" stroke="#222" stroke-width="1.1" shape-rendering="crispEdges"/>
<line x1="463.50" y1="784.20" x2="620.50" y2="784.20" stroke="#222" stroke-width="1.1" shape-rendering="crispEdges"/>
<line x1="460.50" y1="784.20" x2="463.50" y2="784.20" stroke="#222" stroke-width="1" shape-rendering="crispEdges"/>
<text x="457.90" y="787.30" font-size="8.7" text-anchor="end" letter-spacing="0.2">0</text>
<line x1="460.50" y1="755.28" x2="463.50" y2="755.28" stroke="#222" stroke-width="1" shape-rendering="crispEdges"/>
<text x="457.90" y="758.38" font-size="8.7" text-anchor="end" letter-spacing="0.2">20</text>
<line x1="460.50" y1="726.36" x2="463.50" y2="726.36" stroke="#222" stroke-width="1" shape-rendering="crispEdges"/>
<text x="457.90" y="729.46" font-size="8.7" text-anchor="end" letter-spacing="0.2">40</text>
<line x1="460.50" y1="697.44" x2="463.50" y2="697.44" stroke="#222" stroke-width="1" shape-rendering="crispEdges"/>
<text x="457.90" y="700.54" font-size="8.7" text-anchor="end" letter-spacing="0.2">60</text>
<line x1="460.50" y1="668.52" x2="463.50" y2="668.52" stroke="#222" stroke-width="1" shape-rendering="crispEdges"/>
<text x="457.90" y="671.62" font-size="8.7" text-anchor="end" letter-spacing="0.2">80</text>
<line x1="460.50" y1="639.60" x2="463.50" y2="639.60" stroke="#222" stroke-width="1" shape-rendering="crispEdges"/>
<text x="457.90" y="642.70" font-size="8.7" text-anchor="end" letter-spacing="0.2">100</text>
<line x1="461.70" y1="769.74" x2="463.50" y2="769.74" stroke="#222" stroke-width="0.8"/>
<line x1="461.70" y1="740.82" x2="463.50" y2="740.82" stroke="#222" stroke-width="0.8"/>
<line x1="461.70" y1="711.90" x2="463.50" y2="711.90" stroke="#222" stroke-width="0.8"/>
<line x1="461.70" y1="682.98" x2="463.50" y2="682.98" stroke="#222" stroke-width="0.8"/>
<line x1="461.70" y1="654.06" x2="463.50" y2="654.06" stroke="#222" stroke-width="0.8"/>
<line x1="461.70" y1="625.14" x2="463.50" y2="625.14" stroke="#222" stroke-width="0.8"/>
<text x="441.90" y="705.00" font-size="10.0" text-anchor="middle" transform="rotate(-90 441.90 705.00)">Nucleotide level (mg/g)</text>
<rect x="482.90" y="764.25" width="39.70" height="19.95" fill="#b2d991" stroke="#222" stroke-width="0.9"/>
<rect x="482.90" y="724.91" width="39.70" height="39.33" fill="#c1b2da" stroke="#222" stroke-width="0.9"/>
<rect x="482.90" y="669.97" width="39.70" height="54.95" fill="#fbd97f" stroke="#222" stroke-width="0.9"/>
<rect x="482.90" y="639.60" width="39.70" height="30.37" fill="#7cc3e0" stroke="#222" stroke-width="0.9"/>
<rect x="561.20" y="740.82" width="40.50" height="43.38" fill="#ea6b6b" stroke="#222" stroke-width="0.9"/>
<rect x="561.20" y="707.56" width="40.50" height="33.26" fill="#b2d991" stroke="#222" stroke-width="0.9"/>
<rect x="561.20" y="669.97" width="40.50" height="37.60" fill="#c1b2da" stroke="#222" stroke-width="0.9"/>
<rect x="561.20" y="649.14" width="40.50" height="20.82" fill="#fbd97f" stroke="#222" stroke-width="0.9"/>
<rect x="561.20" y="640.03" width="40.50" height="9.11" fill="#7cc3e0" stroke="#222" stroke-width="0.9"/>
<line x1="522.60" y1="784.20" x2="561.20" y2="740.82" stroke="#111" stroke-width="1.3"/>
<line x1="522.60" y1="764.25" x2="561.20" y2="707.56" stroke="#111" stroke-width="1.3"/>
<line x1="522.60" y1="724.91" x2="561.20" y2="669.97" stroke="#111" stroke-width="1.3"/>
<line x1="522.60" y1="669.97" x2="561.20" y2="649.14" stroke="#111" stroke-width="1.3"/>
<line x1="522.60" y1="639.60" x2="561.20" y2="640.03" stroke="#111" stroke-width="1.3"/>
<line x1="522.60" y1="639.60" x2="561.20" y2="639.60" stroke="#222" stroke-width="1.0" shape-rendering="crispEdges"/>
<line x1="482.90" y1="639.60" x2="522.60" y2="639.60" stroke="#222" stroke-width="1.2" shape-rendering="crispEdges"/>
<line x1="561.20" y1="639.60" x2="601.70" y2="639.60" stroke="#222" stroke-width="1.2" shape-rendering="crispEdges"/>
<line x1="502.70" y1="766.12" x2="502.70" y2="762.37" stroke="#222" stroke-width="0.7"/>
<line x1="501.20" y1="766.12" x2="504.20" y2="766.12" stroke="#222" stroke-width="0.7"/>
<line x1="501.20" y1="762.37" x2="504.20" y2="762.37" stroke="#222" stroke-width="0.7"/>
<line x1="502.70" y1="725.78" x2="502.70" y2="724.05" stroke="#222" stroke-width="0.7"/>
<line x1="501.20" y1="725.78" x2="504.20" y2="725.78" stroke="#222" stroke-width="0.7"/>
<line x1="501.20" y1="724.05" x2="504.20" y2="724.05" stroke="#222" stroke-width="0.7"/>
<line x1="502.70" y1="671.27" x2="502.70" y2="668.66" stroke="#222" stroke-width="0.7"/>
<line x1="501.20" y1="671.27" x2="504.20" y2="671.27" stroke="#222" stroke-width="0.7"/>
<line x1="501.20" y1="668.66" x2="504.20" y2="668.66" stroke="#222" stroke-width="0.7"/>
<line x1="581.50" y1="742.70" x2="581.50" y2="738.94" stroke="#222" stroke-width="0.7"/>
<line x1="580.00" y1="742.70" x2="583.00" y2="742.70" stroke="#222" stroke-width="0.7"/>
<line x1="580.00" y1="738.94" x2="583.00" y2="738.94" stroke="#222" stroke-width="0.7"/>
<line x1="581.50" y1="709.01" x2="581.50" y2="706.12" stroke="#222" stroke-width="0.7"/>
<line x1="580.00" y1="709.01" x2="583.00" y2="709.01" stroke="#222" stroke-width="0.7"/>
<line x1="580.00" y1="706.12" x2="583.00" y2="706.12" stroke="#222" stroke-width="0.7"/>
<line x1="581.50" y1="670.40" x2="581.50" y2="669.53" stroke="#222" stroke-width="0.7"/>
<line x1="580.00" y1="670.40" x2="583.00" y2="670.40" stroke="#222" stroke-width="0.7"/>
<line x1="580.00" y1="669.53" x2="583.00" y2="669.53" stroke="#222" stroke-width="0.7"/>
<line x1="581.50" y1="649.58" x2="581.50" y2="648.71" stroke="#222" stroke-width="0.7"/>
<line x1="580.00" y1="649.58" x2="583.00" y2="649.58" stroke="#222" stroke-width="0.7"/>
<line x1="580.00" y1="648.71" x2="583.00" y2="648.71" stroke="#222" stroke-width="0.7"/>
<line x1="581.50" y1="640.32" x2="581.50" y2="639.74" stroke="#222" stroke-width="0.7"/>
<line x1="580.00" y1="640.32" x2="583.00" y2="640.32" stroke="#222" stroke-width="0.7"/>
<line x1="580.00" y1="639.74" x2="583.00" y2="639.74" stroke="#222" stroke-width="0.7"/>
<text x="502.70" y="645.00" font-size="9.2" text-anchor="middle">0%</text>
<text x="502.70" y="643.20" font-size="9.2" text-anchor="middle">0%</text>
<text x="502.70" y="658.00" font-size="9.2" text-anchor="middle">21%</text>
<text x="502.70" y="700.80" font-size="9.2" text-anchor="middle">38%</text>
<text x="502.70" y="748.30" font-size="9.2" text-anchor="middle">27%</text>
<text x="502.70" y="777.30" font-size="9.2" text-anchor="middle">14%</text>
<text x="502.70" y="787.30" font-size="9.2" text-anchor="middle">0%</text>
<text x="581.50" y="640.50" font-size="9.2" text-anchor="middle">0%</text>
<text x="581.50" y="643.50" font-size="9.2" text-anchor="middle">0%</text>
<text x="581.50" y="647.80" font-size="9.2" text-anchor="middle">6%</text>
<text x="581.50" y="662.70" font-size="9.2" text-anchor="middle">14%</text>
<text x="581.50" y="691.70" font-size="9.2" text-anchor="middle">26%</text>
<text x="581.50" y="727.20" font-size="9.2" text-anchor="middle">23%</text>
<text x="581.50" y="765.70" font-size="9.2" text-anchor="middle">30%</text>
<ellipse cx="502.6" cy="774.4" rx="12.0" ry="4.9" fill="none" stroke="#dc1c1c" stroke-width="1.25"/>
<ellipse cx="580.3" cy="724.1" rx="12.9" ry="7.6" fill="none" stroke="#dc1c1c" stroke-width="1.25"/>
<ellipse cx="580.3" cy="762.1" rx="12.9" ry="8.2" fill="none" stroke="#dc1c1c" stroke-width="1.25"/>
<line x1="502.70" y1="784.20" x2="502.70" y2="787.00" stroke="#222" stroke-width="1" shape-rendering="crispEdges"/>
<line x1="581.50" y1="784.20" x2="581.50" y2="787.00" stroke="#222" stroke-width="1" shape-rendering="crispEdges"/>
<line x1="542.00" y1="784.20" x2="542.00" y2="786.00" stroke="#222" stroke-width="0.8"/>
<text x="502.50" y="797.40" font-size="9.4" text-anchor="middle">Fruiting body</text>
<text x="581.70" y="797.20" font-size="9.45" text-anchor="middle">Pre-cooking liquid</text>
<text x="636.10" y="742.90" font-size="8.8" text-anchor="middle">Umami (+)</text>
<text x="636.20" y="753.60" font-size="8.8" text-anchor="middle">53%</text>
<path d="M602 727 L609 734" stroke="#d42020" stroke-width="0.9"/><path d="M611.5 736.5 L606.3 734.8 L609.6 731.5Z" fill="#d42020"/>
<path d="M602 758.5 L609 752" stroke="#d42020" stroke-width="0.9"/><path d="M611.5 749.8 L609.7 754.9 L606.5 751.6Z" fill="#d42020"/>
<text x="452.60" y="811.60" font-size="8.0" fill="#333">HXR</text>
<text x="487.20" y="811.60" font-size="8.0" fill="#333">HX</text>
<text x="516.60" y="811.60" font-size="8.0" fill="#333">ADP</text>
<text x="550.70" y="811.60" font-size="8.0" fill="#333">ATP</text>
<text x="584.10" y="811.60" font-size="8.0" fill="#333">5-CMP</text>
<text x="626.60" y="811.60" font-size="8.0" fill="#333">AMP</text>
<text x="660.90" y="811.60" font-size="8.0" fill="#333">IMP</text>
<rect x="435.30" y="804.50" width="16.30" height="8.20" fill="#b4ba92" stroke="#222" stroke-width="0.9"/>
<rect x="469.90" y="804.50" width="16.30" height="8.20" fill="#f9a3f0" stroke="#222" stroke-width="0.9"/>
<rect x="499.30" y="804.50" width="16.30" height="8.20" fill="#7cc3e0" stroke="#222" stroke-width="0.9"/>
<rect x="533.40" y="804.50" width="16.30" height="8.20" fill="#fbd97f" stroke="#222" stroke-width="0.9"/>
<rect x="566.80" y="804.50" width="16.30" height="8.20" fill="#c1b2da" stroke="#222" stroke-width="0.9"/>
<rect x="609.30" y="804.50" width="16.30" height="8.20" fill="#b2d991" stroke="#222" stroke-width="0.9"/>
<rect x="643.60" y="804.50" width="16.30" height="8.20" fill="#ea6b6b" stroke="#222" stroke-width="0.9"/>
</svg>
</body></html>
